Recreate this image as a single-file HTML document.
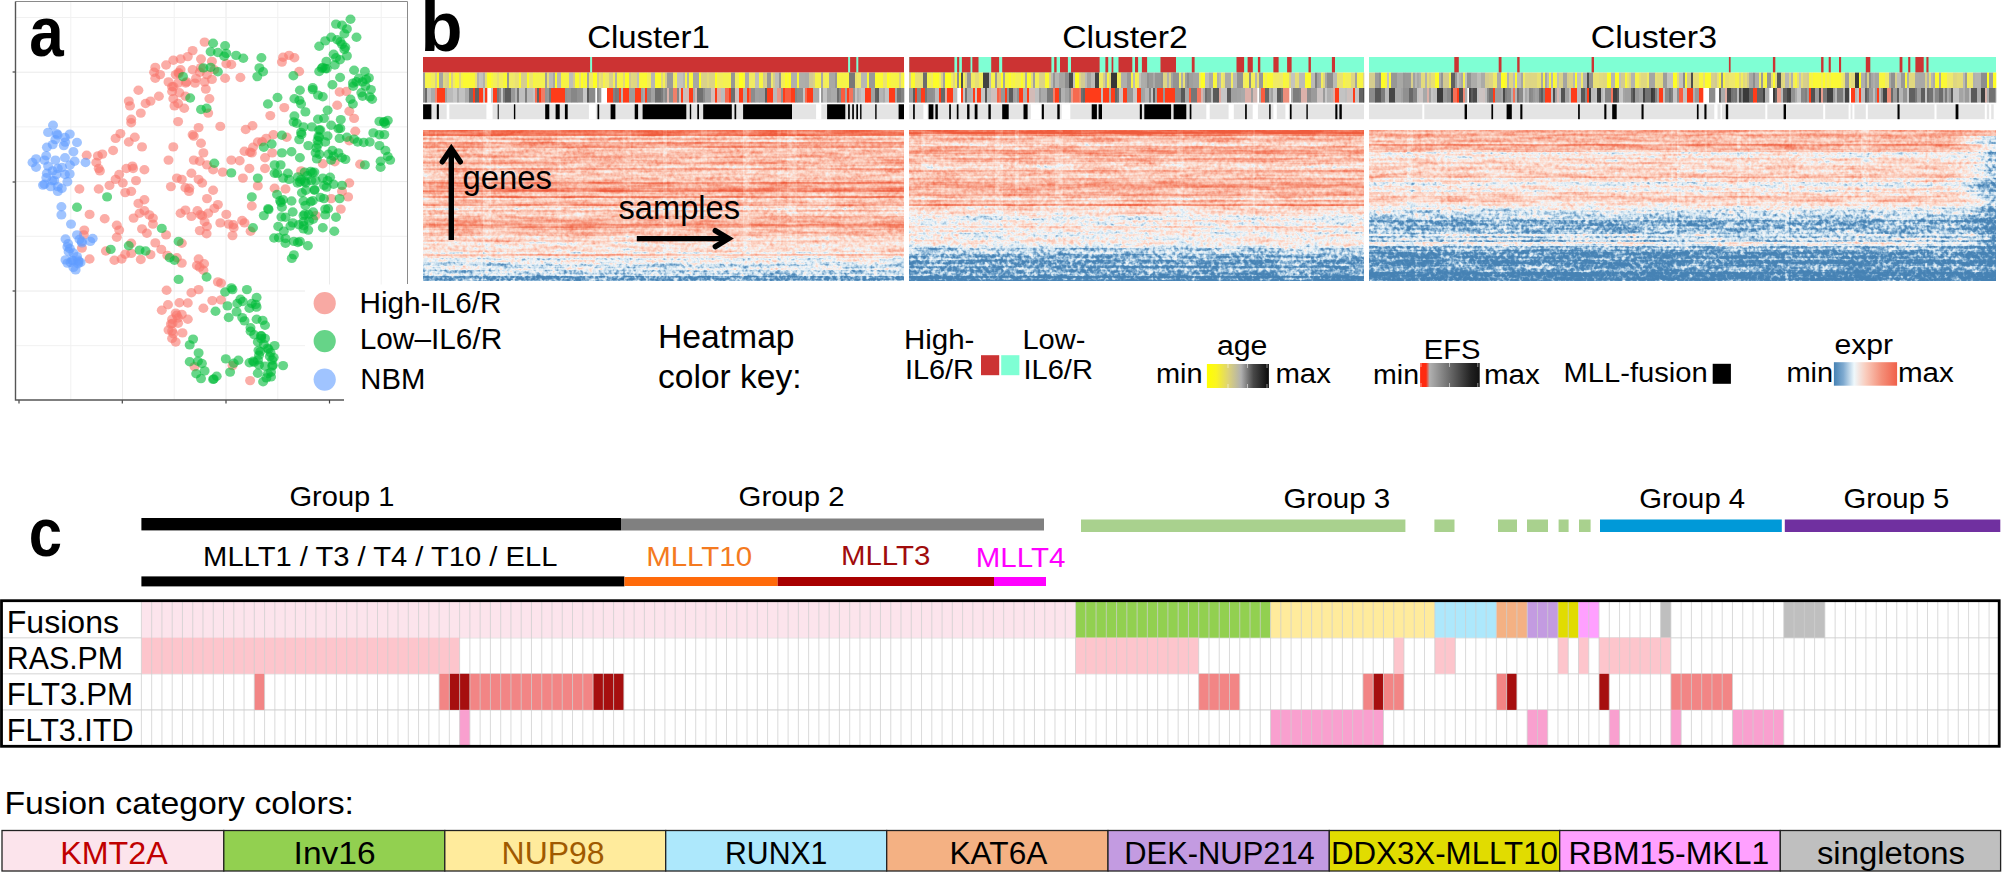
<!DOCTYPE html>
<html lang="en"><head><meta charset="utf-8"><title>Figure</title>
<style>html,body{margin:0;padding:0;background:#fff}svg{display:block}text{font-family:"Liberation Sans",Arial,sans-serif;fill:#000}</style></head><body>
<svg width="2002" height="872" viewBox="0 0 2002 872">
<rect width="2002" height="872" fill="#fff"/>
<defs>
<filter id="hm" x="0" y="0" width="1" height="1" color-interpolation-filters="sRGB">
<feTurbulence type="fractalNoise" baseFrequency="0.27 0.27" numOctaves="2" seed="7" result="n0"/>
<feColorMatrix in="n0" type="matrix" values="1 0 0 0 0 1 0 0 0 0 1 0 0 0 0 0 0 0 0 1" result="n"/>
<feTurbulence type="fractalNoise" baseFrequency="0.025 0.26" numOctaves="2" seed="23" result="s0"/>
<feColorMatrix in="s0" type="matrix" values="0 1 0 0 0 0 1 0 0 0 0 1 0 0 0 0 0 0 0 1" result="s"/>
<feComposite in="SourceGraphic" in2="n" operator="arithmetic" k1="-0.7" k2="1.35" k3="0.8" k4="-0.4" result="v1"/>
<feComposite in="v1" in2="s" operator="arithmetic" k1="0" k2="1" k3="0.36" k4="-0.18" result="v"/>
<feComponentTransfer in="v">
<feFuncR type="table" tableValues="0.275 0.275 0.314 0.529 0.804 0.949 0.992 0.984 0.973 0.957 0.941"/>
<feFuncG type="table" tableValues="0.510 0.510 0.541 0.698 0.886 0.965 0.878 0.769 0.627 0.486 0.361"/>
<feFuncB type="table" tableValues="0.706 0.706 0.729 0.831 0.941 0.976 0.831 0.698 0.533 0.376 0.243"/>
</feComponentTransfer>
</filter>
<linearGradient id="gAge" x1="0" x2="1" y1="0" y2="0"><stop offset="0" stop-color="#ffff00"/><stop offset="0.15" stop-color="#fbf520"/><stop offset="0.35" stop-color="#dcd278"/><stop offset="0.55" stop-color="#b0b0b0"/><stop offset="0.75" stop-color="#484848"/><stop offset="1" stop-color="#0a0a0a"/></linearGradient>
<linearGradient id="gEfs" x1="0" x2="1" y1="0" y2="0"><stop offset="0" stop-color="#ff2a10"/><stop offset="0.1" stop-color="#ff2a10"/><stop offset="0.16" stop-color="#b0b0b0"/><stop offset="0.5" stop-color="#6a6a6a"/><stop offset="0.85" stop-color="#222"/><stop offset="1" stop-color="#111"/></linearGradient>
<linearGradient id="gExpr" x1="0" x2="1" y1="0" y2="0"><stop offset="0" stop-color="#4682B4"/><stop offset="0.15" stop-color="#7faad0"/><stop offset="0.32" stop-color="#eef8fc"/><stop offset="0.5" stop-color="#f9cdbe"/><stop offset="0.75" stop-color="#f4907a"/><stop offset="1" stop-color="#f0604a"/></linearGradient>
<linearGradient id="gEdge" x1="0" x2="1" y1="0" y2="0"><stop offset="0" stop-color="#000" stop-opacity="0"/><stop offset="0.5" stop-color="#000" stop-opacity="0.12"/><stop offset="1" stop-color="#000" stop-opacity="0.42"/></linearGradient>
</defs>
<g id="panel-a">
<line x1="70.8" y1="1.5" x2="70.8" y2="400" stroke="#f1f1f1" stroke-width="1"/>
<line x1="122.5" y1="1.5" x2="122.5" y2="400" stroke="#eaeaea" stroke-width="1"/>
<line x1="174.2" y1="1.5" x2="174.2" y2="400" stroke="#f1f1f1" stroke-width="1"/>
<line x1="226.0" y1="1.5" x2="226.0" y2="400" stroke="#eaeaea" stroke-width="1"/>
<line x1="277.8" y1="1.5" x2="277.8" y2="400" stroke="#f1f1f1" stroke-width="1"/>
<line x1="329.5" y1="1.5" x2="329.5" y2="400" stroke="#eaeaea" stroke-width="1"/>
<line x1="381.2" y1="1.5" x2="381.2" y2="400" stroke="#f1f1f1" stroke-width="1"/>
<line x1="15.5" y1="17.5" x2="407.5" y2="17.5" stroke="#f1f1f1" stroke-width="1"/>
<line x1="15.5" y1="72.2" x2="407.5" y2="72.2" stroke="#eaeaea" stroke-width="1"/>
<line x1="15.5" y1="126.9" x2="407.5" y2="126.9" stroke="#f1f1f1" stroke-width="1"/>
<line x1="15.5" y1="181.6" x2="407.5" y2="181.6" stroke="#eaeaea" stroke-width="1"/>
<line x1="15.5" y1="236.3" x2="407.5" y2="236.3" stroke="#f1f1f1" stroke-width="1"/>
<line x1="15.5" y1="291.0" x2="407.5" y2="291.0" stroke="#eaeaea" stroke-width="1"/>
<line x1="15.5" y1="345.7" x2="407.5" y2="345.7" stroke="#f1f1f1" stroke-width="1"/>
<path d="M15.5 1.5H407.5V284" fill="none" stroke="#8a8a8a" stroke-width="1"/>
<line x1="12.6" y1="72" x2="15.5" y2="72" stroke="#444" stroke-width="1.2"/>
<line x1="12.6" y1="182" x2="15.5" y2="182" stroke="#444" stroke-width="1.2"/>
<line x1="12.6" y1="291" x2="15.5" y2="291" stroke="#444" stroke-width="1.2"/>
<line x1="19" y1="400" x2="19" y2="403.5" stroke="#444" stroke-width="1.2"/>
<line x1="122.3" y1="400" x2="122.3" y2="403.5" stroke="#444" stroke-width="1.2"/>
<line x1="226" y1="400" x2="226" y2="403.5" stroke="#444" stroke-width="1.2"/>
<line x1="329.5" y1="400" x2="329.5" y2="403.5" stroke="#444" stroke-width="1.2"/>
<g fill="#F8766D" fill-opacity="0.6"><ellipse cx="204.6" cy="42.1" rx="5" ry="4.7"/><ellipse cx="192.6" cy="50.6" rx="5" ry="4.7"/><ellipse cx="187.8" cy="56.6" rx="5" ry="4.7"/><ellipse cx="180.6" cy="59.0" rx="5" ry="4.7"/><ellipse cx="173.3" cy="60.2" rx="5" ry="4.7"/><ellipse cx="201.0" cy="59.0" rx="5" ry="4.7"/><ellipse cx="166.1" cy="65.0" rx="5" ry="4.7"/><ellipse cx="155.3" cy="67.4" rx="5" ry="4.7"/><ellipse cx="154.1" cy="72.2" rx="5" ry="4.7"/><ellipse cx="160.1" cy="74.6" rx="5" ry="4.7"/><ellipse cx="155.3" cy="78.2" rx="5" ry="4.7"/><ellipse cx="168.5" cy="81.9" rx="5" ry="4.7"/><ellipse cx="175.7" cy="74.6" rx="5" ry="4.7"/><ellipse cx="180.6" cy="69.8" rx="5" ry="4.7"/><ellipse cx="192.6" cy="69.8" rx="5" ry="4.7"/><ellipse cx="199.8" cy="72.2" rx="5" ry="4.7"/><ellipse cx="207.0" cy="74.6" rx="5" ry="4.7"/><ellipse cx="214.3" cy="69.8" rx="5" ry="4.7"/><ellipse cx="211.9" cy="61.4" rx="5" ry="4.7"/><ellipse cx="226.3" cy="63.8" rx="5" ry="4.7"/><ellipse cx="225.1" cy="78.2" rx="5" ry="4.7"/><ellipse cx="211.9" cy="79.4" rx="5" ry="4.7"/><ellipse cx="204.6" cy="81.9" rx="5" ry="4.7"/><ellipse cx="195.0" cy="83.1" rx="5" ry="4.7"/><ellipse cx="186.6" cy="81.9" rx="5" ry="4.7"/><ellipse cx="178.1" cy="83.1" rx="5" ry="4.7"/><ellipse cx="172.1" cy="91.5" rx="5" ry="4.7"/><ellipse cx="179.4" cy="92.7" rx="5" ry="4.7"/><ellipse cx="185.4" cy="96.3" rx="5" ry="4.7"/><ellipse cx="205.8" cy="89.1" rx="5" ry="4.7"/><ellipse cx="209.4" cy="98.7" rx="5" ry="4.7"/><ellipse cx="173.3" cy="98.7" rx="5" ry="4.7"/><ellipse cx="178.1" cy="103.5" rx="5" ry="4.7"/><ellipse cx="184.2" cy="108.3" rx="5" ry="4.7"/><ellipse cx="174.5" cy="105.9" rx="5" ry="4.7"/><ellipse cx="138.4" cy="90.3" rx="5" ry="4.7"/><ellipse cx="158.9" cy="96.3" rx="5" ry="4.7"/><ellipse cx="150.5" cy="101.1" rx="5" ry="4.7"/><ellipse cx="145.6" cy="103.5" rx="5" ry="4.7"/><ellipse cx="128.8" cy="101.1" rx="5" ry="4.7"/><ellipse cx="130.0" cy="105.9" rx="5" ry="4.7"/><ellipse cx="140.8" cy="113.1" rx="5" ry="4.7"/><ellipse cx="131.2" cy="119.2" rx="5" ry="4.7"/><ellipse cx="131.2" cy="122.8" rx="5" ry="4.7"/><ellipse cx="178.1" cy="121.6" rx="5" ry="4.7"/><ellipse cx="208.2" cy="113.1" rx="5" ry="4.7"/><ellipse cx="198.6" cy="127.6" rx="5" ry="4.7"/><ellipse cx="220.3" cy="126.4" rx="5" ry="4.7"/><ellipse cx="192.6" cy="134.8" rx="5" ry="4.7"/><ellipse cx="201.0" cy="143.2" rx="5" ry="4.7"/><ellipse cx="120.4" cy="133.6" rx="5" ry="4.7"/><ellipse cx="115.6" cy="138.4" rx="5" ry="4.7"/><ellipse cx="134.8" cy="137.2" rx="5" ry="4.7"/><ellipse cx="128.8" cy="142.0" rx="5" ry="4.7"/><ellipse cx="142.0" cy="146.9" rx="5" ry="4.7"/><ellipse cx="113.1" cy="150.5" rx="5" ry="4.7"/><ellipse cx="102.3" cy="154.1" rx="5" ry="4.7"/><ellipse cx="86.7" cy="155.3" rx="5" ry="4.7"/><ellipse cx="96.3" cy="162.5" rx="5" ry="4.7"/><ellipse cx="98.7" cy="168.5" rx="5" ry="4.7"/><ellipse cx="99.9" cy="170.9" rx="5" ry="4.7"/><ellipse cx="173.3" cy="146.9" rx="5" ry="4.7"/><ellipse cx="203.4" cy="152.9" rx="5" ry="4.7"/><ellipse cx="168.5" cy="160.1" rx="5" ry="4.7"/><ellipse cx="193.8" cy="160.1" rx="5" ry="4.7"/><ellipse cx="199.8" cy="161.3" rx="5" ry="4.7"/><ellipse cx="207.0" cy="164.9" rx="5" ry="4.7"/><ellipse cx="213.1" cy="169.7" rx="5" ry="4.7"/><ellipse cx="222.7" cy="172.1" rx="5" ry="4.7"/><ellipse cx="132.4" cy="166.1" rx="5" ry="4.7"/><ellipse cx="126.4" cy="168.5" rx="5" ry="4.7"/><ellipse cx="144.4" cy="169.7" rx="5" ry="4.7"/><ellipse cx="119.2" cy="174.5" rx="5" ry="4.7"/><ellipse cx="115.6" cy="179.4" rx="5" ry="4.7"/><ellipse cx="109.5" cy="185.4" rx="5" ry="4.7"/><ellipse cx="122.8" cy="183.0" rx="5" ry="4.7"/><ellipse cx="136.0" cy="180.6" rx="5" ry="4.7"/><ellipse cx="98.7" cy="189.0" rx="5" ry="4.7"/><ellipse cx="79.4" cy="189.0" rx="5" ry="4.7"/><ellipse cx="125.2" cy="192.6" rx="5" ry="4.7"/><ellipse cx="131.2" cy="191.4" rx="5" ry="4.7"/><ellipse cx="144.4" cy="199.8" rx="5" ry="4.7"/><ellipse cx="138.4" cy="203.4" rx="5" ry="4.7"/><ellipse cx="176.9" cy="178.1" rx="5" ry="4.7"/><ellipse cx="181.8" cy="179.4" rx="5" ry="4.7"/><ellipse cx="191.4" cy="173.3" rx="5" ry="4.7"/><ellipse cx="198.6" cy="179.4" rx="5" ry="4.7"/><ellipse cx="170.9" cy="186.6" rx="5" ry="4.7"/><ellipse cx="185.4" cy="187.8" rx="5" ry="4.7"/><ellipse cx="189.0" cy="191.4" rx="5" ry="4.7"/><ellipse cx="202.2" cy="183.0" rx="5" ry="4.7"/><ellipse cx="213.1" cy="190.2" rx="5" ry="4.7"/><ellipse cx="207.0" cy="198.6" rx="5" ry="4.7"/><ellipse cx="217.9" cy="204.6" rx="5" ry="4.7"/><ellipse cx="231.3" cy="64.5" rx="5" ry="4.7"/><ellipse cx="240.4" cy="77.5" rx="5" ry="4.7"/><ellipse cx="283.1" cy="57.3" rx="5" ry="4.7"/><ellipse cx="289.1" cy="55.4" rx="5" ry="4.7"/><ellipse cx="294.4" cy="57.8" rx="5" ry="4.7"/><ellipse cx="281.9" cy="62.1" rx="5" ry="4.7"/><ellipse cx="299.2" cy="71.5" rx="5" ry="4.7"/><ellipse cx="339.6" cy="92.0" rx="5" ry="4.7"/><ellipse cx="346.4" cy="91.5" rx="5" ry="4.7"/><ellipse cx="337.2" cy="105.2" rx="5" ry="4.7"/><ellipse cx="349.3" cy="111.2" rx="5" ry="4.7"/><ellipse cx="354.1" cy="118.4" rx="5" ry="4.7"/><ellipse cx="284.3" cy="107.6" rx="5" ry="4.7"/><ellipse cx="270.3" cy="115.6" rx="5" ry="4.7"/><ellipse cx="252.5" cy="125.7" rx="5" ry="4.7"/><ellipse cx="245.7" cy="129.5" rx="5" ry="4.7"/><ellipse cx="355.3" cy="131.2" rx="5" ry="4.7"/><ellipse cx="349.3" cy="140.8" rx="5" ry="4.7"/><ellipse cx="273.4" cy="134.8" rx="5" ry="4.7"/><ellipse cx="266.2" cy="138.4" rx="5" ry="4.7"/><ellipse cx="257.8" cy="142.0" rx="5" ry="4.7"/><ellipse cx="286.7" cy="137.2" rx="5" ry="4.7"/><ellipse cx="253.0" cy="147.3" rx="5" ry="4.7"/><ellipse cx="244.5" cy="151.2" rx="5" ry="4.7"/><ellipse cx="251.8" cy="152.9" rx="5" ry="4.7"/><ellipse cx="272.2" cy="152.9" rx="5" ry="4.7"/><ellipse cx="265.0" cy="157.7" rx="5" ry="4.7"/><ellipse cx="231.3" cy="160.1" rx="5" ry="4.7"/><ellipse cx="239.7" cy="160.8" rx="5" ry="4.7"/><ellipse cx="249.4" cy="168.5" rx="5" ry="4.7"/><ellipse cx="242.9" cy="178.1" rx="5" ry="4.7"/><ellipse cx="265.0" cy="168.5" rx="5" ry="4.7"/><ellipse cx="301.1" cy="170.9" rx="5" ry="4.7"/><ellipse cx="322.8" cy="163.7" rx="5" ry="4.7"/><ellipse cx="334.8" cy="161.8" rx="5" ry="4.7"/><ellipse cx="360.1" cy="164.2" rx="5" ry="4.7"/><ellipse cx="349.3" cy="183.0" rx="5" ry="4.7"/><ellipse cx="342.0" cy="191.4" rx="5" ry="4.7"/><ellipse cx="257.8" cy="185.9" rx="5" ry="4.7"/><ellipse cx="274.6" cy="188.3" rx="5" ry="4.7"/><ellipse cx="285.5" cy="189.0" rx="5" ry="4.7"/><ellipse cx="331.2" cy="198.6" rx="5" ry="4.7"/><ellipse cx="348.1" cy="196.9" rx="5" ry="4.7"/><ellipse cx="89.6" cy="214.4" rx="5" ry="4.7"/><ellipse cx="104.7" cy="218.8" rx="5" ry="4.7"/><ellipse cx="84.3" cy="230.1" rx="5" ry="4.7"/><ellipse cx="83.8" cy="234.9" rx="5" ry="4.7"/><ellipse cx="81.9" cy="248.1" rx="5" ry="4.7"/><ellipse cx="89.6" cy="259.0" rx="5" ry="4.7"/><ellipse cx="105.9" cy="251.0" rx="5" ry="4.7"/><ellipse cx="114.4" cy="260.2" rx="5" ry="4.7"/><ellipse cx="121.6" cy="259.0" rx="5" ry="4.7"/><ellipse cx="125.2" cy="254.2" rx="5" ry="4.7"/><ellipse cx="131.2" cy="253.4" rx="5" ry="4.7"/><ellipse cx="140.8" cy="259.5" rx="5" ry="4.7"/><ellipse cx="150.5" cy="254.6" rx="5" ry="4.7"/><ellipse cx="116.8" cy="225.3" rx="5" ry="4.7"/><ellipse cx="119.2" cy="230.1" rx="5" ry="4.7"/><ellipse cx="116.8" cy="237.3" rx="5" ry="4.7"/><ellipse cx="131.2" cy="243.3" rx="5" ry="4.7"/><ellipse cx="133.6" cy="218.1" rx="5" ry="4.7"/><ellipse cx="139.6" cy="213.2" rx="5" ry="4.7"/><ellipse cx="144.4" cy="210.8" rx="5" ry="4.7"/><ellipse cx="149.3" cy="214.9" rx="5" ry="4.7"/><ellipse cx="152.9" cy="218.1" rx="5" ry="4.7"/><ellipse cx="142.0" cy="228.9" rx="5" ry="4.7"/><ellipse cx="146.9" cy="233.2" rx="5" ry="4.7"/><ellipse cx="152.9" cy="224.1" rx="5" ry="4.7"/><ellipse cx="155.3" cy="242.9" rx="5" ry="4.7"/><ellipse cx="161.3" cy="249.4" rx="5" ry="4.7"/><ellipse cx="166.1" cy="234.9" rx="5" ry="4.7"/><ellipse cx="167.3" cy="255.4" rx="5" ry="4.7"/><ellipse cx="181.8" cy="243.3" rx="5" ry="4.7"/><ellipse cx="181.8" cy="263.1" rx="5" ry="4.7"/><ellipse cx="176.9" cy="257.8" rx="5" ry="4.7"/><ellipse cx="180.6" cy="213.2" rx="5" ry="4.7"/><ellipse cx="185.4" cy="210.1" rx="5" ry="4.7"/><ellipse cx="191.4" cy="216.4" rx="5" ry="4.7"/><ellipse cx="197.4" cy="210.8" rx="5" ry="4.7"/><ellipse cx="202.2" cy="215.6" rx="5" ry="4.7"/><ellipse cx="204.6" cy="221.7" rx="5" ry="4.7"/><ellipse cx="207.0" cy="226.5" rx="5" ry="4.7"/><ellipse cx="199.8" cy="230.6" rx="5" ry="4.7"/><ellipse cx="206.6" cy="233.7" rx="5" ry="4.7"/><ellipse cx="208.2" cy="213.2" rx="5" ry="4.7"/><ellipse cx="214.3" cy="208.4" rx="5" ry="4.7"/><ellipse cx="226.3" cy="214.4" rx="5" ry="4.7"/><ellipse cx="220.3" cy="222.9" rx="5" ry="4.7"/><ellipse cx="228.7" cy="224.1" rx="5" ry="4.7"/><ellipse cx="198.6" cy="259.0" rx="5" ry="4.7"/><ellipse cx="204.1" cy="263.8" rx="5" ry="4.7"/><ellipse cx="196.9" cy="265.5" rx="5" ry="4.7"/><ellipse cx="203.4" cy="270.3" rx="5" ry="4.7"/><ellipse cx="217.9" cy="281.9" rx="5" ry="4.7"/><ellipse cx="221.0" cy="283.1" rx="5" ry="4.7"/><ellipse cx="198.6" cy="289.6" rx="5" ry="4.7"/><ellipse cx="191.4" cy="292.7" rx="5" ry="4.7"/><ellipse cx="166.6" cy="290.3" rx="5" ry="4.7"/><ellipse cx="179.4" cy="302.8" rx="5" ry="4.7"/><ellipse cx="187.8" cy="303.0" rx="5" ry="4.7"/><ellipse cx="168.0" cy="304.7" rx="5" ry="4.7"/><ellipse cx="161.8" cy="310.3" rx="5" ry="4.7"/><ellipse cx="212.3" cy="300.6" rx="5" ry="4.7"/><ellipse cx="221.0" cy="299.9" rx="5" ry="4.7"/><ellipse cx="203.4" cy="308.3" rx="5" ry="4.7"/><ellipse cx="175.7" cy="313.1" rx="5" ry="4.7"/><ellipse cx="181.8" cy="314.4" rx="5" ry="4.7"/><ellipse cx="178.1" cy="318.0" rx="5" ry="4.7"/><ellipse cx="172.1" cy="319.2" rx="5" ry="4.7"/><ellipse cx="187.8" cy="319.2" rx="5" ry="4.7"/><ellipse cx="170.9" cy="324.0" rx="5" ry="4.7"/><ellipse cx="178.1" cy="323.3" rx="5" ry="4.7"/><ellipse cx="168.5" cy="330.0" rx="5" ry="4.7"/><ellipse cx="173.3" cy="333.6" rx="5" ry="4.7"/><ellipse cx="182.5" cy="332.9" rx="5" ry="4.7"/><ellipse cx="172.1" cy="338.4" rx="5" ry="4.7"/><ellipse cx="175.7" cy="342.0" rx="5" ry="4.7"/><ellipse cx="194.5" cy="366.6" rx="5" ry="4.7"/><ellipse cx="233.7" cy="227.7" rx="5" ry="4.7"/><ellipse cx="242.1" cy="220.5" rx="5" ry="4.7"/><ellipse cx="244.5" cy="222.9" rx="5" ry="4.7"/><ellipse cx="250.6" cy="231.3" rx="5" ry="4.7"/><ellipse cx="232.5" cy="235.6" rx="5" ry="4.7"/><ellipse cx="251.8" cy="206.0" rx="5" ry="4.7"/><ellipse cx="340.8" cy="209.1" rx="5" ry="4.7"/><ellipse cx="315.6" cy="215.6" rx="5" ry="4.7"/><ellipse cx="232.5" cy="365.6" rx="5" ry="4.7"/><ellipse cx="250.1" cy="380.6" rx="5" ry="4.7"/><ellipse cx="172.0" cy="86.8" rx="5" ry="4.7"/><ellipse cx="178.7" cy="73.7" rx="5" ry="4.7"/><ellipse cx="178.5" cy="72.5" rx="5" ry="4.7"/><ellipse cx="200.9" cy="67.6" rx="5" ry="4.7"/><ellipse cx="196.0" cy="78.4" rx="5" ry="4.7"/><ellipse cx="185.7" cy="83.0" rx="5" ry="4.7"/><ellipse cx="173.5" cy="86.8" rx="5" ry="4.7"/><ellipse cx="193.8" cy="136.1" rx="5" ry="4.7"/><ellipse cx="97.9" cy="155.9" rx="5" ry="4.7"/><ellipse cx="133.1" cy="168.5" rx="5" ry="4.7"/><ellipse cx="189.3" cy="188.3" rx="5" ry="4.7"/><ellipse cx="262.1" cy="141.7" rx="5" ry="4.7"/><ellipse cx="250.1" cy="152.3" rx="5" ry="4.7"/><ellipse cx="200.4" cy="214.7" rx="5" ry="4.7"/><ellipse cx="199.6" cy="267.1" rx="5" ry="4.7"/><ellipse cx="176.7" cy="315.3" rx="5" ry="4.7"/><ellipse cx="172.5" cy="323.5" rx="5" ry="4.7"/><ellipse cx="172.1" cy="331.0" rx="5" ry="4.7"/><ellipse cx="233.3" cy="224.7" rx="5" ry="4.7"/></g>
<g fill="#00BA38" fill-opacity="0.6"><ellipse cx="213.1" cy="43.3" rx="5" ry="4.7"/><ellipse cx="225.1" cy="45.7" rx="5" ry="4.7"/><ellipse cx="210.6" cy="51.8" rx="5" ry="4.7"/><ellipse cx="217.9" cy="52.5" rx="5" ry="4.7"/><ellipse cx="226.3" cy="53.4" rx="5" ry="4.7"/><ellipse cx="203.4" cy="67.9" rx="5" ry="4.7"/><ellipse cx="210.6" cy="67.4" rx="5" ry="4.7"/><ellipse cx="217.9" cy="71.7" rx="5" ry="4.7"/><ellipse cx="183.0" cy="76.6" rx="5" ry="4.7"/><ellipse cx="190.2" cy="98.0" rx="5" ry="4.7"/><ellipse cx="201.0" cy="109.5" rx="5" ry="4.7"/><ellipse cx="206.6" cy="108.3" rx="5" ry="4.7"/><ellipse cx="214.3" cy="163.2" rx="5" ry="4.7"/><ellipse cx="107.1" cy="196.9" rx="5" ry="4.7"/><ellipse cx="350.5" cy="19.3" rx="5" ry="4.7"/><ellipse cx="336.0" cy="24.1" rx="5" ry="4.7"/><ellipse cx="342.0" cy="25.3" rx="5" ry="4.7"/><ellipse cx="346.9" cy="28.9" rx="5" ry="4.7"/><ellipse cx="344.4" cy="33.7" rx="5" ry="4.7"/><ellipse cx="356.5" cy="37.3" rx="5" ry="4.7"/><ellipse cx="331.2" cy="37.3" rx="5" ry="4.7"/><ellipse cx="337.2" cy="39.7" rx="5" ry="4.7"/><ellipse cx="325.2" cy="40.9" rx="5" ry="4.7"/><ellipse cx="319.2" cy="46.2" rx="5" ry="4.7"/><ellipse cx="342.0" cy="44.5" rx="5" ry="4.7"/><ellipse cx="344.4" cy="49.4" rx="5" ry="4.7"/><ellipse cx="333.6" cy="54.2" rx="5" ry="4.7"/><ellipse cx="336.0" cy="57.8" rx="5" ry="4.7"/><ellipse cx="346.9" cy="55.9" rx="5" ry="4.7"/><ellipse cx="326.4" cy="61.4" rx="5" ry="4.7"/><ellipse cx="334.8" cy="65.0" rx="5" ry="4.7"/><ellipse cx="322.8" cy="67.4" rx="5" ry="4.7"/><ellipse cx="319.2" cy="71.5" rx="5" ry="4.7"/><ellipse cx="325.2" cy="68.6" rx="5" ry="4.7"/><ellipse cx="354.1" cy="70.3" rx="5" ry="4.7"/><ellipse cx="364.9" cy="71.5" rx="5" ry="4.7"/><ellipse cx="340.1" cy="77.5" rx="5" ry="4.7"/><ellipse cx="358.9" cy="78.2" rx="5" ry="4.7"/><ellipse cx="366.1" cy="79.4" rx="5" ry="4.7"/><ellipse cx="352.9" cy="83.1" rx="5" ry="4.7"/><ellipse cx="362.5" cy="81.9" rx="5" ry="4.7"/><ellipse cx="332.4" cy="84.7" rx="5" ry="4.7"/><ellipse cx="370.9" cy="89.6" rx="5" ry="4.7"/><ellipse cx="361.3" cy="92.7" rx="5" ry="4.7"/><ellipse cx="372.1" cy="99.2" rx="5" ry="4.7"/><ellipse cx="350.5" cy="99.2" rx="5" ry="4.7"/><ellipse cx="352.9" cy="104.0" rx="5" ry="4.7"/><ellipse cx="236.1" cy="55.4" rx="5" ry="4.7"/><ellipse cx="243.3" cy="58.3" rx="5" ry="4.7"/><ellipse cx="261.4" cy="57.8" rx="5" ry="4.7"/><ellipse cx="263.1" cy="71.7" rx="5" ry="4.7"/><ellipse cx="257.3" cy="76.6" rx="5" ry="4.7"/><ellipse cx="293.4" cy="75.8" rx="5" ry="4.7"/><ellipse cx="299.9" cy="90.3" rx="5" ry="4.7"/><ellipse cx="312.7" cy="89.6" rx="5" ry="4.7"/><ellipse cx="318.0" cy="95.1" rx="5" ry="4.7"/><ellipse cx="322.8" cy="96.8" rx="5" ry="4.7"/><ellipse cx="277.5" cy="97.5" rx="5" ry="4.7"/><ellipse cx="294.4" cy="98.7" rx="5" ry="4.7"/><ellipse cx="267.9" cy="104.0" rx="5" ry="4.7"/><ellipse cx="301.1" cy="104.0" rx="5" ry="4.7"/><ellipse cx="305.4" cy="111.9" rx="5" ry="4.7"/><ellipse cx="327.6" cy="110.3" rx="5" ry="4.7"/><ellipse cx="294.4" cy="116.0" rx="5" ry="4.7"/><ellipse cx="296.8" cy="123.3" rx="5" ry="4.7"/><ellipse cx="318.0" cy="119.2" rx="5" ry="4.7"/><ellipse cx="324.0" cy="118.4" rx="5" ry="4.7"/><ellipse cx="340.8" cy="119.6" rx="5" ry="4.7"/><ellipse cx="303.5" cy="126.9" rx="5" ry="4.7"/><ellipse cx="311.9" cy="126.9" rx="5" ry="4.7"/><ellipse cx="320.4" cy="130.0" rx="5" ry="4.7"/><ellipse cx="331.2" cy="125.2" rx="5" ry="4.7"/><ellipse cx="338.4" cy="128.8" rx="5" ry="4.7"/><ellipse cx="301.1" cy="132.4" rx="5" ry="4.7"/><ellipse cx="319.2" cy="137.2" rx="5" ry="4.7"/><ellipse cx="327.6" cy="136.0" rx="5" ry="4.7"/><ellipse cx="339.6" cy="138.4" rx="5" ry="4.7"/><ellipse cx="346.9" cy="137.2" rx="5" ry="4.7"/><ellipse cx="299.2" cy="139.6" rx="5" ry="4.7"/><ellipse cx="308.3" cy="145.6" rx="5" ry="4.7"/><ellipse cx="318.0" cy="144.4" rx="5" ry="4.7"/><ellipse cx="325.2" cy="142.0" rx="5" ry="4.7"/><ellipse cx="281.9" cy="135.3" rx="5" ry="4.7"/><ellipse cx="263.8" cy="147.3" rx="5" ry="4.7"/><ellipse cx="271.7" cy="144.0" rx="5" ry="4.7"/><ellipse cx="281.9" cy="152.9" rx="5" ry="4.7"/><ellipse cx="291.5" cy="151.7" rx="5" ry="4.7"/><ellipse cx="299.9" cy="157.7" rx="5" ry="4.7"/><ellipse cx="315.6" cy="152.9" rx="5" ry="4.7"/><ellipse cx="316.8" cy="158.9" rx="5" ry="4.7"/><ellipse cx="332.4" cy="150.5" rx="5" ry="4.7"/><ellipse cx="338.4" cy="152.9" rx="5" ry="4.7"/><ellipse cx="342.0" cy="157.7" rx="5" ry="4.7"/><ellipse cx="331.2" cy="160.1" rx="5" ry="4.7"/><ellipse cx="274.6" cy="164.9" rx="5" ry="4.7"/><ellipse cx="280.6" cy="164.9" rx="5" ry="4.7"/><ellipse cx="287.9" cy="173.3" rx="5" ry="4.7"/><ellipse cx="274.6" cy="173.3" rx="5" ry="4.7"/><ellipse cx="257.8" cy="178.1" rx="5" ry="4.7"/><ellipse cx="231.3" cy="172.9" rx="5" ry="4.7"/><ellipse cx="304.7" cy="172.1" rx="5" ry="4.7"/><ellipse cx="310.7" cy="171.4" rx="5" ry="4.7"/><ellipse cx="314.4" cy="172.1" rx="5" ry="4.7"/><ellipse cx="307.1" cy="175.7" rx="5" ry="4.7"/><ellipse cx="301.1" cy="179.4" rx="5" ry="4.7"/><ellipse cx="297.5" cy="183.0" rx="5" ry="4.7"/><ellipse cx="305.9" cy="183.0" rx="5" ry="4.7"/><ellipse cx="315.6" cy="180.6" rx="5" ry="4.7"/><ellipse cx="322.8" cy="178.1" rx="5" ry="4.7"/><ellipse cx="327.6" cy="180.6" rx="5" ry="4.7"/><ellipse cx="324.0" cy="185.4" rx="5" ry="4.7"/><ellipse cx="333.6" cy="184.2" rx="5" ry="4.7"/><ellipse cx="342.0" cy="185.4" rx="5" ry="4.7"/><ellipse cx="289.1" cy="179.4" rx="5" ry="4.7"/><ellipse cx="283.1" cy="178.1" rx="5" ry="4.7"/><ellipse cx="305.9" cy="190.2" rx="5" ry="4.7"/><ellipse cx="314.4" cy="190.2" rx="5" ry="4.7"/><ellipse cx="251.8" cy="196.9" rx="5" ry="4.7"/><ellipse cx="277.0" cy="194.5" rx="5" ry="4.7"/><ellipse cx="283.1" cy="199.8" rx="5" ry="4.7"/><ellipse cx="291.5" cy="201.0" rx="5" ry="4.7"/><ellipse cx="303.5" cy="201.0" rx="5" ry="4.7"/><ellipse cx="310.7" cy="201.7" rx="5" ry="4.7"/><ellipse cx="320.4" cy="197.4" rx="5" ry="4.7"/><ellipse cx="324.0" cy="198.6" rx="5" ry="4.7"/><ellipse cx="339.6" cy="198.6" rx="5" ry="4.7"/><ellipse cx="384.2" cy="121.6" rx="5" ry="4.7"/><ellipse cx="387.8" cy="120.4" rx="5" ry="4.7"/><ellipse cx="385.4" cy="124.0" rx="5" ry="4.7"/><ellipse cx="373.3" cy="132.9" rx="5" ry="4.7"/><ellipse cx="379.4" cy="134.8" rx="5" ry="4.7"/><ellipse cx="354.1" cy="139.1" rx="5" ry="4.7"/><ellipse cx="357.7" cy="142.0" rx="5" ry="4.7"/><ellipse cx="363.7" cy="142.5" rx="5" ry="4.7"/><ellipse cx="369.7" cy="142.0" rx="5" ry="4.7"/><ellipse cx="379.4" cy="145.6" rx="5" ry="4.7"/><ellipse cx="385.4" cy="150.5" rx="5" ry="4.7"/><ellipse cx="387.8" cy="156.5" rx="5" ry="4.7"/><ellipse cx="390.2" cy="160.1" rx="5" ry="4.7"/><ellipse cx="380.6" cy="161.3" rx="5" ry="4.7"/><ellipse cx="380.6" cy="167.3" rx="5" ry="4.7"/><ellipse cx="364.9" cy="164.9" rx="5" ry="4.7"/><ellipse cx="77.0" cy="207.2" rx="5" ry="4.7"/><ellipse cx="161.8" cy="228.4" rx="5" ry="4.7"/><ellipse cx="178.6" cy="241.4" rx="5" ry="4.7"/><ellipse cx="110.7" cy="249.4" rx="5" ry="4.7"/><ellipse cx="128.8" cy="245.7" rx="5" ry="4.7"/><ellipse cx="139.6" cy="250.1" rx="5" ry="4.7"/><ellipse cx="145.6" cy="251.0" rx="5" ry="4.7"/><ellipse cx="169.7" cy="257.8" rx="5" ry="4.7"/><ellipse cx="174.5" cy="260.2" rx="5" ry="4.7"/><ellipse cx="178.6" cy="279.4" rx="5" ry="4.7"/><ellipse cx="206.6" cy="277.0" rx="5" ry="4.7"/><ellipse cx="225.1" cy="292.0" rx="5" ry="4.7"/><ellipse cx="227.5" cy="305.9" rx="5" ry="4.7"/><ellipse cx="215.5" cy="311.2" rx="5" ry="4.7"/><ellipse cx="228.7" cy="317.5" rx="5" ry="4.7"/><ellipse cx="193.1" cy="339.1" rx="5" ry="4.7"/><ellipse cx="189.7" cy="344.9" rx="5" ry="4.7"/><ellipse cx="198.6" cy="352.9" rx="5" ry="4.7"/><ellipse cx="189.7" cy="361.8" rx="5" ry="4.7"/><ellipse cx="197.9" cy="361.3" rx="5" ry="4.7"/><ellipse cx="225.8" cy="358.9" rx="5" ry="4.7"/><ellipse cx="196.2" cy="373.8" rx="5" ry="4.7"/><ellipse cx="204.6" cy="370.9" rx="5" ry="4.7"/><ellipse cx="201.0" cy="378.6" rx="5" ry="4.7"/><ellipse cx="213.1" cy="379.4" rx="5" ry="4.7"/><ellipse cx="216.7" cy="376.2" rx="5" ry="4.7"/><ellipse cx="268.6" cy="209.6" rx="5" ry="4.7"/><ellipse cx="263.8" cy="215.6" rx="5" ry="4.7"/><ellipse cx="253.0" cy="227.7" rx="5" ry="4.7"/><ellipse cx="281.9" cy="207.2" rx="5" ry="4.7"/><ellipse cx="292.7" cy="212.0" rx="5" ry="4.7"/><ellipse cx="285.5" cy="217.3" rx="5" ry="4.7"/><ellipse cx="303.5" cy="215.6" rx="5" ry="4.7"/><ellipse cx="313.1" cy="212.0" rx="5" ry="4.7"/><ellipse cx="325.2" cy="209.1" rx="5" ry="4.7"/><ellipse cx="325.2" cy="214.9" rx="5" ry="4.7"/><ellipse cx="336.0" cy="217.3" rx="5" ry="4.7"/><ellipse cx="292.7" cy="222.9" rx="5" ry="4.7"/><ellipse cx="303.5" cy="221.7" rx="5" ry="4.7"/><ellipse cx="313.1" cy="219.3" rx="5" ry="4.7"/><ellipse cx="278.2" cy="226.5" rx="5" ry="4.7"/><ellipse cx="283.8" cy="231.3" rx="5" ry="4.7"/><ellipse cx="303.5" cy="228.9" rx="5" ry="4.7"/><ellipse cx="308.3" cy="230.1" rx="5" ry="4.7"/><ellipse cx="322.8" cy="227.7" rx="5" ry="4.7"/><ellipse cx="334.3" cy="231.3" rx="5" ry="4.7"/><ellipse cx="274.1" cy="238.0" rx="5" ry="4.7"/><ellipse cx="285.5" cy="238.5" rx="5" ry="4.7"/><ellipse cx="285.5" cy="243.3" rx="5" ry="4.7"/><ellipse cx="293.9" cy="241.4" rx="5" ry="4.7"/><ellipse cx="299.9" cy="241.4" rx="5" ry="4.7"/><ellipse cx="307.9" cy="245.7" rx="5" ry="4.7"/><ellipse cx="293.9" cy="254.9" rx="5" ry="4.7"/><ellipse cx="232.5" cy="289.6" rx="5" ry="4.7"/><ellipse cx="246.9" cy="289.6" rx="5" ry="4.7"/><ellipse cx="256.6" cy="297.5" rx="5" ry="4.7"/><ellipse cx="240.4" cy="299.2" rx="5" ry="4.7"/><ellipse cx="237.3" cy="303.5" rx="5" ry="4.7"/><ellipse cx="251.8" cy="303.5" rx="5" ry="4.7"/><ellipse cx="249.4" cy="308.3" rx="5" ry="4.7"/><ellipse cx="256.6" cy="307.1" rx="5" ry="4.7"/><ellipse cx="236.6" cy="311.9" rx="5" ry="4.7"/><ellipse cx="244.5" cy="320.9" rx="5" ry="4.7"/><ellipse cx="256.6" cy="319.2" rx="5" ry="4.7"/><ellipse cx="262.6" cy="320.4" rx="5" ry="4.7"/><ellipse cx="265.0" cy="325.2" rx="5" ry="4.7"/><ellipse cx="250.6" cy="331.2" rx="5" ry="4.7"/><ellipse cx="254.2" cy="334.8" rx="5" ry="4.7"/><ellipse cx="261.4" cy="336.0" rx="5" ry="4.7"/><ellipse cx="265.0" cy="338.4" rx="5" ry="4.7"/><ellipse cx="257.8" cy="342.0" rx="5" ry="4.7"/><ellipse cx="263.8" cy="344.4" rx="5" ry="4.7"/><ellipse cx="274.6" cy="345.6" rx="5" ry="4.7"/><ellipse cx="268.6" cy="349.3" rx="5" ry="4.7"/><ellipse cx="260.2" cy="351.7" rx="5" ry="4.7"/><ellipse cx="259.0" cy="355.3" rx="5" ry="4.7"/><ellipse cx="269.8" cy="356.5" rx="5" ry="4.7"/><ellipse cx="272.2" cy="360.1" rx="5" ry="4.7"/><ellipse cx="253.0" cy="361.3" rx="5" ry="4.7"/><ellipse cx="259.0" cy="364.9" rx="5" ry="4.7"/><ellipse cx="265.0" cy="366.1" rx="5" ry="4.7"/><ellipse cx="272.2" cy="366.1" rx="5" ry="4.7"/><ellipse cx="283.1" cy="365.6" rx="5" ry="4.7"/><ellipse cx="257.8" cy="373.3" rx="5" ry="4.7"/><ellipse cx="271.0" cy="372.1" rx="5" ry="4.7"/><ellipse cx="271.0" cy="376.9" rx="5" ry="4.7"/><ellipse cx="263.1" cy="381.8" rx="5" ry="4.7"/><ellipse cx="233.7" cy="363.2" rx="5" ry="4.7"/><ellipse cx="230.1" cy="372.1" rx="5" ry="4.7"/><ellipse cx="224.2" cy="56.3" rx="5" ry="4.7"/><ellipse cx="340.4" cy="41.8" rx="5" ry="4.7"/><ellipse cx="345.3" cy="47.3" rx="5" ry="4.7"/><ellipse cx="340.0" cy="59.7" rx="5" ry="4.7"/><ellipse cx="321.7" cy="68.2" rx="5" ry="4.7"/><ellipse cx="326.8" cy="68.8" rx="5" ry="4.7"/><ellipse cx="356.4" cy="81.8" rx="5" ry="4.7"/><ellipse cx="368.9" cy="77.9" rx="5" ry="4.7"/><ellipse cx="353.2" cy="86.3" rx="5" ry="4.7"/><ellipse cx="365.4" cy="86.1" rx="5" ry="4.7"/><ellipse cx="362.6" cy="96.3" rx="5" ry="4.7"/><ellipse cx="369.8" cy="96.9" rx="5" ry="4.7"/><ellipse cx="259.4" cy="67.9" rx="5" ry="4.7"/><ellipse cx="312.7" cy="87.8" rx="5" ry="4.7"/><ellipse cx="299.4" cy="100.2" rx="5" ry="4.7"/><ellipse cx="293.6" cy="122.0" rx="5" ry="4.7"/><ellipse cx="319.1" cy="130.0" rx="5" ry="4.7"/><ellipse cx="340.3" cy="128.4" rx="5" ry="4.7"/><ellipse cx="301.5" cy="134.4" rx="5" ry="4.7"/><ellipse cx="318.4" cy="136.5" rx="5" ry="4.7"/><ellipse cx="317.6" cy="140.6" rx="5" ry="4.7"/><ellipse cx="316.5" cy="147.9" rx="5" ry="4.7"/><ellipse cx="319.5" cy="154.3" rx="5" ry="4.7"/><ellipse cx="328.4" cy="154.3" rx="5" ry="4.7"/><ellipse cx="333.6" cy="156.3" rx="5" ry="4.7"/><ellipse cx="345.4" cy="159.4" rx="5" ry="4.7"/><ellipse cx="277.3" cy="173.4" rx="5" ry="4.7"/><ellipse cx="312.6" cy="172.7" rx="5" ry="4.7"/><ellipse cx="297.9" cy="176.9" rx="5" ry="4.7"/><ellipse cx="300.0" cy="181.9" rx="5" ry="4.7"/><ellipse cx="304.9" cy="181.5" rx="5" ry="4.7"/><ellipse cx="311.4" cy="180.6" rx="5" ry="4.7"/><ellipse cx="330.1" cy="177.2" rx="5" ry="4.7"/><ellipse cx="326.6" cy="187.1" rx="5" ry="4.7"/><ellipse cx="301.9" cy="192.7" rx="5" ry="4.7"/><ellipse cx="314.6" cy="189.6" rx="5" ry="4.7"/><ellipse cx="280.1" cy="200.7" rx="5" ry="4.7"/><ellipse cx="305.4" cy="205.5" rx="5" ry="4.7"/><ellipse cx="312.8" cy="200.8" rx="5" ry="4.7"/><ellipse cx="379.4" cy="121.4" rx="5" ry="4.7"/><ellipse cx="384.0" cy="122.2" rx="5" ry="4.7"/><ellipse cx="384.3" cy="134.6" rx="5" ry="4.7"/><ellipse cx="201.9" cy="363.5" rx="5" ry="4.7"/><ellipse cx="213.8" cy="379.0" rx="5" ry="4.7"/><ellipse cx="268.1" cy="208.7" rx="5" ry="4.7"/><ellipse cx="280.9" cy="202.5" rx="5" ry="4.7"/><ellipse cx="281.4" cy="217.0" rx="5" ry="4.7"/><ellipse cx="304.7" cy="214.1" rx="5" ry="4.7"/><ellipse cx="308.6" cy="214.3" rx="5" ry="4.7"/><ellipse cx="328.1" cy="208.8" rx="5" ry="4.7"/><ellipse cx="290.4" cy="226.0" rx="5" ry="4.7"/><ellipse cx="309.0" cy="221.1" rx="5" ry="4.7"/><ellipse cx="298.8" cy="224.8" rx="5" ry="4.7"/><ellipse cx="303.7" cy="225.6" rx="5" ry="4.7"/><ellipse cx="278.8" cy="237.8" rx="5" ry="4.7"/><ellipse cx="297.9" cy="242.5" rx="5" ry="4.7"/><ellipse cx="291.8" cy="258.4" rx="5" ry="4.7"/><ellipse cx="231.4" cy="287.9" rx="5" ry="4.7"/><ellipse cx="242.8" cy="301.5" rx="5" ry="4.7"/><ellipse cx="255.7" cy="304.4" rx="5" ry="4.7"/><ellipse cx="242.2" cy="317.6" rx="5" ry="4.7"/><ellipse cx="250.5" cy="327.7" rx="5" ry="4.7"/><ellipse cx="261.1" cy="338.6" rx="5" ry="4.7"/><ellipse cx="261.0" cy="335.8" rx="5" ry="4.7"/><ellipse cx="267.6" cy="348.1" rx="5" ry="4.7"/><ellipse cx="258.5" cy="350.4" rx="5" ry="4.7"/><ellipse cx="258.0" cy="359.9" rx="5" ry="4.7"/><ellipse cx="270.5" cy="352.6" rx="5" ry="4.7"/><ellipse cx="273.7" cy="357.5" rx="5" ry="4.7"/><ellipse cx="249.5" cy="362.7" rx="5" ry="4.7"/><ellipse cx="254.1" cy="362.2" rx="5" ry="4.7"/><ellipse cx="272.8" cy="365.3" rx="5" ry="4.7"/><ellipse cx="267.9" cy="373.7" rx="5" ry="4.7"/><ellipse cx="266.4" cy="377.9" rx="5" ry="4.7"/><ellipse cx="238.4" cy="360.2" rx="5" ry="4.7"/></g>
<g fill="#619CFF" fill-opacity="0.6"><ellipse cx="53.0" cy="125.2" rx="5" ry="4.7"/><ellipse cx="48.1" cy="132.4" rx="5" ry="4.7"/><ellipse cx="56.6" cy="133.6" rx="5" ry="4.7"/><ellipse cx="69.8" cy="134.1" rx="5" ry="4.7"/><ellipse cx="55.4" cy="139.6" rx="5" ry="4.7"/><ellipse cx="77.0" cy="142.5" rx="5" ry="4.7"/><ellipse cx="46.9" cy="147.3" rx="5" ry="4.7"/><ellipse cx="63.8" cy="145.6" rx="5" ry="4.7"/><ellipse cx="73.4" cy="151.7" rx="5" ry="4.7"/><ellipse cx="36.1" cy="158.9" rx="5" ry="4.7"/><ellipse cx="32.5" cy="162.5" rx="5" ry="4.7"/><ellipse cx="44.5" cy="160.1" rx="5" ry="4.7"/><ellipse cx="55.4" cy="160.1" rx="5" ry="4.7"/><ellipse cx="65.0" cy="157.7" rx="5" ry="4.7"/><ellipse cx="74.6" cy="161.3" rx="5" ry="4.7"/><ellipse cx="85.5" cy="162.5" rx="5" ry="4.7"/><ellipse cx="36.1" cy="167.3" rx="5" ry="4.7"/><ellipse cx="48.1" cy="166.1" rx="5" ry="4.7"/><ellipse cx="57.8" cy="168.5" rx="5" ry="4.7"/><ellipse cx="46.9" cy="173.3" rx="5" ry="4.7"/><ellipse cx="56.6" cy="174.5" rx="5" ry="4.7"/><ellipse cx="65.0" cy="174.5" rx="5" ry="4.7"/><ellipse cx="54.2" cy="180.6" rx="5" ry="4.7"/><ellipse cx="44.5" cy="184.2" rx="5" ry="4.7"/><ellipse cx="57.8" cy="186.6" rx="5" ry="4.7"/><ellipse cx="67.4" cy="181.8" rx="5" ry="4.7"/><ellipse cx="50.6" cy="186.6" rx="5" ry="4.7"/><ellipse cx="57.8" cy="191.4" rx="5" ry="4.7"/><ellipse cx="61.4" cy="206.7" rx="5" ry="4.7"/><ellipse cx="61.4" cy="214.9" rx="5" ry="4.7"/><ellipse cx="71.0" cy="224.1" rx="5" ry="4.7"/><ellipse cx="77.0" cy="234.9" rx="5" ry="4.7"/><ellipse cx="65.5" cy="239.0" rx="5" ry="4.7"/><ellipse cx="92.7" cy="238.5" rx="5" ry="4.7"/><ellipse cx="81.9" cy="242.9" rx="5" ry="4.7"/><ellipse cx="90.3" cy="241.4" rx="5" ry="4.7"/><ellipse cx="67.4" cy="246.9" rx="5" ry="4.7"/><ellipse cx="68.6" cy="251.8" rx="5" ry="4.7"/><ellipse cx="73.4" cy="253.0" rx="5" ry="4.7"/><ellipse cx="77.0" cy="256.6" rx="5" ry="4.7"/><ellipse cx="72.2" cy="260.2" rx="5" ry="4.7"/><ellipse cx="78.2" cy="260.2" rx="5" ry="4.7"/><ellipse cx="67.4" cy="263.1" rx="5" ry="4.7"/><ellipse cx="73.4" cy="267.4" rx="5" ry="4.7"/><ellipse cx="78.2" cy="263.8" rx="5" ry="4.7"/><ellipse cx="57.6" cy="134.9" rx="5" ry="4.7"/><ellipse cx="64.9" cy="137.5" rx="5" ry="4.7"/><ellipse cx="52.7" cy="144.6" rx="5" ry="4.7"/><ellipse cx="65.2" cy="142.1" rx="5" ry="4.7"/><ellipse cx="46.2" cy="155.7" rx="5" ry="4.7"/><ellipse cx="69.9" cy="165.0" rx="5" ry="4.7"/><ellipse cx="62.0" cy="167.4" rx="5" ry="4.7"/><ellipse cx="46.3" cy="177.7" rx="5" ry="4.7"/><ellipse cx="52.6" cy="170.9" rx="5" ry="4.7"/><ellipse cx="69.7" cy="173.9" rx="5" ry="4.7"/><ellipse cx="52.2" cy="180.7" rx="5" ry="4.7"/><ellipse cx="43.0" cy="185.1" rx="5" ry="4.7"/><ellipse cx="61.8" cy="188.4" rx="5" ry="4.7"/><ellipse cx="79.5" cy="239.5" rx="5" ry="4.7"/><ellipse cx="81.8" cy="241.4" rx="5" ry="4.7"/><ellipse cx="68.1" cy="243.7" rx="5" ry="4.7"/><ellipse cx="69.9" cy="248.6" rx="5" ry="4.7"/><ellipse cx="73.2" cy="260.9" rx="5" ry="4.7"/><ellipse cx="70.5" cy="262.4" rx="5" ry="4.7"/><ellipse cx="78.7" cy="261.7" rx="5" ry="4.7"/><ellipse cx="65.5" cy="259.9" rx="5" ry="4.7"/><ellipse cx="75.6" cy="269.9" rx="5" ry="4.7"/><ellipse cx="80.6" cy="262.4" rx="5" ry="4.7"/></g>
<rect x="305" y="284.5" width="240" height="125" fill="#fff"/>
<path d="M15.5 1.5V400H344" fill="none" stroke="#555" stroke-width="1.4"/>
<line x1="329.5" y1="400" x2="329.5" y2="403.5" stroke="#444" stroke-width="1.2"/>
<circle cx="324.7" cy="303.2" r="11.1" fill="#F8A9A3"/>
<circle cx="324.7" cy="341.1" r="11.1" fill="#66D488"/>
<circle cx="324.7" cy="379.6" r="11.1" fill="#A0C4FF"/>
<text x="359.5" y="313.2" font-size="28.6" textLength="142" lengthAdjust="spacingAndGlyphs">High-IL6/R</text>
<text x="359.7" y="348.6" font-size="28.6" textLength="142.6" lengthAdjust="spacingAndGlyphs">Low–IL6/R</text>
<text x="360.3" y="389.2" font-size="28.6" textLength="65" lengthAdjust="spacingAndGlyphs">NBM</text>
<text x="29.3" y="56" font-size="71" font-weight="bold" textLength="34.5" lengthAdjust="spacingAndGlyphs">a</text>
</g>
<g id="panel-b">
<text x="420.6" y="51" font-size="70" font-weight="bold" textLength="42" lengthAdjust="spacingAndGlyphs">b</text>
<text x="587.2" y="48.2" font-size="31.5" textLength="122.59999999999991" lengthAdjust="spacingAndGlyphs">Cluster1</text>
<text x="1062.2" y="48.2" font-size="31.5" textLength="125.59999999999991" lengthAdjust="spacingAndGlyphs">Cluster2</text>
<text x="1590.8" y="48.2" font-size="31.5" textLength="126.20000000000005" lengthAdjust="spacingAndGlyphs">Cluster3</text>
<rect x="423.0" y="57" width="481.0" height="15.6" fill="#CC3333"/><rect x="590.1" y="57" width="2.0" height="15.6" fill="#7FFFD4"/><rect x="848.1" y="57" width="2.0" height="15.6" fill="#7FFFD4"/><rect x="856.3" y="57" width="2.0" height="15.6" fill="#7FFFD4"/><rect x="909.0" y="57" width="455.0" height="15.6" fill="#7FFFD4"/><rect x="909.3" y="57" width="45.1" height="15.6" fill="#CC3333"/><rect x="957.1" y="57" width="2.1" height="15.6" fill="#CC3333"/><rect x="961.9" y="57" width="8.6" height="15.6" fill="#CC3333"/><rect x="972.3" y="57" width="6.2" height="15.6" fill="#CC3333"/><rect x="991.2" y="57" width="7.9" height="15.6" fill="#CC3333"/><rect x="1002.2" y="57" width="49.2" height="15.6" fill="#CC3333"/><rect x="1054.2" y="57" width="2.4" height="15.6" fill="#CC3333"/><rect x="1060.0" y="57" width="7.9" height="15.6" fill="#CC3333"/><rect x="1071.0" y="57" width="28.6" height="15.6" fill="#CC3333"/><rect x="1105.4" y="57" width="2.8" height="15.6" fill="#CC3333"/><rect x="1111.6" y="57" width="1.7" height="15.6" fill="#CC3333"/><rect x="1118.5" y="57" width="13.8" height="15.6" fill="#CC3333"/><rect x="1135.0" y="57" width="3.1" height="15.6" fill="#CC3333"/><rect x="1141.9" y="57" width="5.2" height="15.6" fill="#CC3333"/><rect x="1160.5" y="57" width="15.5" height="15.6" fill="#CC3333"/><rect x="1191.8" y="57" width="2.8" height="15.6" fill="#CC3333"/><rect x="1236.5" y="57" width="7.6" height="15.6" fill="#CC3333"/><rect x="1247.6" y="57" width="5.2" height="15.6" fill="#CC3333"/><rect x="1257.9" y="57" width="2.4" height="15.6" fill="#CC3333"/><rect x="1273.4" y="57" width="5.2" height="15.6" fill="#CC3333"/><rect x="1287.1" y="57" width="4.5" height="15.6" fill="#CC3333"/><rect x="1308.5" y="57" width="2.4" height="15.6" fill="#CC3333"/><rect x="1331.9" y="57" width="3.1" height="15.6" fill="#CC3333"/><rect x="1369.0" y="57" width="627.0" height="15.6" fill="#7FFFD4"/><rect x="1454.3" y="57" width="4.5" height="15.6" fill="#CC3333"/><rect x="1498.7" y="57" width="2.8" height="15.6" fill="#CC3333"/><rect x="1517.2" y="57" width="2.4" height="15.6" fill="#CC3333"/><rect x="1591.6" y="57" width="2.4" height="15.6" fill="#CC3333"/><rect x="1728.9" y="57" width="1.7" height="15.6" fill="#CC3333"/><rect x="1772.9" y="57" width="2.4" height="15.6" fill="#CC3333"/><rect x="1821.1" y="57" width="2.4" height="15.6" fill="#CC3333"/><rect x="1828.7" y="57" width="2.1" height="15.6" fill="#CC3333"/><rect x="1839.0" y="57" width="2.1" height="15.6" fill="#CC3333"/><rect x="1865.8" y="57" width="4.5" height="15.6" fill="#CC3333"/><rect x="1899.6" y="57" width="2.8" height="15.6" fill="#CC3333"/><rect x="1908.2" y="57" width="2.1" height="15.6" fill="#CC3333"/><rect x="1915.4" y="57" width="8.3" height="15.6" fill="#CC3333"/><rect x="1926.4" y="57" width="2.1" height="15.6" fill="#CC3333"/>
<rect x="423.0" y="72.6" width="2.3" height="15.4" fill="#9c9c9a"/><rect x="425.0" y="72.6" width="6.3" height="15.4" fill="#f6f347"/><rect x="431.0" y="72.6" width="4.3" height="15.4" fill="#f1ed5e"/><rect x="435.0" y="72.6" width="2.3" height="15.4" fill="#d6ce8e"/><rect x="437.0" y="72.6" width="2.3" height="15.4" fill="#fdfc29"/><rect x="439.0" y="72.6" width="4.3" height="15.4" fill="#a4a4a1"/><rect x="443.0" y="72.6" width="2.3" height="15.4" fill="#e1d97f"/><rect x="445.0" y="72.6" width="2.3" height="15.4" fill="#dbd387"/><rect x="447.0" y="72.6" width="2.3" height="15.4" fill="#d5cd90"/><rect x="449.0" y="72.6" width="2.3" height="15.4" fill="#fcfb2d"/><rect x="451.0" y="72.6" width="2.3" height="15.4" fill="#d6ce8e"/><rect x="453.0" y="72.6" width="2.3" height="15.4" fill="#f1ec61"/><rect x="455.0" y="72.6" width="4.3" height="15.4" fill="#faf836"/><rect x="459.0" y="72.6" width="2.3" height="15.4" fill="#dfd781"/><rect x="461.0" y="72.6" width="2.3" height="15.4" fill="#f6f24a"/><rect x="463.0" y="72.6" width="6.3" height="15.4" fill="#fbf932"/><rect x="469.0" y="72.6" width="6.3" height="15.4" fill="#faf835"/><rect x="475.0" y="72.6" width="2.3" height="15.4" fill="#e9e174"/><rect x="477.0" y="72.6" width="2.3" height="15.4" fill="#b2b2ae"/><rect x="479.0" y="72.6" width="2.3" height="15.4" fill="#c4c4be"/><rect x="481.0" y="72.6" width="2.3" height="15.4" fill="#c2c2bc"/><rect x="483.0" y="72.6" width="2.3" height="15.4" fill="#b1b1ad"/><rect x="485.0" y="72.6" width="2.3" height="15.4" fill="#e6de78"/><rect x="487.0" y="72.6" width="4.3" height="15.4" fill="#fefd25"/><rect x="491.0" y="72.6" width="2.3" height="15.4" fill="#f8f63f"/><rect x="493.0" y="72.6" width="2.3" height="15.4" fill="#f3ef57"/><rect x="495.0" y="72.6" width="2.3" height="15.4" fill="#f1ed5e"/><rect x="497.0" y="72.6" width="2.3" height="15.4" fill="#e7df77"/><rect x="499.0" y="72.6" width="4.3" height="15.4" fill="#f3ee59"/><rect x="503.0" y="72.6" width="2.3" height="15.4" fill="#f8f63d"/><rect x="505.0" y="72.6" width="2.3" height="15.4" fill="#fbfa2f"/><rect x="507.0" y="72.6" width="2.3" height="15.4" fill="#979795"/><rect x="509.0" y="72.6" width="4.3" height="15.4" fill="#f0eb65"/><rect x="513.0" y="72.6" width="2.3" height="15.4" fill="#eee86e"/><rect x="515.0" y="72.6" width="4.3" height="15.4" fill="#e9e174"/><rect x="519.0" y="72.6" width="2.3" height="15.4" fill="#fbf933"/><rect x="521.0" y="72.6" width="6.3" height="15.4" fill="#d5cd90"/><rect x="527.0" y="72.6" width="2.3" height="15.4" fill="#fdfd25"/><rect x="529.0" y="72.6" width="4.3" height="15.4" fill="#ece471"/><rect x="533.0" y="72.6" width="2.3" height="15.4" fill="#f7f542"/><rect x="535.0" y="72.6" width="4.3" height="15.4" fill="#f5f24c"/><rect x="539.0" y="72.6" width="6.3" height="15.4" fill="#f4f150"/><rect x="545.0" y="72.6" width="2.3" height="15.4" fill="#9e9e9c"/><rect x="547.0" y="72.6" width="2.3" height="15.4" fill="#e8e076"/><rect x="549.0" y="72.6" width="4.3" height="15.4" fill="#bbbbb6"/><rect x="553.0" y="72.6" width="2.3" height="15.4" fill="#a8a8a5"/><rect x="555.0" y="72.6" width="2.3" height="15.4" fill="#fdfc27"/><rect x="557.0" y="72.6" width="4.3" height="15.4" fill="#b9b9b4"/><rect x="561.0" y="72.6" width="4.3" height="15.4" fill="#f8f540"/><rect x="565.0" y="72.6" width="4.3" height="15.4" fill="#f6f348"/><rect x="569.0" y="72.6" width="4.3" height="15.4" fill="#bebeb9"/><rect x="573.0" y="72.6" width="2.3" height="15.4" fill="#d4cc90"/><rect x="575.0" y="72.6" width="4.3" height="15.4" fill="#fbfa2f"/><rect x="579.0" y="72.6" width="2.3" height="15.4" fill="#eae273"/><rect x="581.0" y="72.6" width="2.3" height="15.4" fill="#fefe23"/><rect x="583.0" y="72.6" width="2.3" height="15.4" fill="#f6f348"/><rect x="585.0" y="72.6" width="2.3" height="15.4" fill="#fdfc29"/><rect x="587.0" y="72.6" width="2.3" height="15.4" fill="#a5a5a3"/><rect x="589.0" y="72.6" width="4.3" height="15.4" fill="#efe96a"/><rect x="593.0" y="72.6" width="4.3" height="15.4" fill="#ffff1f"/><rect x="597.0" y="72.6" width="2.3" height="15.4" fill="#d1c995"/><rect x="599.0" y="72.6" width="2.3" height="15.4" fill="#eae273"/><rect x="601.0" y="72.6" width="2.3" height="15.4" fill="#e3db7c"/><rect x="603.0" y="72.6" width="2.3" height="15.4" fill="#f6f24a"/><rect x="605.0" y="72.6" width="4.3" height="15.4" fill="#efe969"/><rect x="609.0" y="72.6" width="4.3" height="15.4" fill="#d6ce8e"/><rect x="613.0" y="72.6" width="2.3" height="15.4" fill="#f3ef55"/><rect x="615.0" y="72.6" width="2.3" height="15.4" fill="#b1b1ad"/><rect x="617.0" y="72.6" width="6.3" height="15.4" fill="#f7f446"/><rect x="623.0" y="72.6" width="2.3" height="15.4" fill="#e1d97f"/><rect x="625.0" y="72.6" width="4.3" height="15.4" fill="#fefd24"/><rect x="629.0" y="72.6" width="2.3" height="15.4" fill="#d0c896"/><rect x="631.0" y="72.6" width="2.3" height="15.4" fill="#e1d97f"/><rect x="633.0" y="72.6" width="4.3" height="15.4" fill="#dfd781"/><rect x="637.0" y="72.6" width="2.3" height="15.4" fill="#c0c0bb"/><rect x="639.0" y="72.6" width="6.3" height="15.4" fill="#faf837"/><rect x="645.0" y="72.6" width="2.3" height="15.4" fill="#fbfa30"/><rect x="647.0" y="72.6" width="4.3" height="15.4" fill="#f2ed5c"/><rect x="651.0" y="72.6" width="4.3" height="15.4" fill="#b8b8b3"/><rect x="655.0" y="72.6" width="2.3" height="15.4" fill="#fdfc29"/><rect x="657.0" y="72.6" width="4.3" height="15.4" fill="#fcfb2c"/><rect x="661.0" y="72.6" width="2.3" height="15.4" fill="#e0d881"/><rect x="663.0" y="72.6" width="2.3" height="15.4" fill="#f4f053"/><rect x="665.0" y="72.6" width="2.3" height="15.4" fill="#d5cd8f"/><rect x="667.0" y="72.6" width="6.3" height="15.4" fill="#9b9b99"/><rect x="673.0" y="72.6" width="2.3" height="15.4" fill="#efea68"/><rect x="675.0" y="72.6" width="2.3" height="15.4" fill="#f7f446"/><rect x="677.0" y="72.6" width="6.3" height="15.4" fill="#c2c2bc"/><rect x="683.0" y="72.6" width="2.3" height="15.4" fill="#b7b7b2"/><rect x="685.0" y="72.6" width="2.3" height="15.4" fill="#f7f444"/><rect x="687.0" y="72.6" width="2.3" height="15.4" fill="#b2b2ae"/><rect x="689.0" y="72.6" width="4.3" height="15.4" fill="#faf837"/><rect x="693.0" y="72.6" width="6.3" height="15.4" fill="#a7a7a4"/><rect x="699.0" y="72.6" width="2.3" height="15.4" fill="#fefe21"/><rect x="701.0" y="72.6" width="6.3" height="15.4" fill="#d9d18a"/><rect x="707.0" y="72.6" width="2.3" height="15.4" fill="#e3db7c"/><rect x="709.0" y="72.6" width="6.3" height="15.4" fill="#dad288"/><rect x="715.0" y="72.6" width="2.3" height="15.4" fill="#fffe20"/><rect x="717.0" y="72.6" width="6.3" height="15.4" fill="#f2ed5c"/><rect x="723.0" y="72.6" width="6.3" height="15.4" fill="#f4f150"/><rect x="729.0" y="72.6" width="2.3" height="15.4" fill="#f6f349"/><rect x="731.0" y="72.6" width="4.3" height="15.4" fill="#979796"/><rect x="735.0" y="72.6" width="4.3" height="15.4" fill="#f1ec60"/><rect x="739.0" y="72.6" width="2.3" height="15.4" fill="#ffff1f"/><rect x="741.0" y="72.6" width="2.3" height="15.4" fill="#fefe21"/><rect x="743.0" y="72.6" width="2.3" height="15.4" fill="#f9f73a"/><rect x="745.0" y="72.6" width="4.3" height="15.4" fill="#adada9"/><rect x="749.0" y="72.6" width="6.3" height="15.4" fill="#f1eb62"/><rect x="755.0" y="72.6" width="4.3" height="15.4" fill="#c0c0ba"/><rect x="759.0" y="72.6" width="4.3" height="15.4" fill="#f7f542"/><rect x="763.0" y="72.6" width="2.3" height="15.4" fill="#d3cb93"/><rect x="765.0" y="72.6" width="2.3" height="15.4" fill="#dad289"/><rect x="767.0" y="72.6" width="4.3" height="15.4" fill="#989897"/><rect x="771.0" y="72.6" width="2.3" height="15.4" fill="#eee86d"/><rect x="773.0" y="72.6" width="2.3" height="15.4" fill="#d5cd8f"/><rect x="775.0" y="72.6" width="4.3" height="15.4" fill="#bebeb9"/><rect x="779.0" y="72.6" width="2.3" height="15.4" fill="#969695"/><rect x="781.0" y="72.6" width="2.3" height="15.4" fill="#f2ed5d"/><rect x="783.0" y="72.6" width="2.3" height="15.4" fill="#f3ee57"/><rect x="785.0" y="72.6" width="2.3" height="15.4" fill="#fefd25"/><rect x="787.0" y="72.6" width="2.3" height="15.4" fill="#f8f540"/><rect x="789.0" y="72.6" width="2.3" height="15.4" fill="#fffe20"/><rect x="791.0" y="72.6" width="6.3" height="15.4" fill="#b0b0ac"/><rect x="797.0" y="72.6" width="2.3" height="15.4" fill="#f9f739"/><rect x="799.0" y="72.6" width="6.3" height="15.4" fill="#aeaeaa"/><rect x="805.0" y="72.6" width="4.3" height="15.4" fill="#acaca8"/><rect x="809.0" y="72.6" width="4.3" height="15.4" fill="#d2ca94"/><rect x="813.0" y="72.6" width="2.3" height="15.4" fill="#d9d18a"/><rect x="815.0" y="72.6" width="6.3" height="15.4" fill="#f6f348"/><rect x="821.0" y="72.6" width="2.3" height="15.4" fill="#aaaaa7"/><rect x="823.0" y="72.6" width="2.3" height="15.4" fill="#f1ec61"/><rect x="825.0" y="72.6" width="4.3" height="15.4" fill="#f4f054"/><rect x="829.0" y="72.6" width="6.3" height="15.4" fill="#a8a8a5"/><rect x="835.0" y="72.6" width="2.3" height="15.4" fill="#979796"/><rect x="837.0" y="72.6" width="4.3" height="15.4" fill="#f7f446"/><rect x="841.0" y="72.6" width="2.3" height="15.4" fill="#f6f346"/><rect x="843.0" y="72.6" width="4.3" height="15.4" fill="#f6f349"/><rect x="847.0" y="72.6" width="2.3" height="15.4" fill="#f8f63e"/><rect x="849.0" y="72.6" width="6.3" height="15.4" fill="#787878"/><rect x="855.0" y="72.6" width="2.3" height="15.4" fill="#eae273"/><rect x="857.0" y="72.6" width="4.3" height="15.4" fill="#efea68"/><rect x="861.0" y="72.6" width="6.3" height="15.4" fill="#b7b7b3"/><rect x="867.0" y="72.6" width="2.3" height="15.4" fill="#f9f739"/><rect x="869.0" y="72.6" width="6.3" height="15.4" fill="#999998"/><rect x="875.0" y="72.6" width="4.3" height="15.4" fill="#fcfb2d"/><rect x="879.0" y="72.6" width="4.3" height="15.4" fill="#fbf933"/><rect x="883.0" y="72.6" width="4.3" height="15.4" fill="#ebe371"/><rect x="887.0" y="72.6" width="2.3" height="15.4" fill="#ffff1f"/><rect x="889.0" y="72.6" width="2.3" height="15.4" fill="#f9f73a"/><rect x="891.0" y="72.6" width="4.3" height="15.4" fill="#f7f446"/><rect x="895.0" y="72.6" width="4.3" height="15.4" fill="#f6f347"/><rect x="899.0" y="72.6" width="2.3" height="15.4" fill="#d8d08b"/><rect x="901.0" y="72.6" width="2.3" height="15.4" fill="#f4f051"/><rect x="903.0" y="72.6" width="1.3" height="15.4" fill="#fcfb2b"/>
<rect x="423.0" y="88.0" width="2.3" height="14.6" fill="#949494"/><rect x="425.0" y="88.0" width="2.3" height="14.6" fill="#696969"/><rect x="427.0" y="88.0" width="4.3" height="14.6" fill="#bfbfbf"/><rect x="431.0" y="88.0" width="4.3" height="14.6" fill="#aaaaaa"/><rect x="435.0" y="88.0" width="2.3" height="14.6" fill="#ed8c78"/><rect x="437.0" y="88.0" width="2.3" height="14.6" fill="#ff3c19"/><rect x="439.0" y="88.0" width="2.3" height="14.6" fill="#ff3c19"/><rect x="441.0" y="88.0" width="4.3" height="14.6" fill="#ff3c19"/><rect x="445.0" y="88.0" width="2.3" height="14.6" fill="#a2a2a2"/><rect x="447.0" y="88.0" width="6.3" height="14.6" fill="#bababa"/><rect x="453.0" y="88.0" width="4.3" height="14.6" fill="#c7c7c7"/><rect x="457.0" y="88.0" width="2.3" height="14.6" fill="#a9a9a9"/><rect x="459.0" y="88.0" width="6.3" height="14.6" fill="#c1c1c1"/><rect x="465.0" y="88.0" width="4.3" height="14.6" fill="#ababab"/><rect x="469.0" y="88.0" width="4.3" height="14.6" fill="#707070"/><rect x="473.0" y="88.0" width="2.3" height="14.6" fill="#ff3c19"/><rect x="475.0" y="88.0" width="4.3" height="14.6" fill="#616161"/><rect x="479.0" y="88.0" width="2.3" height="14.6" fill="#ff3c19"/><rect x="481.0" y="88.0" width="2.3" height="14.6" fill="#ff3c19"/><rect x="483.0" y="88.0" width="2.3" height="14.6" fill="#c2c2c2"/><rect x="485.0" y="88.0" width="2.3" height="14.6" fill="#ff3c19"/><rect x="491.0" y="88.0" width="2.3" height="14.6" fill="#c8c8c8"/><rect x="493.0" y="88.0" width="4.3" height="14.6" fill="#ff3c19"/><rect x="497.0" y="88.0" width="2.3" height="14.6" fill="#797979"/><rect x="499.0" y="88.0" width="2.3" height="14.6" fill="#8b8b8b"/><rect x="501.0" y="88.0" width="2.3" height="14.6" fill="#c7c7c7"/><rect x="503.0" y="88.0" width="2.3" height="14.6" fill="#7e7e7e"/><rect x="505.0" y="88.0" width="6.3" height="14.6" fill="#5c5c5c"/><rect x="511.0" y="88.0" width="4.3" height="14.6" fill="#989898"/><rect x="515.0" y="88.0" width="2.3" height="14.6" fill="#b4b4b4"/><rect x="517.0" y="88.0" width="2.3" height="14.6" fill="#747474"/><rect x="519.0" y="88.0" width="6.3" height="14.6" fill="#bfbfbf"/><rect x="525.0" y="88.0" width="2.3" height="14.6" fill="#7f7f7f"/><rect x="527.0" y="88.0" width="6.3" height="14.6" fill="#bbbbbb"/><rect x="533.0" y="88.0" width="2.3" height="14.6" fill="#c4c4c4"/><rect x="535.0" y="88.0" width="2.3" height="14.6" fill="#f66a4f"/><rect x="537.0" y="88.0" width="2.3" height="14.6" fill="#626262"/><rect x="539.0" y="88.0" width="2.3" height="14.6" fill="#ff3c19"/><rect x="541.0" y="88.0" width="4.3" height="14.6" fill="#f17c65"/><rect x="545.0" y="88.0" width="2.3" height="14.6" fill="#949494"/><rect x="547.0" y="88.0" width="2.3" height="14.6" fill="#999999"/><rect x="549.0" y="88.0" width="2.3" height="14.6" fill="#767676"/><rect x="551.0" y="88.0" width="4.3" height="14.6" fill="#ff3c19"/><rect x="555.0" y="88.0" width="4.3" height="14.6" fill="#ff3c19"/><rect x="559.0" y="88.0" width="4.3" height="14.6" fill="#ff3c19"/><rect x="563.0" y="88.0" width="2.3" height="14.6" fill="#ff3c19"/><rect x="565.0" y="88.0" width="2.3" height="14.6" fill="#929292"/><rect x="567.0" y="88.0" width="4.3" height="14.6" fill="#969696"/><rect x="571.0" y="88.0" width="6.3" height="14.6" fill="#878787"/><rect x="577.0" y="88.0" width="6.3" height="14.6" fill="#929292"/><rect x="583.0" y="88.0" width="4.3" height="14.6" fill="#c6c6c6"/><rect x="587.0" y="88.0" width="2.3" height="14.6" fill="#585858"/><rect x="589.0" y="88.0" width="6.3" height="14.6" fill="#8a8a8a"/><rect x="597.0" y="88.0" width="2.3" height="14.6" fill="#8c8c8c"/><rect x="599.0" y="88.0" width="2.3" height="14.6" fill="#9b9b9b"/><rect x="607.0" y="88.0" width="6.3" height="14.6" fill="#ff3c19"/><rect x="613.0" y="88.0" width="2.3" height="14.6" fill="#818181"/><rect x="615.0" y="88.0" width="2.3" height="14.6" fill="#787878"/><rect x="617.0" y="88.0" width="2.3" height="14.6" fill="#7b7b7b"/><rect x="619.0" y="88.0" width="2.3" height="14.6" fill="#ff3c19"/><rect x="621.0" y="88.0" width="2.3" height="14.6" fill="#b5b5b5"/><rect x="623.0" y="88.0" width="6.3" height="14.6" fill="#ff3c19"/><rect x="629.0" y="88.0" width="6.3" height="14.6" fill="#9c9c9c"/><rect x="635.0" y="88.0" width="6.3" height="14.6" fill="#ff3c19"/><rect x="641.0" y="88.0" width="2.3" height="14.6" fill="#9e9e9e"/><rect x="643.0" y="88.0" width="2.3" height="14.6" fill="#a9a9a9"/><rect x="645.0" y="88.0" width="2.3" height="14.6" fill="#ff3c19"/><rect x="647.0" y="88.0" width="4.3" height="14.6" fill="#8c8c8c"/><rect x="651.0" y="88.0" width="4.3" height="14.6" fill="#a2a2a2"/><rect x="655.0" y="88.0" width="6.3" height="14.6" fill="#6e6e6e"/><rect x="661.0" y="88.0" width="2.3" height="14.6" fill="#7a7a7a"/><rect x="663.0" y="88.0" width="2.3" height="14.6" fill="#989898"/><rect x="665.0" y="88.0" width="2.3" height="14.6" fill="#898989"/><rect x="667.0" y="88.0" width="2.3" height="14.6" fill="#dab3ac"/><rect x="669.0" y="88.0" width="4.3" height="14.6" fill="#8d8d8d"/><rect x="673.0" y="88.0" width="4.3" height="14.6" fill="#f0806a"/><rect x="677.0" y="88.0" width="2.3" height="14.6" fill="#858585"/><rect x="679.0" y="88.0" width="2.3" height="14.6" fill="#c6c6c6"/><rect x="681.0" y="88.0" width="2.3" height="14.6" fill="#ff3c19"/><rect x="683.0" y="88.0" width="2.3" height="14.6" fill="#c2c2c2"/><rect x="685.0" y="88.0" width="4.3" height="14.6" fill="#d3bbb6"/><rect x="689.0" y="88.0" width="4.3" height="14.6" fill="#ff3c19"/><rect x="693.0" y="88.0" width="2.3" height="14.6" fill="#aaaaaa"/><rect x="695.0" y="88.0" width="2.3" height="14.6" fill="#d3bab6"/><rect x="697.0" y="88.0" width="6.3" height="14.6" fill="#707070"/><rect x="703.0" y="88.0" width="2.3" height="14.6" fill="#898989"/><rect x="705.0" y="88.0" width="6.3" height="14.6" fill="#9f9f9f"/><rect x="711.0" y="88.0" width="4.3" height="14.6" fill="#d1beba"/><rect x="715.0" y="88.0" width="2.3" height="14.6" fill="#ff3c19"/><rect x="717.0" y="88.0" width="4.3" height="14.6" fill="#dcb0a8"/><rect x="721.0" y="88.0" width="4.3" height="14.6" fill="#bbbbbb"/><rect x="725.0" y="88.0" width="4.3" height="14.6" fill="#f6694f"/><rect x="729.0" y="88.0" width="2.3" height="14.6" fill="#ff3c19"/><rect x="731.0" y="88.0" width="4.3" height="14.6" fill="#6e6e6e"/><rect x="735.0" y="88.0" width="2.3" height="14.6" fill="#d2bcb8"/><rect x="737.0" y="88.0" width="2.3" height="14.6" fill="#ccc3c2"/><rect x="739.0" y="88.0" width="4.3" height="14.6" fill="#ff3c19"/><rect x="743.0" y="88.0" width="4.3" height="14.6" fill="#adadad"/><rect x="747.0" y="88.0" width="2.3" height="14.6" fill="#ff3c19"/><rect x="749.0" y="88.0" width="2.3" height="14.6" fill="#f56c52"/><rect x="751.0" y="88.0" width="4.3" height="14.6" fill="#8c8c8c"/><rect x="755.0" y="88.0" width="4.3" height="14.6" fill="#a0a0a0"/><rect x="759.0" y="88.0" width="6.3" height="14.6" fill="#9e9e9e"/><rect x="765.0" y="88.0" width="2.3" height="14.6" fill="#5d5d5d"/><rect x="767.0" y="88.0" width="4.3" height="14.6" fill="#ff3c19"/><rect x="771.0" y="88.0" width="2.3" height="14.6" fill="#ff3c19"/><rect x="773.0" y="88.0" width="4.3" height="14.6" fill="#bababa"/><rect x="777.0" y="88.0" width="4.3" height="14.6" fill="#ea9787"/><rect x="781.0" y="88.0" width="2.3" height="14.6" fill="#919191"/><rect x="783.0" y="88.0" width="2.3" height="14.6" fill="#ff3c19"/><rect x="785.0" y="88.0" width="6.3" height="14.6" fill="#f95e40"/><rect x="791.0" y="88.0" width="4.3" height="14.6" fill="#ff3c19"/><rect x="795.0" y="88.0" width="2.3" height="14.6" fill="#858585"/><rect x="797.0" y="88.0" width="6.3" height="14.6" fill="#8e8e8e"/><rect x="803.0" y="88.0" width="2.3" height="14.6" fill="#c3c3c3"/><rect x="805.0" y="88.0" width="2.3" height="14.6" fill="#f66b50"/><rect x="807.0" y="88.0" width="2.3" height="14.6" fill="#ff3c19"/><rect x="809.0" y="88.0" width="2.3" height="14.6" fill="#ff3c19"/><rect x="811.0" y="88.0" width="2.3" height="14.6" fill="#ff3c19"/><rect x="813.0" y="88.0" width="6.3" height="14.6" fill="#ababab"/><rect x="821.0" y="88.0" width="2.3" height="14.6" fill="#999999"/><rect x="823.0" y="88.0" width="4.3" height="14.6" fill="#c4c4c4"/><rect x="827.0" y="88.0" width="4.3" height="14.6" fill="#a3a3a3"/><rect x="831.0" y="88.0" width="6.3" height="14.6" fill="#aaaaaa"/><rect x="837.0" y="88.0" width="2.3" height="14.6" fill="#6c6c6c"/><rect x="839.0" y="88.0" width="2.3" height="14.6" fill="#878787"/><rect x="841.0" y="88.0" width="4.3" height="14.6" fill="#fa5c3e"/><rect x="845.0" y="88.0" width="2.3" height="14.6" fill="#a2a2a2"/><rect x="847.0" y="88.0" width="2.3" height="14.6" fill="#ff3c19"/><rect x="849.0" y="88.0" width="4.3" height="14.6" fill="#f3745c"/><rect x="853.0" y="88.0" width="2.3" height="14.6" fill="#959595"/><rect x="855.0" y="88.0" width="2.3" height="14.6" fill="#c5c5c5"/><rect x="857.0" y="88.0" width="2.3" height="14.6" fill="#afafaf"/><rect x="859.0" y="88.0" width="2.3" height="14.6" fill="#bbbbbb"/><rect x="861.0" y="88.0" width="2.3" height="14.6" fill="#c7c7c7"/><rect x="863.0" y="88.0" width="2.3" height="14.6" fill="#c6c6c6"/><rect x="865.0" y="88.0" width="2.3" height="14.6" fill="#ff3c19"/><rect x="867.0" y="88.0" width="4.3" height="14.6" fill="#ff3c19"/><rect x="871.0" y="88.0" width="4.3" height="14.6" fill="#a0a0a0"/><rect x="875.0" y="88.0" width="2.3" height="14.6" fill="#606060"/><rect x="877.0" y="88.0" width="2.3" height="14.6" fill="#5c5c5c"/><rect x="879.0" y="88.0" width="4.3" height="14.6" fill="#b4b4b4"/><rect x="883.0" y="88.0" width="2.3" height="14.6" fill="#ababab"/><rect x="885.0" y="88.0" width="4.3" height="14.6" fill="#c3c3c3"/><rect x="889.0" y="88.0" width="6.3" height="14.6" fill="#ff3c19"/><rect x="895.0" y="88.0" width="2.3" height="14.6" fill="#a6a6a6"/><rect x="897.0" y="88.0" width="4.3" height="14.6" fill="#747474"/><rect x="901.0" y="88.0" width="3.3" height="14.6" fill="#848484"/>
<rect x="909.0" y="72.6" width="2.3" height="15.4" fill="#d4cc91"/><rect x="911.0" y="72.6" width="2.3" height="15.4" fill="#fbf932"/><rect x="913.0" y="72.6" width="2.3" height="15.4" fill="#fcfb2b"/><rect x="915.0" y="72.6" width="2.3" height="15.4" fill="#e8e076"/><rect x="917.0" y="72.6" width="6.3" height="15.4" fill="#e8e075"/><rect x="923.0" y="72.6" width="4.3" height="15.4" fill="#6d6d6d"/><rect x="927.0" y="72.6" width="4.3" height="15.4" fill="#f5f24c"/><rect x="931.0" y="72.6" width="2.3" height="15.4" fill="#f1ec60"/><rect x="933.0" y="72.6" width="6.3" height="15.4" fill="#fdfc28"/><rect x="939.0" y="72.6" width="2.3" height="15.4" fill="#f3ef57"/><rect x="941.0" y="72.6" width="2.3" height="15.4" fill="#d9d18a"/><rect x="943.0" y="72.6" width="2.3" height="15.4" fill="#a3a3a1"/><rect x="945.0" y="72.6" width="6.3" height="15.4" fill="#ffff20"/><rect x="951.0" y="72.6" width="2.3" height="15.4" fill="#efea67"/><rect x="953.0" y="72.6" width="2.3" height="15.4" fill="#e0d881"/><rect x="955.0" y="72.6" width="2.3" height="15.4" fill="#f6f348"/><rect x="957.0" y="72.6" width="2.3" height="15.4" fill="#8e8e8e"/><rect x="959.0" y="72.6" width="2.3" height="15.4" fill="#fefd24"/><rect x="961.0" y="72.6" width="2.3" height="15.4" fill="#4d4d4d"/><rect x="963.0" y="72.6" width="2.3" height="15.4" fill="#f3ef55"/><rect x="965.0" y="72.6" width="2.3" height="15.4" fill="#d9d18a"/><rect x="967.0" y="72.6" width="4.3" height="15.4" fill="#969695"/><rect x="971.0" y="72.6" width="4.3" height="15.4" fill="#f0eb63"/><rect x="975.0" y="72.6" width="4.3" height="15.4" fill="#e5dd79"/><rect x="979.0" y="72.6" width="4.3" height="15.4" fill="#f2ed5c"/><rect x="983.0" y="72.6" width="6.3" height="15.4" fill="#424242"/><rect x="989.0" y="72.6" width="2.3" height="15.4" fill="#bbbbb6"/><rect x="991.0" y="72.6" width="4.3" height="15.4" fill="#f6f349"/><rect x="995.0" y="72.6" width="2.3" height="15.4" fill="#9a9a98"/><rect x="997.0" y="72.6" width="4.3" height="15.4" fill="#e5dd7a"/><rect x="1001.0" y="72.6" width="2.3" height="15.4" fill="#fdfc27"/><rect x="1003.0" y="72.6" width="2.3" height="15.4" fill="#a4a4a2"/><rect x="1005.0" y="72.6" width="4.3" height="15.4" fill="#f7f542"/><rect x="1009.0" y="72.6" width="2.3" height="15.4" fill="#fdfc29"/><rect x="1011.0" y="72.6" width="2.3" height="15.4" fill="#f4f150"/><rect x="1013.0" y="72.6" width="2.3" height="15.4" fill="#f8f63e"/><rect x="1015.0" y="72.6" width="6.3" height="15.4" fill="#f3ef56"/><rect x="1021.0" y="72.6" width="2.3" height="15.4" fill="#fcfb2b"/><rect x="1023.0" y="72.6" width="2.3" height="15.4" fill="#f2ed5c"/><rect x="1025.0" y="72.6" width="2.3" height="15.4" fill="#acaca9"/><rect x="1027.0" y="72.6" width="4.3" height="15.4" fill="#fcfa2e"/><rect x="1031.0" y="72.6" width="2.3" height="15.4" fill="#e1d97f"/><rect x="1033.0" y="72.6" width="2.3" height="15.4" fill="#a1a19f"/><rect x="1035.0" y="72.6" width="4.3" height="15.4" fill="#f3ef56"/><rect x="1039.0" y="72.6" width="6.3" height="15.4" fill="#dad289"/><rect x="1045.0" y="72.6" width="4.3" height="15.4" fill="#fbf933"/><rect x="1049.0" y="72.6" width="2.3" height="15.4" fill="#dad289"/><rect x="1051.0" y="72.6" width="2.3" height="15.4" fill="#b9b9b4"/><rect x="1053.0" y="72.6" width="2.3" height="15.4" fill="#969695"/><rect x="1055.0" y="72.6" width="4.3" height="15.4" fill="#b6b6b1"/><rect x="1059.0" y="72.6" width="4.3" height="15.4" fill="#a5a5a3"/><rect x="1063.0" y="72.6" width="2.3" height="15.4" fill="#a7a7a4"/><rect x="1065.0" y="72.6" width="4.3" height="15.4" fill="#8d8d8d"/><rect x="1069.0" y="72.6" width="4.3" height="15.4" fill="#494949"/><rect x="1073.0" y="72.6" width="2.3" height="15.4" fill="#c3c3bd"/><rect x="1075.0" y="72.6" width="4.3" height="15.4" fill="#fefd25"/><rect x="1079.0" y="72.6" width="2.3" height="15.4" fill="#e0d880"/><rect x="1081.0" y="72.6" width="2.3" height="15.4" fill="#d2ca93"/><rect x="1083.0" y="72.6" width="2.3" height="15.4" fill="#d3cb92"/><rect x="1085.0" y="72.6" width="2.3" height="15.4" fill="#bcbcb7"/><rect x="1087.0" y="72.6" width="4.3" height="15.4" fill="#a5a5a2"/><rect x="1091.0" y="72.6" width="4.3" height="15.4" fill="#bbbbb6"/><rect x="1095.0" y="72.6" width="4.3" height="15.4" fill="#414141"/><rect x="1099.0" y="72.6" width="4.3" height="15.4" fill="#efea69"/><rect x="1103.0" y="72.6" width="2.3" height="15.4" fill="#d3cb92"/><rect x="1105.0" y="72.6" width="2.3" height="15.4" fill="#b0b0ac"/><rect x="1107.0" y="72.6" width="2.3" height="15.4" fill="#f6f24a"/><rect x="1109.0" y="72.6" width="2.3" height="15.4" fill="#e1d97f"/><rect x="1111.0" y="72.6" width="6.3" height="15.4" fill="#373737"/><rect x="1117.0" y="72.6" width="4.3" height="15.4" fill="#f2ee5a"/><rect x="1121.0" y="72.6" width="6.3" height="15.4" fill="#afafab"/><rect x="1127.0" y="72.6" width="4.3" height="15.4" fill="#999998"/><rect x="1131.0" y="72.6" width="2.3" height="15.4" fill="#f7f443"/><rect x="1133.0" y="72.6" width="2.3" height="15.4" fill="#bdbdb8"/><rect x="1135.0" y="72.6" width="2.3" height="15.4" fill="#f6f348"/><rect x="1137.0" y="72.6" width="2.3" height="15.4" fill="#efea69"/><rect x="1139.0" y="72.6" width="2.3" height="15.4" fill="#c2c2bc"/><rect x="1141.0" y="72.6" width="4.3" height="15.4" fill="#adadaa"/><rect x="1145.0" y="72.6" width="2.3" height="15.4" fill="#aaaaa7"/><rect x="1147.0" y="72.6" width="2.3" height="15.4" fill="#919190"/><rect x="1149.0" y="72.6" width="4.3" height="15.4" fill="#9a9a98"/><rect x="1153.0" y="72.6" width="2.3" height="15.4" fill="#aaaaa7"/><rect x="1155.0" y="72.6" width="6.3" height="15.4" fill="#969695"/><rect x="1161.0" y="72.6" width="2.3" height="15.4" fill="#919191"/><rect x="1163.0" y="72.6" width="4.3" height="15.4" fill="#ddd584"/><rect x="1167.0" y="72.6" width="2.3" height="15.4" fill="#b2b2ae"/><rect x="1169.0" y="72.6" width="2.3" height="15.4" fill="#dbd387"/><rect x="1171.0" y="72.6" width="2.3" height="15.4" fill="#a3a3a0"/><rect x="1173.0" y="72.6" width="6.3" height="15.4" fill="#939392"/><rect x="1179.0" y="72.6" width="2.3" height="15.4" fill="#f1ec62"/><rect x="1181.0" y="72.6" width="2.3" height="15.4" fill="#aeaeaa"/><rect x="1183.0" y="72.6" width="2.3" height="15.4" fill="#e9e174"/><rect x="1185.0" y="72.6" width="2.3" height="15.4" fill="#9f9f9d"/><rect x="1187.0" y="72.6" width="2.3" height="15.4" fill="#8c8c8c"/><rect x="1189.0" y="72.6" width="4.3" height="15.4" fill="#9f9f9d"/><rect x="1193.0" y="72.6" width="6.3" height="15.4" fill="#a4a4a2"/><rect x="1199.0" y="72.6" width="2.3" height="15.4" fill="#f2ee5a"/><rect x="1201.0" y="72.6" width="4.3" height="15.4" fill="#fefd24"/><rect x="1205.0" y="72.6" width="4.3" height="15.4" fill="#bdbdb8"/><rect x="1209.0" y="72.6" width="4.3" height="15.4" fill="#ababa7"/><rect x="1213.0" y="72.6" width="2.3" height="15.4" fill="#faf836"/><rect x="1215.0" y="72.6" width="2.3" height="15.4" fill="#f8f541"/><rect x="1217.0" y="72.6" width="2.3" height="15.4" fill="#aeaeaa"/><rect x="1219.0" y="72.6" width="2.3" height="15.4" fill="#b7b7b2"/><rect x="1221.0" y="72.6" width="2.3" height="15.4" fill="#f0ea66"/><rect x="1223.0" y="72.6" width="2.3" height="15.4" fill="#e8e075"/><rect x="1225.0" y="72.6" width="6.3" height="15.4" fill="#aaaaa6"/><rect x="1231.0" y="72.6" width="2.3" height="15.4" fill="#f0eb63"/><rect x="1233.0" y="72.6" width="4.3" height="15.4" fill="#b9b9b4"/><rect x="1237.0" y="72.6" width="6.3" height="15.4" fill="#929291"/><rect x="1243.0" y="72.6" width="2.3" height="15.4" fill="#f0eb64"/><rect x="1245.0" y="72.6" width="4.3" height="15.4" fill="#f4f051"/><rect x="1249.0" y="72.6" width="2.3" height="15.4" fill="#8d8d8d"/><rect x="1251.0" y="72.6" width="4.3" height="15.4" fill="#f3ee58"/><rect x="1255.0" y="72.6" width="2.3" height="15.4" fill="#b5b5b0"/><rect x="1257.0" y="72.6" width="2.3" height="15.4" fill="#e8e075"/><rect x="1259.0" y="72.6" width="4.3" height="15.4" fill="#989897"/><rect x="1263.0" y="72.6" width="2.3" height="15.4" fill="#fbfa30"/><rect x="1265.0" y="72.6" width="2.3" height="15.4" fill="#f3ef55"/><rect x="1267.0" y="72.6" width="2.3" height="15.4" fill="#fbfa31"/><rect x="1269.0" y="72.6" width="4.3" height="15.4" fill="#faf934"/><rect x="1273.0" y="72.6" width="6.3" height="15.4" fill="#f0eb65"/><rect x="1279.0" y="72.6" width="4.3" height="15.4" fill="#eee96c"/><rect x="1283.0" y="72.6" width="2.3" height="15.4" fill="#faf934"/><rect x="1285.0" y="72.6" width="4.3" height="15.4" fill="#f7f443"/><rect x="1289.0" y="72.6" width="2.3" height="15.4" fill="#ddd584"/><rect x="1291.0" y="72.6" width="4.3" height="15.4" fill="#c4c4be"/><rect x="1295.0" y="72.6" width="4.3" height="15.4" fill="#e5dd7a"/><rect x="1299.0" y="72.6" width="6.3" height="15.4" fill="#bbbbb6"/><rect x="1305.0" y="72.6" width="6.3" height="15.4" fill="#fcfb2c"/><rect x="1311.0" y="72.6" width="4.3" height="15.4" fill="#babab5"/><rect x="1315.0" y="72.6" width="2.3" height="15.4" fill="#7f7f7f"/><rect x="1317.0" y="72.6" width="2.3" height="15.4" fill="#a3a3a1"/><rect x="1319.0" y="72.6" width="2.3" height="15.4" fill="#a8a8a5"/><rect x="1321.0" y="72.6" width="2.3" height="15.4" fill="#f2ed5c"/><rect x="1323.0" y="72.6" width="2.3" height="15.4" fill="#ded682"/><rect x="1325.0" y="72.6" width="2.3" height="15.4" fill="#a8a8a5"/><rect x="1327.0" y="72.6" width="6.3" height="15.4" fill="#8d8d8d"/><rect x="1333.0" y="72.6" width="4.3" height="15.4" fill="#babab5"/><rect x="1337.0" y="72.6" width="6.3" height="15.4" fill="#e9e174"/><rect x="1343.0" y="72.6" width="2.3" height="15.4" fill="#f8f541"/><rect x="1345.0" y="72.6" width="6.3" height="15.4" fill="#f3ef57"/><rect x="1351.0" y="72.6" width="4.3" height="15.4" fill="#ded683"/><rect x="1355.0" y="72.6" width="2.3" height="15.4" fill="#a2a2a0"/><rect x="1357.0" y="72.6" width="2.3" height="15.4" fill="#f5f14e"/><rect x="1359.0" y="72.6" width="4.3" height="15.4" fill="#f7f542"/><rect x="1363.0" y="72.6" width="1.3" height="15.4" fill="#dbd387"/>
<rect x="909.0" y="88.0" width="4.3" height="14.6" fill="#9c9c9c"/><rect x="913.0" y="88.0" width="2.3" height="14.6" fill="#5d5d5d"/><rect x="915.0" y="88.0" width="2.3" height="14.6" fill="#ff3c19"/><rect x="917.0" y="88.0" width="4.3" height="14.6" fill="#888888"/><rect x="921.0" y="88.0" width="4.3" height="14.6" fill="#ff3c19"/><rect x="925.0" y="88.0" width="2.3" height="14.6" fill="#767676"/><rect x="927.0" y="88.0" width="6.3" height="14.6" fill="#8f8f8f"/><rect x="933.0" y="88.0" width="2.3" height="14.6" fill="#939393"/><rect x="935.0" y="88.0" width="4.3" height="14.6" fill="#bbbbbb"/><rect x="939.0" y="88.0" width="2.3" height="14.6" fill="#ff3c19"/><rect x="941.0" y="88.0" width="4.3" height="14.6" fill="#686868"/><rect x="945.0" y="88.0" width="2.3" height="14.6" fill="#e0aba2"/><rect x="947.0" y="88.0" width="4.3" height="14.6" fill="#ff3c19"/><rect x="951.0" y="88.0" width="2.3" height="14.6" fill="#ff3c19"/><rect x="953.0" y="88.0" width="4.3" height="14.6" fill="#bdbdbd"/><rect x="961.0" y="88.0" width="2.3" height="14.6" fill="#ff3c19"/><rect x="963.0" y="88.0" width="2.3" height="14.6" fill="#c3c3c3"/><rect x="965.0" y="88.0" width="2.3" height="14.6" fill="#737373"/><rect x="967.0" y="88.0" width="4.3" height="14.6" fill="#adadad"/><rect x="971.0" y="88.0" width="2.3" height="14.6" fill="#b3b3b3"/><rect x="973.0" y="88.0" width="2.3" height="14.6" fill="#ff3c19"/><rect x="975.0" y="88.0" width="2.3" height="14.6" fill="#c9c7c7"/><rect x="977.0" y="88.0" width="4.3" height="14.6" fill="#ff3c19"/><rect x="981.0" y="88.0" width="4.3" height="14.6" fill="#c5c5c5"/><rect x="985.0" y="88.0" width="2.3" height="14.6" fill="#545454"/><rect x="987.0" y="88.0" width="4.3" height="14.6" fill="#bababa"/><rect x="991.0" y="88.0" width="6.3" height="14.6" fill="#cfc0bd"/><rect x="997.0" y="88.0" width="2.3" height="14.6" fill="#f86245"/><rect x="999.0" y="88.0" width="2.3" height="14.6" fill="#f3775f"/><rect x="1001.0" y="88.0" width="4.3" height="14.6" fill="#969696"/><rect x="1005.0" y="88.0" width="2.3" height="14.6" fill="#ff3c19"/><rect x="1007.0" y="88.0" width="2.3" height="14.6" fill="#949494"/><rect x="1009.0" y="88.0" width="4.3" height="14.6" fill="#5c5c5c"/><rect x="1013.0" y="88.0" width="2.3" height="14.6" fill="#9e9e9e"/><rect x="1015.0" y="88.0" width="2.3" height="14.6" fill="#a5a5a5"/><rect x="1017.0" y="88.0" width="2.3" height="14.6" fill="#909090"/><rect x="1019.0" y="88.0" width="4.3" height="14.6" fill="#ff3c19"/><rect x="1023.0" y="88.0" width="4.3" height="14.6" fill="#b0b0b0"/><rect x="1027.0" y="88.0" width="2.3" height="14.6" fill="#ff3c19"/><rect x="1029.0" y="88.0" width="6.3" height="14.6" fill="#d3bbb7"/><rect x="1035.0" y="88.0" width="4.3" height="14.6" fill="#c0c0c0"/><rect x="1039.0" y="88.0" width="2.3" height="14.6" fill="#9a9a9a"/><rect x="1041.0" y="88.0" width="6.3" height="14.6" fill="#aaaaaa"/><rect x="1047.0" y="88.0" width="6.3" height="14.6" fill="#7a7a7a"/><rect x="1053.0" y="88.0" width="2.3" height="14.6" fill="#f0806a"/><rect x="1055.0" y="88.0" width="2.3" height="14.6" fill="#ff3c19"/><rect x="1057.0" y="88.0" width="2.3" height="14.6" fill="#ff3c19"/><rect x="1059.0" y="88.0" width="2.3" height="14.6" fill="#777777"/><rect x="1061.0" y="88.0" width="4.3" height="14.6" fill="#b1b1b1"/><rect x="1065.0" y="88.0" width="4.3" height="14.6" fill="#a3a3a3"/><rect x="1069.0" y="88.0" width="2.3" height="14.6" fill="#8e8e8e"/><rect x="1071.0" y="88.0" width="2.3" height="14.6" fill="#ea9786"/><rect x="1073.0" y="88.0" width="6.3" height="14.6" fill="#f66a50"/><rect x="1079.0" y="88.0" width="2.3" height="14.6" fill="#f17c65"/><rect x="1081.0" y="88.0" width="2.3" height="14.6" fill="#6e6e6e"/><rect x="1083.0" y="88.0" width="2.3" height="14.6" fill="#656565"/><rect x="1085.0" y="88.0" width="4.3" height="14.6" fill="#ff3c19"/><rect x="1089.0" y="88.0" width="6.3" height="14.6" fill="#ff3c19"/><rect x="1095.0" y="88.0" width="4.3" height="14.6" fill="#ff3c19"/><rect x="1099.0" y="88.0" width="2.3" height="14.6" fill="#ff3c19"/><rect x="1101.0" y="88.0" width="2.3" height="14.6" fill="#c0c0c0"/><rect x="1103.0" y="88.0" width="2.3" height="14.6" fill="#ff3c19"/><rect x="1105.0" y="88.0" width="2.3" height="14.6" fill="#ff3c19"/><rect x="1107.0" y="88.0" width="2.3" height="14.6" fill="#ff3c19"/><rect x="1109.0" y="88.0" width="2.3" height="14.6" fill="#a6a6a6"/><rect x="1111.0" y="88.0" width="4.3" height="14.6" fill="#ff3c19"/><rect x="1115.0" y="88.0" width="2.3" height="14.6" fill="#656565"/><rect x="1117.0" y="88.0" width="2.3" height="14.6" fill="#757575"/><rect x="1119.0" y="88.0" width="4.3" height="14.6" fill="#ccc3c2"/><rect x="1123.0" y="88.0" width="2.3" height="14.6" fill="#ff3c19"/><rect x="1125.0" y="88.0" width="2.3" height="14.6" fill="#ff3c19"/><rect x="1127.0" y="88.0" width="6.3" height="14.6" fill="#979797"/><rect x="1133.0" y="88.0" width="2.3" height="14.6" fill="#c4c4c4"/><rect x="1135.0" y="88.0" width="2.3" height="14.6" fill="#cdc2c0"/><rect x="1137.0" y="88.0" width="4.3" height="14.6" fill="#ff3c19"/><rect x="1141.0" y="88.0" width="2.3" height="14.6" fill="#a2a2a2"/><rect x="1143.0" y="88.0" width="2.3" height="14.6" fill="#a5a5a5"/><rect x="1145.0" y="88.0" width="4.3" height="14.6" fill="#b6b6b6"/><rect x="1149.0" y="88.0" width="2.3" height="14.6" fill="#828282"/><rect x="1151.0" y="88.0" width="2.3" height="14.6" fill="#c4c4c4"/><rect x="1153.0" y="88.0" width="2.3" height="14.6" fill="#595959"/><rect x="1155.0" y="88.0" width="2.3" height="14.6" fill="#a2a2a2"/><rect x="1157.0" y="88.0" width="6.3" height="14.6" fill="#ff3c19"/><rect x="1163.0" y="88.0" width="2.3" height="14.6" fill="#979797"/><rect x="1165.0" y="88.0" width="2.3" height="14.6" fill="#ff3c19"/><rect x="1167.0" y="88.0" width="2.3" height="14.6" fill="#ff3c19"/><rect x="1169.0" y="88.0" width="4.3" height="14.6" fill="#ff3c19"/><rect x="1173.0" y="88.0" width="2.3" height="14.6" fill="#ff3c19"/><rect x="1175.0" y="88.0" width="6.3" height="14.6" fill="#8c8c8c"/><rect x="1181.0" y="88.0" width="4.3" height="14.6" fill="#585858"/><rect x="1185.0" y="88.0" width="4.3" height="14.6" fill="#a9a9a9"/><rect x="1189.0" y="88.0" width="2.3" height="14.6" fill="#f95d40"/><rect x="1191.0" y="88.0" width="6.3" height="14.6" fill="#767676"/><rect x="1197.0" y="88.0" width="4.3" height="14.6" fill="#f27861"/><rect x="1201.0" y="88.0" width="2.3" height="14.6" fill="#d9b4ad"/><rect x="1203.0" y="88.0" width="2.3" height="14.6" fill="#adadad"/><rect x="1205.0" y="88.0" width="2.3" height="14.6" fill="#6e6e6e"/><rect x="1207.0" y="88.0" width="4.3" height="14.6" fill="#7e7e7e"/><rect x="1211.0" y="88.0" width="2.3" height="14.6" fill="#bababa"/><rect x="1213.0" y="88.0" width="4.3" height="14.6" fill="#5a5a5a"/><rect x="1217.0" y="88.0" width="2.3" height="14.6" fill="#585858"/><rect x="1219.0" y="88.0" width="2.3" height="14.6" fill="#e1aaa1"/><rect x="1221.0" y="88.0" width="6.3" height="14.6" fill="#c6c6c6"/><rect x="1227.0" y="88.0" width="4.3" height="14.6" fill="#5b5b5b"/><rect x="1231.0" y="88.0" width="2.3" height="14.6" fill="#a1a1a1"/><rect x="1233.0" y="88.0" width="4.3" height="14.6" fill="#a1a1a1"/><rect x="1237.0" y="88.0" width="4.3" height="14.6" fill="#a4a4a4"/><rect x="1241.0" y="88.0" width="4.3" height="14.6" fill="#a9a9a9"/><rect x="1245.0" y="88.0" width="6.3" height="14.6" fill="#dcb0a9"/><rect x="1251.0" y="88.0" width="2.3" height="14.6" fill="#9e9e9e"/><rect x="1253.0" y="88.0" width="4.3" height="14.6" fill="#d4bab5"/><rect x="1259.0" y="88.0" width="2.3" height="14.6" fill="#aeaeae"/><rect x="1261.0" y="88.0" width="4.3" height="14.6" fill="#f95c3f"/><rect x="1265.0" y="88.0" width="4.3" height="14.6" fill="#676767"/><rect x="1269.0" y="88.0" width="2.3" height="14.6" fill="#b0b0b0"/><rect x="1271.0" y="88.0" width="2.3" height="14.6" fill="#a1a1a1"/><rect x="1273.0" y="88.0" width="4.3" height="14.6" fill="#c5c5c5"/><rect x="1277.0" y="88.0" width="4.3" height="14.6" fill="#5b5b5b"/><rect x="1281.0" y="88.0" width="2.3" height="14.6" fill="#717171"/><rect x="1283.0" y="88.0" width="6.3" height="14.6" fill="#ed8e7b"/><rect x="1291.0" y="88.0" width="2.3" height="14.6" fill="#acacac"/><rect x="1293.0" y="88.0" width="6.3" height="14.6" fill="#7d7d7d"/><rect x="1299.0" y="88.0" width="2.3" height="14.6" fill="#828282"/><rect x="1301.0" y="88.0" width="6.3" height="14.6" fill="#dbb1aa"/><rect x="1307.0" y="88.0" width="4.3" height="14.6" fill="#8c8c8c"/><rect x="1311.0" y="88.0" width="6.3" height="14.6" fill="#9b9b9b"/><rect x="1317.0" y="88.0" width="6.3" height="14.6" fill="#cbc4c3"/><rect x="1323.0" y="88.0" width="2.3" height="14.6" fill="#9c9c9c"/><rect x="1325.0" y="88.0" width="2.3" height="14.6" fill="#c7c7c7"/><rect x="1327.0" y="88.0" width="4.3" height="14.6" fill="#b0b0b0"/><rect x="1331.0" y="88.0" width="2.3" height="14.6" fill="#b5b5b5"/><rect x="1333.0" y="88.0" width="2.3" height="14.6" fill="#dcb0a8"/><rect x="1335.0" y="88.0" width="4.3" height="14.6" fill="#ff3c19"/><rect x="1339.0" y="88.0" width="6.3" height="14.6" fill="#c3c3c3"/><rect x="1345.0" y="88.0" width="2.3" height="14.6" fill="#bebebe"/><rect x="1347.0" y="88.0" width="6.3" height="14.6" fill="#cec1be"/><rect x="1353.0" y="88.0" width="2.3" height="14.6" fill="#ff3c19"/><rect x="1355.0" y="88.0" width="4.3" height="14.6" fill="#c5c5c5"/><rect x="1359.0" y="88.0" width="4.3" height="14.6" fill="#626262"/><rect x="1363.0" y="88.0" width="1.3" height="14.6" fill="#4f4f4f"/>
<rect x="1369.0" y="72.6" width="6.3" height="15.4" fill="#d5cd8f"/><rect x="1375.0" y="72.6" width="4.3" height="15.4" fill="#9b9b9a"/><rect x="1379.0" y="72.6" width="2.3" height="15.4" fill="#8f8f8f"/><rect x="1381.0" y="72.6" width="4.3" height="15.4" fill="#fefd24"/><rect x="1385.0" y="72.6" width="2.3" height="15.4" fill="#f6f24a"/><rect x="1387.0" y="72.6" width="2.3" height="15.4" fill="#c3c3bd"/><rect x="1389.0" y="72.6" width="2.3" height="15.4" fill="#f9f73b"/><rect x="1391.0" y="72.6" width="6.3" height="15.4" fill="#979795"/><rect x="1397.0" y="72.6" width="6.3" height="15.4" fill="#a8a8a5"/><rect x="1403.0" y="72.6" width="2.3" height="15.4" fill="#969695"/><rect x="1405.0" y="72.6" width="6.3" height="15.4" fill="#999998"/><rect x="1411.0" y="72.6" width="2.3" height="15.4" fill="#d8d08b"/><rect x="1413.0" y="72.6" width="2.3" height="15.4" fill="#a1a19f"/><rect x="1415.0" y="72.6" width="2.3" height="15.4" fill="#b7b7b3"/><rect x="1417.0" y="72.6" width="2.3" height="15.4" fill="#a8a8a5"/><rect x="1419.0" y="72.6" width="2.3" height="15.4" fill="#b0b0ac"/><rect x="1421.0" y="72.6" width="4.3" height="15.4" fill="#e3db7c"/><rect x="1425.0" y="72.6" width="2.3" height="15.4" fill="#b2b2ae"/><rect x="1427.0" y="72.6" width="2.3" height="15.4" fill="#e6de78"/><rect x="1429.0" y="72.6" width="2.3" height="15.4" fill="#d7cf8c"/><rect x="1431.0" y="72.6" width="4.3" height="15.4" fill="#e6de78"/><rect x="1435.0" y="72.6" width="2.3" height="15.4" fill="#fdfc29"/><rect x="1437.0" y="72.6" width="2.3" height="15.4" fill="#fffe20"/><rect x="1439.0" y="72.6" width="2.3" height="15.4" fill="#adadaa"/><rect x="1441.0" y="72.6" width="2.3" height="15.4" fill="#959594"/><rect x="1443.0" y="72.6" width="6.3" height="15.4" fill="#d3cb91"/><rect x="1449.0" y="72.6" width="2.3" height="15.4" fill="#f5f14d"/><rect x="1451.0" y="72.6" width="4.3" height="15.4" fill="#606060"/><rect x="1455.0" y="72.6" width="2.3" height="15.4" fill="#989897"/><rect x="1457.0" y="72.6" width="2.3" height="15.4" fill="#c0c0bb"/><rect x="1459.0" y="72.6" width="2.3" height="15.4" fill="#b2b2ae"/><rect x="1461.0" y="72.6" width="2.3" height="15.4" fill="#a7a7a4"/><rect x="1463.0" y="72.6" width="2.3" height="15.4" fill="#f4f051"/><rect x="1465.0" y="72.6" width="2.3" height="15.4" fill="#c1c1bb"/><rect x="1467.0" y="72.6" width="4.3" height="15.4" fill="#929292"/><rect x="1471.0" y="72.6" width="6.3" height="15.4" fill="#acaca9"/><rect x="1477.0" y="72.6" width="4.3" height="15.4" fill="#bdbdb8"/><rect x="1481.0" y="72.6" width="4.3" height="15.4" fill="#ababa7"/><rect x="1485.0" y="72.6" width="4.3" height="15.4" fill="#d5cd90"/><rect x="1489.0" y="72.6" width="4.3" height="15.4" fill="#dbd387"/><rect x="1493.0" y="72.6" width="4.3" height="15.4" fill="#efea68"/><rect x="1497.0" y="72.6" width="4.3" height="15.4" fill="#ababa8"/><rect x="1501.0" y="72.6" width="4.3" height="15.4" fill="#fefe22"/><rect x="1505.0" y="72.6" width="2.3" height="15.4" fill="#f7f443"/><rect x="1507.0" y="72.6" width="2.3" height="15.4" fill="#b2b2ae"/><rect x="1509.0" y="72.6" width="4.3" height="15.4" fill="#ddd585"/><rect x="1513.0" y="72.6" width="2.3" height="15.4" fill="#bdbdb8"/><rect x="1515.0" y="72.6" width="2.3" height="15.4" fill="#fcfb2d"/><rect x="1517.0" y="72.6" width="4.3" height="15.4" fill="#bcbcb7"/><rect x="1521.0" y="72.6" width="2.3" height="15.4" fill="#a7a7a4"/><rect x="1523.0" y="72.6" width="2.3" height="15.4" fill="#f0eb64"/><rect x="1525.0" y="72.6" width="4.3" height="15.4" fill="#ded684"/><rect x="1529.0" y="72.6" width="2.3" height="15.4" fill="#ddd584"/><rect x="1531.0" y="72.6" width="6.3" height="15.4" fill="#ded683"/><rect x="1537.0" y="72.6" width="4.3" height="15.4" fill="#e9e174"/><rect x="1541.0" y="72.6" width="2.3" height="15.4" fill="#a9a9a5"/><rect x="1543.0" y="72.6" width="2.3" height="15.4" fill="#f7f446"/><rect x="1545.0" y="72.6" width="2.3" height="15.4" fill="#a5a5a3"/><rect x="1547.0" y="72.6" width="2.3" height="15.4" fill="#bcbcb6"/><rect x="1549.0" y="72.6" width="2.3" height="15.4" fill="#f9f739"/><rect x="1551.0" y="72.6" width="2.3" height="15.4" fill="#b8b8b3"/><rect x="1553.0" y="72.6" width="2.3" height="15.4" fill="#fcfb2d"/><rect x="1555.0" y="72.6" width="2.3" height="15.4" fill="#f3ef55"/><rect x="1557.0" y="72.6" width="2.3" height="15.4" fill="#c0c0ba"/><rect x="1559.0" y="72.6" width="4.3" height="15.4" fill="#dad288"/><rect x="1563.0" y="72.6" width="4.3" height="15.4" fill="#a5a5a2"/><rect x="1567.0" y="72.6" width="2.3" height="15.4" fill="#d5cd8f"/><rect x="1569.0" y="72.6" width="4.3" height="15.4" fill="#dad288"/><rect x="1573.0" y="72.6" width="2.3" height="15.4" fill="#b8b8b4"/><rect x="1575.0" y="72.6" width="2.3" height="15.4" fill="#fdfc28"/><rect x="1577.0" y="72.6" width="4.3" height="15.4" fill="#c2c2bc"/><rect x="1581.0" y="72.6" width="2.3" height="15.4" fill="#efe969"/><rect x="1583.0" y="72.6" width="4.3" height="15.4" fill="#b3b3af"/><rect x="1587.0" y="72.6" width="2.3" height="15.4" fill="#4b4b4b"/><rect x="1589.0" y="72.6" width="4.3" height="15.4" fill="#939392"/><rect x="1593.0" y="72.6" width="6.3" height="15.4" fill="#e8e076"/><rect x="1599.0" y="72.6" width="4.3" height="15.4" fill="#e2da7e"/><rect x="1603.0" y="72.6" width="4.3" height="15.4" fill="#dfd781"/><rect x="1607.0" y="72.6" width="4.3" height="15.4" fill="#fdfd26"/><rect x="1611.0" y="72.6" width="4.3" height="15.4" fill="#b7b7b2"/><rect x="1615.0" y="72.6" width="4.3" height="15.4" fill="#fdfc28"/><rect x="1619.0" y="72.6" width="2.3" height="15.4" fill="#c0c0ba"/><rect x="1621.0" y="72.6" width="4.3" height="15.4" fill="#d2ca93"/><rect x="1625.0" y="72.6" width="2.3" height="15.4" fill="#f8f53f"/><rect x="1627.0" y="72.6" width="2.3" height="15.4" fill="#eae272"/><rect x="1629.0" y="72.6" width="2.3" height="15.4" fill="#dcd486"/><rect x="1631.0" y="72.6" width="4.3" height="15.4" fill="#b4b4af"/><rect x="1635.0" y="72.6" width="4.3" height="15.4" fill="#f5f14f"/><rect x="1639.0" y="72.6" width="2.3" height="15.4" fill="#e8e075"/><rect x="1641.0" y="72.6" width="6.3" height="15.4" fill="#e0d880"/><rect x="1647.0" y="72.6" width="2.3" height="15.4" fill="#f0eb64"/><rect x="1649.0" y="72.6" width="6.3" height="15.4" fill="#a5a5a3"/><rect x="1655.0" y="72.6" width="2.3" height="15.4" fill="#e6de78"/><rect x="1657.0" y="72.6" width="6.3" height="15.4" fill="#e2da7e"/><rect x="1663.0" y="72.6" width="4.3" height="15.4" fill="#9d9d9b"/><rect x="1667.0" y="72.6" width="6.3" height="15.4" fill="#c3c3bd"/><rect x="1673.0" y="72.6" width="4.3" height="15.4" fill="#fefd24"/><rect x="1677.0" y="72.6" width="2.3" height="15.4" fill="#e3db7c"/><rect x="1679.0" y="72.6" width="4.3" height="15.4" fill="#c1c1bb"/><rect x="1683.0" y="72.6" width="2.3" height="15.4" fill="#8c8c8c"/><rect x="1685.0" y="72.6" width="2.3" height="15.4" fill="#fbfa30"/><rect x="1687.0" y="72.6" width="4.3" height="15.4" fill="#d0c896"/><rect x="1691.0" y="72.6" width="2.3" height="15.4" fill="#4e4e4e"/><rect x="1693.0" y="72.6" width="6.3" height="15.4" fill="#e6de78"/><rect x="1699.0" y="72.6" width="4.3" height="15.4" fill="#f9f63c"/><rect x="1703.0" y="72.6" width="2.3" height="15.4" fill="#e9e174"/><rect x="1705.0" y="72.6" width="6.3" height="15.4" fill="#fcfb2b"/><rect x="1711.0" y="72.6" width="4.3" height="15.4" fill="#d6ce8e"/><rect x="1715.0" y="72.6" width="2.3" height="15.4" fill="#d1c995"/><rect x="1717.0" y="72.6" width="2.3" height="15.4" fill="#e9e175"/><rect x="1719.0" y="72.6" width="2.3" height="15.4" fill="#f9f63c"/><rect x="1721.0" y="72.6" width="2.3" height="15.4" fill="#929291"/><rect x="1723.0" y="72.6" width="2.3" height="15.4" fill="#f8f63f"/><rect x="1725.0" y="72.6" width="4.3" height="15.4" fill="#e9e174"/><rect x="1729.0" y="72.6" width="6.3" height="15.4" fill="#eee86e"/><rect x="1735.0" y="72.6" width="4.3" height="15.4" fill="#f5f24b"/><rect x="1739.0" y="72.6" width="2.3" height="15.4" fill="#ded683"/><rect x="1741.0" y="72.6" width="2.3" height="15.4" fill="#f2ed5c"/><rect x="1743.0" y="72.6" width="2.3" height="15.4" fill="#dfd782"/><rect x="1745.0" y="72.6" width="2.3" height="15.4" fill="#e7df76"/><rect x="1747.0" y="72.6" width="2.3" height="15.4" fill="#d4cc90"/><rect x="1749.0" y="72.6" width="2.3" height="15.4" fill="#a8a8a5"/><rect x="1751.0" y="72.6" width="2.3" height="15.4" fill="#a7a7a4"/><rect x="1753.0" y="72.6" width="2.3" height="15.4" fill="#8e8e8e"/><rect x="1755.0" y="72.6" width="4.3" height="15.4" fill="#adada9"/><rect x="1759.0" y="72.6" width="2.3" height="15.4" fill="#f1ed5e"/><rect x="1761.0" y="72.6" width="2.3" height="15.4" fill="#9c9c9a"/><rect x="1763.0" y="72.6" width="2.3" height="15.4" fill="#f4f14f"/><rect x="1765.0" y="72.6" width="2.3" height="15.4" fill="#faf836"/><rect x="1767.0" y="72.6" width="4.3" height="15.4" fill="#959594"/><rect x="1771.0" y="72.6" width="2.3" height="15.4" fill="#e4dc7b"/><rect x="1773.0" y="72.6" width="2.3" height="15.4" fill="#fdfc27"/><rect x="1775.0" y="72.6" width="2.3" height="15.4" fill="#ded683"/><rect x="1777.0" y="72.6" width="4.3" height="15.4" fill="#555555"/><rect x="1781.0" y="72.6" width="2.3" height="15.4" fill="#ded683"/><rect x="1783.0" y="72.6" width="2.3" height="15.4" fill="#e4dc7b"/><rect x="1785.0" y="72.6" width="4.3" height="15.4" fill="#b8b8b3"/><rect x="1789.0" y="72.6" width="2.3" height="15.4" fill="#dfd782"/><rect x="1791.0" y="72.6" width="2.3" height="15.4" fill="#b1b1ad"/><rect x="1793.0" y="72.6" width="2.3" height="15.4" fill="#f1ec61"/><rect x="1795.0" y="72.6" width="2.3" height="15.4" fill="#f9f63d"/><rect x="1797.0" y="72.6" width="2.3" height="15.4" fill="#e6de78"/><rect x="1799.0" y="72.6" width="2.3" height="15.4" fill="#c2c2bc"/><rect x="1801.0" y="72.6" width="2.3" height="15.4" fill="#e6de79"/><rect x="1803.0" y="72.6" width="4.3" height="15.4" fill="#d7cf8c"/><rect x="1807.0" y="72.6" width="2.3" height="15.4" fill="#d1c995"/><rect x="1809.0" y="72.6" width="2.3" height="15.4" fill="#f9f73b"/><rect x="1811.0" y="72.6" width="2.3" height="15.4" fill="#f5f14e"/><rect x="1813.0" y="72.6" width="2.3" height="15.4" fill="#fbfa2f"/><rect x="1815.0" y="72.6" width="6.3" height="15.4" fill="#faf837"/><rect x="1821.0" y="72.6" width="2.3" height="15.4" fill="#f2ee5b"/><rect x="1823.0" y="72.6" width="2.3" height="15.4" fill="#fdfd25"/><rect x="1825.0" y="72.6" width="2.3" height="15.4" fill="#f1ec5f"/><rect x="1827.0" y="72.6" width="2.3" height="15.4" fill="#f9f63c"/><rect x="1829.0" y="72.6" width="2.3" height="15.4" fill="#f3ef54"/><rect x="1831.0" y="72.6" width="2.3" height="15.4" fill="#fbfa30"/><rect x="1833.0" y="72.6" width="2.3" height="15.4" fill="#faf837"/><rect x="1835.0" y="72.6" width="6.3" height="15.4" fill="#faf835"/><rect x="1841.0" y="72.6" width="2.3" height="15.4" fill="#f2ed5b"/><rect x="1843.0" y="72.6" width="2.3" height="15.4" fill="#eae273"/><rect x="1845.0" y="72.6" width="2.3" height="15.4" fill="#a0a09e"/><rect x="1847.0" y="72.6" width="2.3" height="15.4" fill="#9e9e9c"/><rect x="1849.0" y="72.6" width="2.3" height="15.4" fill="#ece470"/><rect x="1851.0" y="72.6" width="4.3" height="15.4" fill="#e3db7d"/><rect x="1855.0" y="72.6" width="4.3" height="15.4" fill="#393939"/><rect x="1859.0" y="72.6" width="2.3" height="15.4" fill="#fefd25"/><rect x="1861.0" y="72.6" width="4.3" height="15.4" fill="#afafab"/><rect x="1865.0" y="72.6" width="2.3" height="15.4" fill="#979796"/><rect x="1867.0" y="72.6" width="2.3" height="15.4" fill="#d7cf8c"/><rect x="1869.0" y="72.6" width="2.3" height="15.4" fill="#8e8e8e"/><rect x="1871.0" y="72.6" width="2.3" height="15.4" fill="#a5a5a3"/><rect x="1873.0" y="72.6" width="2.3" height="15.4" fill="#aeaeaa"/><rect x="1875.0" y="72.6" width="4.3" height="15.4" fill="#a5a5a2"/><rect x="1879.0" y="72.6" width="6.3" height="15.4" fill="#f8f53f"/><rect x="1885.0" y="72.6" width="4.3" height="15.4" fill="#efe96a"/><rect x="1889.0" y="72.6" width="2.3" height="15.4" fill="#aaaaa6"/><rect x="1891.0" y="72.6" width="2.3" height="15.4" fill="#90908f"/><rect x="1893.0" y="72.6" width="2.3" height="15.4" fill="#909090"/><rect x="1895.0" y="72.6" width="2.3" height="15.4" fill="#d6ce8e"/><rect x="1897.0" y="72.6" width="4.3" height="15.4" fill="#bebeb9"/><rect x="1901.0" y="72.6" width="4.3" height="15.4" fill="#999997"/><rect x="1905.0" y="72.6" width="2.3" height="15.4" fill="#f9f73a"/><rect x="1907.0" y="72.6" width="2.3" height="15.4" fill="#afafab"/><rect x="1909.0" y="72.6" width="6.3" height="15.4" fill="#e1d97f"/><rect x="1915.0" y="72.6" width="4.3" height="15.4" fill="#aaaaa7"/><rect x="1919.0" y="72.6" width="6.3" height="15.4" fill="#a9a9a6"/><rect x="1925.0" y="72.6" width="2.3" height="15.4" fill="#d8d08b"/><rect x="1927.0" y="72.6" width="2.3" height="15.4" fill="#b0b0ac"/><rect x="1929.0" y="72.6" width="2.3" height="15.4" fill="#e5dd7a"/><rect x="1931.0" y="72.6" width="2.3" height="15.4" fill="#b6b6b1"/><rect x="1933.0" y="72.6" width="2.3" height="15.4" fill="#acaca8"/><rect x="1935.0" y="72.6" width="4.3" height="15.4" fill="#fcfb2c"/><rect x="1939.0" y="72.6" width="2.3" height="15.4" fill="#aaaaa7"/><rect x="1941.0" y="72.6" width="2.3" height="15.4" fill="#fcfb2d"/><rect x="1943.0" y="72.6" width="4.3" height="15.4" fill="#faf837"/><rect x="1947.0" y="72.6" width="6.3" height="15.4" fill="#eee86d"/><rect x="1953.0" y="72.6" width="2.3" height="15.4" fill="#ddd585"/><rect x="1955.0" y="72.6" width="2.3" height="15.4" fill="#dfd781"/><rect x="1957.0" y="72.6" width="6.3" height="15.4" fill="#e4dc7b"/><rect x="1963.0" y="72.6" width="2.3" height="15.4" fill="#b8b8b3"/><rect x="1965.0" y="72.6" width="2.3" height="15.4" fill="#9b9b99"/><rect x="1967.0" y="72.6" width="2.3" height="15.4" fill="#f2ed5b"/><rect x="1969.0" y="72.6" width="4.3" height="15.4" fill="#eee86e"/><rect x="1973.0" y="72.6" width="2.3" height="15.4" fill="#b0b0ac"/><rect x="1975.0" y="72.6" width="6.3" height="15.4" fill="#b4b4af"/><rect x="1981.0" y="72.6" width="6.3" height="15.4" fill="#8d8d8d"/><rect x="1987.0" y="72.6" width="2.3" height="15.4" fill="#ffff20"/><rect x="1989.0" y="72.6" width="4.3" height="15.4" fill="#9f9f9d"/><rect x="1993.0" y="72.6" width="2.3" height="15.4" fill="#fdfc29"/><rect x="1995.0" y="72.6" width="1.3" height="15.4" fill="#fffe20"/>
<rect x="1369.0" y="88.0" width="6.3" height="14.6" fill="#8c8c8c"/><rect x="1375.0" y="88.0" width="6.3" height="14.6" fill="#575757"/><rect x="1381.0" y="88.0" width="4.3" height="14.6" fill="#7c7c7c"/><rect x="1385.0" y="88.0" width="4.3" height="14.6" fill="#bababa"/><rect x="1389.0" y="88.0" width="6.3" height="14.6" fill="#464646"/><rect x="1395.0" y="88.0" width="6.3" height="14.6" fill="#a9a9a9"/><rect x="1401.0" y="88.0" width="2.3" height="14.6" fill="#a1a1a1"/><rect x="1403.0" y="88.0" width="6.3" height="14.6" fill="#909090"/><rect x="1409.0" y="88.0" width="4.3" height="14.6" fill="#686868"/><rect x="1413.0" y="88.0" width="4.3" height="14.6" fill="#838383"/><rect x="1417.0" y="88.0" width="2.3" height="14.6" fill="#c3c3c3"/><rect x="1419.0" y="88.0" width="4.3" height="14.6" fill="#cbc5c4"/><rect x="1423.0" y="88.0" width="4.3" height="14.6" fill="#a9a9a9"/><rect x="1427.0" y="88.0" width="2.3" height="14.6" fill="#dcb1a9"/><rect x="1429.0" y="88.0" width="2.3" height="14.6" fill="#a0a0a0"/><rect x="1431.0" y="88.0" width="2.3" height="14.6" fill="#c4c4c4"/><rect x="1433.0" y="88.0" width="4.3" height="14.6" fill="#bdbdbd"/><rect x="1437.0" y="88.0" width="2.3" height="14.6" fill="#3a3a3a"/><rect x="1439.0" y="88.0" width="4.3" height="14.6" fill="#3b3b3b"/><rect x="1443.0" y="88.0" width="4.3" height="14.6" fill="#969696"/><rect x="1447.0" y="88.0" width="4.3" height="14.6" fill="#898989"/><rect x="1451.0" y="88.0" width="2.3" height="14.6" fill="#454545"/><rect x="1453.0" y="88.0" width="4.3" height="14.6" fill="#f47057"/><rect x="1457.0" y="88.0" width="2.3" height="14.6" fill="#ff3c19"/><rect x="1459.0" y="88.0" width="4.3" height="14.6" fill="#4a4a4a"/><rect x="1463.0" y="88.0" width="2.3" height="14.6" fill="#ee8975"/><rect x="1465.0" y="88.0" width="2.3" height="14.6" fill="#adadad"/><rect x="1469.0" y="88.0" width="2.3" height="14.6" fill="#434343"/><rect x="1471.0" y="88.0" width="2.3" height="14.6" fill="#5c5c5c"/><rect x="1473.0" y="88.0" width="4.3" height="14.6" fill="#4a4a4a"/><rect x="1477.0" y="88.0" width="2.3" height="14.6" fill="#c2c2c2"/><rect x="1479.0" y="88.0" width="4.3" height="14.6" fill="#ccc3c2"/><rect x="1483.0" y="88.0" width="2.3" height="14.6" fill="#cec1bf"/><rect x="1485.0" y="88.0" width="2.3" height="14.6" fill="#bcbcbc"/><rect x="1487.0" y="88.0" width="2.3" height="14.6" fill="#8a8a8a"/><rect x="1489.0" y="88.0" width="4.3" height="14.6" fill="#727272"/><rect x="1493.0" y="88.0" width="2.3" height="14.6" fill="#ff3c19"/><rect x="1495.0" y="88.0" width="6.3" height="14.6" fill="#9d9d9d"/><rect x="1501.0" y="88.0" width="2.3" height="14.6" fill="#a5a5a5"/><rect x="1503.0" y="88.0" width="2.3" height="14.6" fill="#4a4a4a"/><rect x="1505.0" y="88.0" width="2.3" height="14.6" fill="#808080"/><rect x="1507.0" y="88.0" width="4.3" height="14.6" fill="#8a8a8a"/><rect x="1511.0" y="88.0" width="2.3" height="14.6" fill="#b2b2b2"/><rect x="1513.0" y="88.0" width="2.3" height="14.6" fill="#f47259"/><rect x="1515.0" y="88.0" width="2.3" height="14.6" fill="#b4b4b4"/><rect x="1517.0" y="88.0" width="2.3" height="14.6" fill="#707070"/><rect x="1519.0" y="88.0" width="4.3" height="14.6" fill="#898989"/><rect x="1523.0" y="88.0" width="2.3" height="14.6" fill="#c7c7c7"/><rect x="1525.0" y="88.0" width="2.3" height="14.6" fill="#a9a9a9"/><rect x="1527.0" y="88.0" width="2.3" height="14.6" fill="#b6b6b6"/><rect x="1529.0" y="88.0" width="2.3" height="14.6" fill="#878787"/><rect x="1531.0" y="88.0" width="2.3" height="14.6" fill="#8c8c8c"/><rect x="1533.0" y="88.0" width="2.3" height="14.6" fill="#9a9a9a"/><rect x="1535.0" y="88.0" width="2.3" height="14.6" fill="#a2a2a2"/><rect x="1537.0" y="88.0" width="2.3" height="14.6" fill="#9e9e9e"/><rect x="1539.0" y="88.0" width="2.3" height="14.6" fill="#727272"/><rect x="1541.0" y="88.0" width="2.3" height="14.6" fill="#5d5d5d"/><rect x="1543.0" y="88.0" width="2.3" height="14.6" fill="#838383"/><rect x="1545.0" y="88.0" width="4.3" height="14.6" fill="#ff3c19"/><rect x="1549.0" y="88.0" width="2.3" height="14.6" fill="#ff3c19"/><rect x="1551.0" y="88.0" width="2.3" height="14.6" fill="#bbbbbb"/><rect x="1553.0" y="88.0" width="2.3" height="14.6" fill="#4d4d4d"/><rect x="1555.0" y="88.0" width="2.3" height="14.6" fill="#a4a4a4"/><rect x="1557.0" y="88.0" width="2.3" height="14.6" fill="#d5b9b3"/><rect x="1559.0" y="88.0" width="2.3" height="14.6" fill="#bdbdbd"/><rect x="1561.0" y="88.0" width="4.3" height="14.6" fill="#535353"/><rect x="1565.0" y="88.0" width="4.3" height="14.6" fill="#a0a0a0"/><rect x="1569.0" y="88.0" width="2.3" height="14.6" fill="#bcbcbc"/><rect x="1571.0" y="88.0" width="6.3" height="14.6" fill="#ff3c19"/><rect x="1577.0" y="88.0" width="2.3" height="14.6" fill="#bebebe"/><rect x="1579.0" y="88.0" width="2.3" height="14.6" fill="#bebebe"/><rect x="1581.0" y="88.0" width="4.3" height="14.6" fill="#585858"/><rect x="1585.0" y="88.0" width="2.3" height="14.6" fill="#898989"/><rect x="1587.0" y="88.0" width="2.3" height="14.6" fill="#ff3c19"/><rect x="1589.0" y="88.0" width="2.3" height="14.6" fill="#3b3b3b"/><rect x="1591.0" y="88.0" width="4.3" height="14.6" fill="#bbbbbb"/><rect x="1595.0" y="88.0" width="2.3" height="14.6" fill="#c0c0c0"/><rect x="1597.0" y="88.0" width="2.3" height="14.6" fill="#3c3c3c"/><rect x="1599.0" y="88.0" width="2.3" height="14.6" fill="#373737"/><rect x="1601.0" y="88.0" width="2.3" height="14.6" fill="#b7b7b7"/><rect x="1603.0" y="88.0" width="2.3" height="14.6" fill="#c7c7c7"/><rect x="1605.0" y="88.0" width="6.3" height="14.6" fill="#868686"/><rect x="1611.0" y="88.0" width="2.3" height="14.6" fill="#f3755d"/><rect x="1613.0" y="88.0" width="4.3" height="14.6" fill="#3e3e3e"/><rect x="1617.0" y="88.0" width="2.3" height="14.6" fill="#5b5b5b"/><rect x="1619.0" y="88.0" width="2.3" height="14.6" fill="#c4c4c4"/><rect x="1621.0" y="88.0" width="2.3" height="14.6" fill="#c7c7c7"/><rect x="1623.0" y="88.0" width="2.3" height="14.6" fill="#a5a5a5"/><rect x="1625.0" y="88.0" width="6.3" height="14.6" fill="#a0a0a0"/><rect x="1631.0" y="88.0" width="2.3" height="14.6" fill="#656565"/><rect x="1633.0" y="88.0" width="2.3" height="14.6" fill="#4c4c4c"/><rect x="1635.0" y="88.0" width="4.3" height="14.6" fill="#989898"/><rect x="1639.0" y="88.0" width="4.3" height="14.6" fill="#a5a5a5"/><rect x="1643.0" y="88.0" width="2.3" height="14.6" fill="#434343"/><rect x="1645.0" y="88.0" width="6.3" height="14.6" fill="#747474"/><rect x="1651.0" y="88.0" width="2.3" height="14.6" fill="#3a3a3a"/><rect x="1653.0" y="88.0" width="2.3" height="14.6" fill="#434343"/><rect x="1655.0" y="88.0" width="2.3" height="14.6" fill="#808080"/><rect x="1657.0" y="88.0" width="2.3" height="14.6" fill="#a4a4a4"/><rect x="1659.0" y="88.0" width="4.3" height="14.6" fill="#ff3c19"/><rect x="1663.0" y="88.0" width="2.3" height="14.6" fill="#c0c0c0"/><rect x="1665.0" y="88.0" width="4.3" height="14.6" fill="#8b8b8b"/><rect x="1669.0" y="88.0" width="2.3" height="14.6" fill="#737373"/><rect x="1671.0" y="88.0" width="2.3" height="14.6" fill="#818181"/><rect x="1673.0" y="88.0" width="4.3" height="14.6" fill="#c5c5c5"/><rect x="1677.0" y="88.0" width="2.3" height="14.6" fill="#909090"/><rect x="1679.0" y="88.0" width="4.3" height="14.6" fill="#f95e41"/><rect x="1683.0" y="88.0" width="4.3" height="14.6" fill="#c2c2c2"/><rect x="1687.0" y="88.0" width="6.3" height="14.6" fill="#ff3c19"/><rect x="1693.0" y="88.0" width="2.3" height="14.6" fill="#afafaf"/><rect x="1695.0" y="88.0" width="4.3" height="14.6" fill="#989898"/><rect x="1699.0" y="88.0" width="4.3" height="14.6" fill="#ff3c19"/><rect x="1709.0" y="88.0" width="6.3" height="14.6" fill="#8d8d8d"/><rect x="1719.0" y="88.0" width="2.3" height="14.6" fill="#5c5c5c"/><rect x="1721.0" y="88.0" width="4.3" height="14.6" fill="#aaaaaa"/><rect x="1725.0" y="88.0" width="2.3" height="14.6" fill="#e0aca2"/><rect x="1727.0" y="88.0" width="4.3" height="14.6" fill="#464646"/><rect x="1731.0" y="88.0" width="2.3" height="14.6" fill="#747474"/><rect x="1733.0" y="88.0" width="2.3" height="14.6" fill="#7b7b7b"/><rect x="1735.0" y="88.0" width="2.3" height="14.6" fill="#767676"/><rect x="1737.0" y="88.0" width="2.3" height="14.6" fill="#bbbbbb"/><rect x="1739.0" y="88.0" width="2.3" height="14.6" fill="#4f4f4f"/><rect x="1741.0" y="88.0" width="2.3" height="14.6" fill="#7c7c7c"/><rect x="1743.0" y="88.0" width="6.3" height="14.6" fill="#3a3a3a"/><rect x="1749.0" y="88.0" width="4.3" height="14.6" fill="#646464"/><rect x="1753.0" y="88.0" width="4.3" height="14.6" fill="#ff3c19"/><rect x="1757.0" y="88.0" width="6.3" height="14.6" fill="#646464"/><rect x="1763.0" y="88.0" width="2.3" height="14.6" fill="#414141"/><rect x="1765.0" y="88.0" width="4.3" height="14.6" fill="#b3b3b3"/><rect x="1773.0" y="88.0" width="2.3" height="14.6" fill="#3b3b3b"/><rect x="1775.0" y="88.0" width="2.3" height="14.6" fill="#606060"/><rect x="1777.0" y="88.0" width="4.3" height="14.6" fill="#e99e8e"/><rect x="1781.0" y="88.0" width="2.3" height="14.6" fill="#b8b8b8"/><rect x="1783.0" y="88.0" width="4.3" height="14.6" fill="#606060"/><rect x="1787.0" y="88.0" width="2.3" height="14.6" fill="#444444"/><rect x="1789.0" y="88.0" width="2.3" height="14.6" fill="#404040"/><rect x="1791.0" y="88.0" width="4.3" height="14.6" fill="#929292"/><rect x="1795.0" y="88.0" width="2.3" height="14.6" fill="#acacac"/><rect x="1797.0" y="88.0" width="4.3" height="14.6" fill="#c4c4c4"/><rect x="1801.0" y="88.0" width="2.3" height="14.6" fill="#878787"/><rect x="1803.0" y="88.0" width="2.3" height="14.6" fill="#898989"/><rect x="1805.0" y="88.0" width="2.3" height="14.6" fill="#808080"/><rect x="1807.0" y="88.0" width="2.3" height="14.6" fill="#9c9c9c"/><rect x="1809.0" y="88.0" width="2.3" height="14.6" fill="#ff3c19"/><rect x="1811.0" y="88.0" width="4.3" height="14.6" fill="#515151"/><rect x="1815.0" y="88.0" width="4.3" height="14.6" fill="#9b9b9b"/><rect x="1819.0" y="88.0" width="2.3" height="14.6" fill="#464646"/><rect x="1821.0" y="88.0" width="2.3" height="14.6" fill="#e89e8f"/><rect x="1823.0" y="88.0" width="4.3" height="14.6" fill="#787878"/><rect x="1827.0" y="88.0" width="6.3" height="14.6" fill="#424242"/><rect x="1833.0" y="88.0" width="2.3" height="14.6" fill="#999999"/><rect x="1835.0" y="88.0" width="2.3" height="14.6" fill="#b7b7b7"/><rect x="1837.0" y="88.0" width="6.3" height="14.6" fill="#7b7b7b"/><rect x="1843.0" y="88.0" width="2.3" height="14.6" fill="#adadad"/><rect x="1845.0" y="88.0" width="4.3" height="14.6" fill="#434343"/><rect x="1851.0" y="88.0" width="4.3" height="14.6" fill="#ff3c19"/><rect x="1855.0" y="88.0" width="2.3" height="14.6" fill="#b7b7b7"/><rect x="1857.0" y="88.0" width="2.3" height="14.6" fill="#c5c5c5"/><rect x="1859.0" y="88.0" width="2.3" height="14.6" fill="#ff3c19"/><rect x="1861.0" y="88.0" width="4.3" height="14.6" fill="#bebebe"/><rect x="1865.0" y="88.0" width="2.3" height="14.6" fill="#5e5e5e"/><rect x="1867.0" y="88.0" width="2.3" height="14.6" fill="#757575"/><rect x="1869.0" y="88.0" width="4.3" height="14.6" fill="#9b9b9b"/><rect x="1873.0" y="88.0" width="2.3" height="14.6" fill="#bebebe"/><rect x="1875.0" y="88.0" width="2.3" height="14.6" fill="#9b9b9b"/><rect x="1877.0" y="88.0" width="2.3" height="14.6" fill="#ff3c19"/><rect x="1879.0" y="88.0" width="2.3" height="14.6" fill="#b5b5b5"/><rect x="1881.0" y="88.0" width="2.3" height="14.6" fill="#8f8f8f"/><rect x="1883.0" y="88.0" width="4.3" height="14.6" fill="#444444"/><rect x="1887.0" y="88.0" width="4.3" height="14.6" fill="#ee8a76"/><rect x="1891.0" y="88.0" width="2.3" height="14.6" fill="#696969"/><rect x="1893.0" y="88.0" width="4.3" height="14.6" fill="#9c9c9c"/><rect x="1897.0" y="88.0" width="2.3" height="14.6" fill="#5d5d5d"/><rect x="1899.0" y="88.0" width="4.3" height="14.6" fill="#b5b5b5"/><rect x="1903.0" y="88.0" width="4.3" height="14.6" fill="#949494"/><rect x="1907.0" y="88.0" width="2.3" height="14.6" fill="#c7c7c7"/><rect x="1909.0" y="88.0" width="6.3" height="14.6" fill="#606060"/><rect x="1915.0" y="88.0" width="2.3" height="14.6" fill="#797979"/><rect x="1917.0" y="88.0" width="4.3" height="14.6" fill="#9f9f9f"/><rect x="1921.0" y="88.0" width="4.3" height="14.6" fill="#5e5e5e"/><rect x="1925.0" y="88.0" width="2.3" height="14.6" fill="#c3c3c3"/><rect x="1927.0" y="88.0" width="2.3" height="14.6" fill="#696969"/><rect x="1929.0" y="88.0" width="4.3" height="14.6" fill="#727272"/><rect x="1933.0" y="88.0" width="2.3" height="14.6" fill="#aaaaaa"/><rect x="1935.0" y="88.0" width="4.3" height="14.6" fill="#878787"/><rect x="1939.0" y="88.0" width="4.3" height="14.6" fill="#6b6b6b"/><rect x="1943.0" y="88.0" width="2.3" height="14.6" fill="#a4a4a4"/><rect x="1945.0" y="88.0" width="2.3" height="14.6" fill="#7b7b7b"/><rect x="1947.0" y="88.0" width="2.3" height="14.6" fill="#aaaaaa"/><rect x="1949.0" y="88.0" width="2.3" height="14.6" fill="#979797"/><rect x="1951.0" y="88.0" width="2.3" height="14.6" fill="#585858"/><rect x="1953.0" y="88.0" width="6.3" height="14.6" fill="#c4c4c4"/><rect x="1959.0" y="88.0" width="4.3" height="14.6" fill="#a4a4a4"/><rect x="1963.0" y="88.0" width="2.3" height="14.6" fill="#b0b0b0"/><rect x="1965.0" y="88.0" width="4.3" height="14.6" fill="#9b9b9b"/><rect x="1969.0" y="88.0" width="2.3" height="14.6" fill="#bdbdbd"/><rect x="1971.0" y="88.0" width="6.3" height="14.6" fill="#5a5a5a"/><rect x="1977.0" y="88.0" width="4.3" height="14.6" fill="#adadad"/><rect x="1981.0" y="88.0" width="4.3" height="14.6" fill="#3f3f3f"/><rect x="1985.0" y="88.0" width="2.3" height="14.6" fill="#d9b4ad"/><rect x="1987.0" y="88.0" width="2.3" height="14.6" fill="#ababab"/><rect x="1989.0" y="88.0" width="6.3" height="14.6" fill="#717171"/><rect x="1995.0" y="88.0" width="1.3" height="14.6" fill="#939393"/>
<rect x="423.0" y="104.3" width="481.0" height="14.9" fill="#E4E4E4"/><rect x="446.7" y="104.1" width="2.6" height="15.3" fill="#fff"/><rect x="486.4" y="104.1" width="6.2" height="15.3" fill="#fff"/><rect x="588.9" y="104.1" width="6.9" height="15.3" fill="#fff"/><rect x="816.1" y="104.1" width="5.2" height="15.3" fill="#fff"/><rect x="423.1" y="104.3" width="8.3" height="14.9" fill="#000"/><rect x="436.8" y="104.3" width="2.1" height="14.9" fill="#000"/><rect x="497.7" y="104.3" width="1.0" height="14.9" fill="#000"/><rect x="513.9" y="104.3" width="1.4" height="14.9" fill="#000"/><rect x="545.2" y="104.3" width="4.1" height="14.9" fill="#000"/><rect x="555.6" y="104.3" width="4.1" height="14.9" fill="#000"/><rect x="564.9" y="104.3" width="2.8" height="14.9" fill="#000"/><rect x="597.5" y="104.3" width="1.7" height="14.9" fill="#000"/><rect x="610.6" y="104.3" width="4.8" height="14.9" fill="#000"/><rect x="634.7" y="104.3" width="3.4" height="14.9" fill="#000"/><rect x="642.6" y="104.3" width="43.7" height="14.9" fill="#000"/><rect x="689.8" y="104.3" width="1.4" height="14.9" fill="#000"/><rect x="697.3" y="104.3" width="1.7" height="14.9" fill="#000"/><rect x="703.2" y="104.3" width="28.6" height="14.9" fill="#000"/><rect x="734.5" y="104.3" width="1.7" height="14.9" fill="#000"/><rect x="743.1" y="104.3" width="48.9" height="14.9" fill="#000"/><rect x="827.1" y="104.3" width="18.2" height="14.9" fill="#000"/><rect x="848.1" y="104.3" width="1.7" height="14.9" fill="#000"/><rect x="852.2" y="104.3" width="1.7" height="14.9" fill="#000"/><rect x="856.3" y="104.3" width="1.7" height="14.9" fill="#000"/><rect x="860.1" y="104.3" width="1.4" height="14.9" fill="#000"/><rect x="875.2" y="104.3" width="1.4" height="14.9" fill="#000"/><rect x="898.6" y="104.3" width="5.4" height="14.9" fill="#000"/>
<rect x="909.0" y="104.3" width="455.0" height="14.9" fill="#E4E4E4"/><rect x="923.4" y="104.1" width="4.1" height="15.3" fill="#fff"/><rect x="1030.8" y="104.1" width="10.3" height="15.3" fill="#fff"/><rect x="1061.7" y="104.1" width="8.6" height="15.3" fill="#fff"/><rect x="1206.3" y="104.1" width="3.4" height="15.3" fill="#fff"/><rect x="1228.6" y="104.1" width="5.2" height="15.3" fill="#fff"/><rect x="1252.7" y="104.1" width="5.2" height="15.3" fill="#fff"/><rect x="1273.4" y="104.1" width="3.4" height="15.3" fill="#fff"/><rect x="1285.4" y="104.1" width="3.4" height="15.3" fill="#fff"/><rect x="913.1" y="104.3" width="1.7" height="14.9" fill="#000"/><rect x="928.6" y="104.3" width="4.8" height="14.9" fill="#000"/><rect x="935.4" y="104.3" width="2.4" height="14.9" fill="#000"/><rect x="949.2" y="104.3" width="1.7" height="14.9" fill="#000"/><rect x="956.8" y="104.3" width="1.7" height="14.9" fill="#000"/><rect x="967.1" y="104.3" width="2.4" height="14.9" fill="#000"/><rect x="974.7" y="104.3" width="2.8" height="14.9" fill="#000"/><rect x="988.4" y="104.3" width="2.4" height="14.9" fill="#000"/><rect x="1002.2" y="104.3" width="6.5" height="14.9" fill="#000"/><rect x="1023.5" y="104.3" width="4.1" height="14.9" fill="#000"/><rect x="1041.8" y="104.3" width="2.1" height="14.9" fill="#000"/><rect x="1057.3" y="104.3" width="2.4" height="14.9" fill="#000"/><rect x="1091.7" y="104.3" width="5.2" height="14.9" fill="#000"/><rect x="1098.6" y="104.3" width="3.4" height="14.9" fill="#000"/><rect x="1139.8" y="104.3" width="2.1" height="14.9" fill="#000"/><rect x="1144.3" y="104.3" width="26.8" height="14.9" fill="#000"/><rect x="1173.6" y="104.3" width="12.7" height="14.9" fill="#000"/><rect x="1189.7" y="104.3" width="1.7" height="14.9" fill="#000"/><rect x="1245.1" y="104.3" width="1.7" height="14.9" fill="#000"/><rect x="1269.2" y="104.3" width="1.4" height="14.9" fill="#000"/><rect x="1289.9" y="104.3" width="1.7" height="14.9" fill="#000"/><rect x="1306.4" y="104.3" width="1.4" height="14.9" fill="#000"/><rect x="1335.3" y="104.3" width="2.1" height="14.9" fill="#000"/><rect x="1339.4" y="104.3" width="2.4" height="14.9" fill="#000"/>
<rect x="1369.0" y="104.3" width="627.0" height="14.9" fill="#E4E4E4"/><rect x="1422.3" y="104.1" width="2.0" height="15.3" fill="#fff"/><rect x="1714.3" y="104.1" width="3.2" height="15.3" fill="#fff"/><rect x="1720.5" y="104.1" width="1.5" height="15.3" fill="#fff"/><rect x="1765.3" y="104.1" width="2.0" height="15.3" fill="#fff"/><rect x="1823.2" y="104.1" width="2.0" height="15.3" fill="#fff"/><rect x="1848.6" y="104.1" width="2.0" height="15.3" fill="#fff"/><rect x="1852.4" y="104.1" width="2.0" height="15.3" fill="#fff"/><rect x="1865.8" y="104.1" width="2.0" height="15.3" fill="#fff"/><rect x="1934.5" y="104.1" width="2.0" height="15.3" fill="#fff"/><rect x="1984.8" y="104.1" width="2.0" height="15.3" fill="#fff"/><rect x="1989.2" y="104.1" width="2.0" height="15.3" fill="#fff"/><rect x="1993.7" y="104.1" width="2.3" height="15.3" fill="#fff"/><rect x="1464.6" y="104.3" width="2.4" height="14.9" fill="#000"/><rect x="1491.4" y="104.3" width="1.7" height="14.9" fill="#000"/><rect x="1506.6" y="104.3" width="5.2" height="14.9" fill="#000"/><rect x="1520.3" y="104.3" width="2.1" height="14.9" fill="#000"/><rect x="1578.1" y="104.3" width="1.7" height="14.9" fill="#000"/><rect x="1604.3" y="104.3" width="2.1" height="14.9" fill="#000"/><rect x="1612.2" y="104.3" width="4.5" height="14.9" fill="#000"/><rect x="1641.5" y="104.3" width="2.1" height="14.9" fill="#000"/><rect x="1696.9" y="104.3" width="1.7" height="14.9" fill="#000"/><rect x="1704.4" y="104.3" width="2.1" height="14.9" fill="#000"/><rect x="1725.8" y="104.3" width="2.4" height="14.9" fill="#000"/><rect x="1783.6" y="104.3" width="2.4" height="14.9" fill="#000"/><rect x="1897.5" y="104.3" width="2.1" height="14.9" fill="#000"/><rect x="1955.6" y="104.3" width="2.8" height="14.9" fill="#000"/>
<g filter="url(#hm)"><rect x="423" y="130" width="481" height="2" fill="rgb(236,236,236)"/><rect x="423" y="132" width="481" height="2" fill="rgb(231,231,231)"/><rect x="423" y="134" width="481" height="2" fill="rgb(238,238,238)"/><rect x="423" y="136" width="481" height="2" fill="rgb(171,171,171)"/><rect x="423" y="138" width="481" height="2" fill="rgb(195,195,195)"/><rect x="423" y="140" width="481" height="2" fill="rgb(164,164,164)"/><rect x="423" y="142" width="481" height="2" fill="rgb(210,210,210)"/><rect x="423" y="144" width="481" height="2" fill="rgb(197,197,197)"/><rect x="423" y="146" width="481" height="2" fill="rgb(211,211,211)"/><rect x="423" y="148" width="481" height="2" fill="rgb(171,171,171)"/><rect x="423" y="150" width="481" height="2" fill="rgb(177,177,177)"/><rect x="423" y="152" width="481" height="2" fill="rgb(181,181,181)"/><rect x="423" y="154" width="481" height="2" fill="rgb(183,183,183)"/><rect x="423" y="156" width="481" height="2" fill="rgb(194,194,194)"/><rect x="423" y="158" width="481" height="2" fill="rgb(173,173,173)"/><rect x="423" y="160" width="481" height="2" fill="rgb(184,184,184)"/><rect x="423" y="162" width="481" height="2" fill="rgb(195,195,195)"/><rect x="423" y="164" width="481" height="2" fill="rgb(180,180,180)"/><rect x="423" y="166" width="481" height="2" fill="rgb(168,168,168)"/><rect x="423" y="168" width="481" height="2" fill="rgb(202,202,202)"/><rect x="423" y="170" width="481" height="2" fill="rgb(174,174,174)"/><rect x="423" y="172" width="481" height="2" fill="rgb(166,166,166)"/><rect x="423" y="174" width="481" height="2" fill="rgb(178,178,178)"/><rect x="423" y="176" width="481" height="2" fill="rgb(172,172,172)"/><rect x="423" y="178" width="481" height="2" fill="rgb(178,178,178)"/><rect x="423" y="180" width="481" height="2" fill="rgb(182,182,182)"/><rect x="423" y="182" width="481" height="2" fill="rgb(220,220,220)"/><rect x="423" y="184" width="481" height="2" fill="rgb(196,196,196)"/><rect x="423" y="186" width="481" height="2" fill="rgb(202,202,202)"/><rect x="423" y="188" width="481" height="2" fill="rgb(213,213,213)"/><rect x="423" y="190" width="481" height="2" fill="rgb(227,227,227)"/><rect x="423" y="192" width="481" height="2" fill="rgb(190,190,190)"/><rect x="423" y="194" width="481" height="2" fill="rgb(178,178,178)"/><rect x="423" y="196" width="481" height="2" fill="rgb(219,219,219)"/><rect x="423" y="198" width="481" height="2" fill="rgb(162,162,162)"/><rect x="423" y="200" width="481" height="2" fill="rgb(176,176,176)"/><rect x="423" y="202" width="481" height="2" fill="rgb(188,188,188)"/><rect x="423" y="204" width="481" height="2" fill="rgb(209,209,209)"/><rect x="423" y="206" width="481" height="2" fill="rgb(162,162,162)"/><rect x="423" y="208" width="481" height="2" fill="rgb(140,140,140)"/><rect x="423" y="210" width="481" height="2" fill="rgb(182,182,182)"/><rect x="423" y="212" width="481" height="2" fill="rgb(165,165,165)"/><rect x="423" y="214" width="481" height="2" fill="rgb(165,165,165)"/><rect x="423" y="216" width="481" height="2" fill="rgb(184,184,184)"/><rect x="423" y="218" width="481" height="2" fill="rgb(188,188,188)"/><rect x="423" y="220" width="481" height="2" fill="rgb(197,197,197)"/><rect x="423" y="222" width="481" height="2" fill="rgb(192,192,192)"/><rect x="423" y="224" width="481" height="2" fill="rgb(211,211,211)"/><rect x="423" y="226" width="481" height="2" fill="rgb(209,209,209)"/><rect x="423" y="228" width="481" height="2" fill="rgb(184,184,184)"/><rect x="423" y="230" width="481" height="2" fill="rgb(174,174,174)"/><rect x="423" y="232" width="481" height="2" fill="rgb(187,187,187)"/><rect x="423" y="234" width="481" height="2" fill="rgb(180,180,180)"/><rect x="423" y="236" width="481" height="2" fill="rgb(155,155,155)"/><rect x="423" y="238" width="481" height="2" fill="rgb(158,158,158)"/><rect x="423" y="240" width="481" height="2" fill="rgb(171,171,171)"/><rect x="423" y="242" width="481" height="2" fill="rgb(147,147,147)"/><rect x="423" y="244" width="481" height="2" fill="rgb(145,145,145)"/><rect x="423" y="246" width="481" height="2" fill="rgb(154,154,154)"/><rect x="423" y="248" width="481" height="2" fill="rgb(153,153,153)"/><rect x="423" y="250" width="481" height="2" fill="rgb(158,158,158)"/><rect x="423" y="252" width="481" height="2" fill="rgb(134,134,134)"/><rect x="423" y="254" width="481" height="2" fill="rgb(180,180,180)"/><rect x="423" y="256" width="481" height="2" fill="rgb(145,145,145)"/><rect x="423" y="258" width="481" height="2" fill="rgb(117,117,117)"/><rect x="423" y="260" width="481" height="2" fill="rgb(134,134,134)"/><rect x="423" y="262" width="481" height="2" fill="rgb(116,116,116)"/><rect x="423" y="264" width="481" height="2" fill="rgb(103,103,103)"/><rect x="423" y="266" width="481" height="2" fill="rgb(112,112,112)"/><rect x="423" y="268" width="481" height="2" fill="rgb(124,124,124)"/><rect x="423" y="270" width="481" height="2" fill="rgb(94,94,94)"/><rect x="423" y="272" width="481" height="2" fill="rgb(104,104,104)"/><rect x="423" y="274" width="481" height="2" fill="rgb(108,108,108)"/><rect x="423" y="276" width="481" height="2" fill="rgb(59,59,59)"/><rect x="423" y="278" width="481" height="2" fill="rgb(62,62,62)"/><rect x="423" y="280" width="481" height="1" fill="rgb(77,77,77)"/><rect x="423.0" y="130" width="6.0" height="151" fill="#000" fill-opacity="0.052"/><rect x="433.0" y="130" width="2.0" height="151" fill="#fff" fill-opacity="0.012"/><rect x="435.0" y="130" width="2.0" height="151" fill="#000" fill-opacity="0.038"/><rect x="437.0" y="130" width="2.0" height="151" fill="#000" fill-opacity="0.003"/><rect x="451.0" y="130" width="4.0" height="151" fill="#fff" fill-opacity="0.020"/><rect x="455.0" y="130" width="8.0" height="151" fill="#fff" fill-opacity="0.011"/><rect x="463.0" y="130" width="4.0" height="151" fill="#fff" fill-opacity="0.090"/><rect x="473.0" y="130" width="2.0" height="151" fill="#fff" fill-opacity="0.035"/><rect x="475.0" y="130" width="6.0" height="151" fill="#000" fill-opacity="0.000"/><rect x="481.0" y="130" width="2.0" height="151" fill="#fff" fill-opacity="0.058"/><rect x="483.0" y="130" width="8.0" height="151" fill="#000" fill-opacity="0.076"/><rect x="507.0" y="130" width="4.0" height="151" fill="#fff" fill-opacity="0.003"/><rect x="511.0" y="130" width="4.0" height="151" fill="#fff" fill-opacity="0.039"/><rect x="541.0" y="130" width="2.0" height="151" fill="#fff" fill-opacity="0.015"/><rect x="557.0" y="130" width="4.0" height="151" fill="#000" fill-opacity="0.048"/><rect x="567.0" y="130" width="4.0" height="151" fill="#fff" fill-opacity="0.002"/><rect x="575.0" y="130" width="8.0" height="151" fill="#000" fill-opacity="0.018"/><rect x="583.0" y="130" width="8.0" height="151" fill="#fff" fill-opacity="0.048"/><rect x="591.0" y="130" width="4.0" height="151" fill="#fff" fill-opacity="0.063"/><rect x="609.0" y="130" width="4.0" height="151" fill="#000" fill-opacity="0.008"/><rect x="623.0" y="130" width="4.0" height="151" fill="#000" fill-opacity="0.040"/><rect x="627.0" y="130" width="4.0" height="151" fill="#000" fill-opacity="0.051"/><rect x="633.0" y="130" width="8.0" height="151" fill="#000" fill-opacity="0.024"/><rect x="643.0" y="130" width="2.0" height="151" fill="#fff" fill-opacity="0.027"/><rect x="649.0" y="130" width="4.0" height="151" fill="#fff" fill-opacity="0.052"/><rect x="653.0" y="130" width="4.0" height="151" fill="#fff" fill-opacity="0.028"/><rect x="663.0" y="130" width="4.0" height="151" fill="#000" fill-opacity="0.076"/><rect x="671.0" y="130" width="2.0" height="151" fill="#000" fill-opacity="0.026"/><rect x="673.0" y="130" width="6.0" height="151" fill="#000" fill-opacity="0.017"/><rect x="679.0" y="130" width="8.0" height="151" fill="#000" fill-opacity="0.023"/><rect x="687.0" y="130" width="8.0" height="151" fill="#000" fill-opacity="0.028"/><rect x="697.0" y="130" width="2.0" height="151" fill="#fff" fill-opacity="0.005"/><rect x="701.0" y="130" width="6.0" height="151" fill="#000" fill-opacity="0.038"/><rect x="707.0" y="130" width="6.0" height="151" fill="#fff" fill-opacity="0.008"/><rect x="713.0" y="130" width="2.0" height="151" fill="#fff" fill-opacity="0.001"/><rect x="741.0" y="130" width="2.0" height="151" fill="#000" fill-opacity="0.001"/><rect x="743.0" y="130" width="6.0" height="151" fill="#000" fill-opacity="0.088"/><rect x="749.0" y="130" width="2.0" height="151" fill="#000" fill-opacity="0.049"/><rect x="771.0" y="130" width="6.0" height="151" fill="#fff" fill-opacity="0.025"/><rect x="777.0" y="130" width="4.0" height="151" fill="#000" fill-opacity="0.053"/><rect x="787.0" y="130" width="6.0" height="151" fill="#000" fill-opacity="0.058"/><rect x="793.0" y="130" width="4.0" height="151" fill="#000" fill-opacity="0.061"/><rect x="803.0" y="130" width="4.0" height="151" fill="#fff" fill-opacity="0.014"/><rect x="807.0" y="130" width="6.0" height="151" fill="#000" fill-opacity="0.019"/><rect x="817.0" y="130" width="4.0" height="151" fill="#fff" fill-opacity="0.032"/><rect x="821.0" y="130" width="4.0" height="151" fill="#000" fill-opacity="0.012"/><rect x="825.0" y="130" width="2.0" height="151" fill="#000" fill-opacity="0.031"/><rect x="827.0" y="130" width="4.0" height="151" fill="#000" fill-opacity="0.030"/><rect x="835.0" y="130" width="6.0" height="151" fill="#fff" fill-opacity="0.064"/><rect x="845.0" y="130" width="4.0" height="151" fill="#000" fill-opacity="0.028"/><rect x="867.0" y="130" width="2.0" height="151" fill="#fff" fill-opacity="0.023"/><rect x="869.0" y="130" width="8.0" height="151" fill="#fff" fill-opacity="0.023"/><rect x="887.0" y="130" width="6.0" height="151" fill="#fff" fill-opacity="0.051"/></g>
<g filter="url(#hm)"><rect x="909" y="130" width="455" height="2" fill="rgb(243,243,243)"/><rect x="909" y="132" width="455" height="2" fill="rgb(250,250,250)"/><rect x="909" y="134" width="455" height="2" fill="rgb(218,218,218)"/><rect x="909" y="136" width="455" height="2" fill="rgb(177,177,177)"/><rect x="909" y="138" width="455" height="2" fill="rgb(192,192,192)"/><rect x="909" y="140" width="455" height="2" fill="rgb(179,179,179)"/><rect x="909" y="142" width="455" height="2" fill="rgb(166,166,166)"/><rect x="909" y="144" width="455" height="2" fill="rgb(155,155,155)"/><rect x="909" y="146" width="455" height="2" fill="rgb(191,191,191)"/><rect x="909" y="148" width="455" height="2" fill="rgb(183,183,183)"/><rect x="909" y="150" width="455" height="2" fill="rgb(210,210,210)"/><rect x="909" y="152" width="455" height="2" fill="rgb(204,204,204)"/><rect x="909" y="154" width="455" height="2" fill="rgb(180,180,180)"/><rect x="909" y="156" width="455" height="2" fill="rgb(168,168,168)"/><rect x="909" y="158" width="455" height="2" fill="rgb(195,195,195)"/><rect x="909" y="160" width="455" height="2" fill="rgb(190,190,190)"/><rect x="909" y="162" width="455" height="2" fill="rgb(172,172,172)"/><rect x="909" y="164" width="455" height="2" fill="rgb(158,158,158)"/><rect x="909" y="166" width="455" height="2" fill="rgb(152,152,152)"/><rect x="909" y="168" width="455" height="2" fill="rgb(163,163,163)"/><rect x="909" y="170" width="455" height="2" fill="rgb(195,195,195)"/><rect x="909" y="172" width="455" height="2" fill="rgb(181,181,181)"/><rect x="909" y="174" width="455" height="2" fill="rgb(175,175,175)"/><rect x="909" y="176" width="455" height="2" fill="rgb(165,165,165)"/><rect x="909" y="178" width="455" height="2" fill="rgb(190,190,190)"/><rect x="909" y="180" width="455" height="2" fill="rgb(179,179,179)"/><rect x="909" y="182" width="455" height="2" fill="rgb(196,196,196)"/><rect x="909" y="184" width="455" height="2" fill="rgb(204,204,204)"/><rect x="909" y="186" width="455" height="2" fill="rgb(205,205,205)"/><rect x="909" y="188" width="455" height="2" fill="rgb(189,189,189)"/><rect x="909" y="190" width="455" height="2" fill="rgb(178,178,178)"/><rect x="909" y="192" width="455" height="2" fill="rgb(184,184,184)"/><rect x="909" y="194" width="455" height="2" fill="rgb(203,203,203)"/><rect x="909" y="196" width="455" height="2" fill="rgb(180,180,180)"/><rect x="909" y="198" width="455" height="2" fill="rgb(152,152,152)"/><rect x="909" y="200" width="455" height="2" fill="rgb(192,192,192)"/><rect x="909" y="202" width="455" height="2" fill="rgb(170,170,170)"/><rect x="909" y="204" width="455" height="2" fill="rgb(213,213,213)"/><rect x="909" y="206" width="455" height="2" fill="rgb(154,154,154)"/><rect x="909" y="208" width="455" height="2" fill="rgb(157,157,157)"/><rect x="909" y="210" width="455" height="2" fill="rgb(151,151,151)"/><rect x="909" y="212" width="455" height="2" fill="rgb(158,158,158)"/><rect x="909" y="214" width="455" height="2" fill="rgb(142,142,142)"/><rect x="909" y="216" width="455" height="2" fill="rgb(126,126,126)"/><rect x="909" y="218" width="455" height="2" fill="rgb(117,117,117)"/><rect x="909" y="220" width="455" height="2" fill="rgb(139,139,139)"/><rect x="909" y="222" width="455" height="2" fill="rgb(130,130,130)"/><rect x="909" y="224" width="455" height="2" fill="rgb(126,126,126)"/><rect x="909" y="226" width="455" height="2" fill="rgb(161,161,161)"/><rect x="909" y="228" width="455" height="2" fill="rgb(139,139,139)"/><rect x="909" y="230" width="455" height="2" fill="rgb(145,145,145)"/><rect x="909" y="232" width="455" height="2" fill="rgb(123,123,123)"/><rect x="909" y="234" width="455" height="2" fill="rgb(136,136,136)"/><rect x="909" y="236" width="455" height="2" fill="rgb(130,130,130)"/><rect x="909" y="238" width="455" height="2" fill="rgb(132,132,132)"/><rect x="909" y="240" width="455" height="2" fill="rgb(143,143,143)"/><rect x="909" y="242" width="455" height="2" fill="rgb(137,137,137)"/><rect x="909" y="244" width="455" height="2" fill="rgb(128,128,128)"/><rect x="909" y="246" width="455" height="2" fill="rgb(122,122,122)"/><rect x="909" y="248" width="455" height="2" fill="rgb(90,90,90)"/><rect x="909" y="250" width="455" height="2" fill="rgb(91,91,91)"/><rect x="909" y="252" width="455" height="2" fill="rgb(98,98,98)"/><rect x="909" y="254" width="455" height="2" fill="rgb(82,82,82)"/><rect x="909" y="256" width="455" height="2" fill="rgb(70,70,70)"/><rect x="909" y="258" width="455" height="2" fill="rgb(81,81,81)"/><rect x="909" y="260" width="455" height="2" fill="rgb(58,58,58)"/><rect x="909" y="262" width="455" height="2" fill="rgb(59,59,59)"/><rect x="909" y="264" width="455" height="2" fill="rgb(78,78,78)"/><rect x="909" y="266" width="455" height="2" fill="rgb(58,58,58)"/><rect x="909" y="268" width="455" height="2" fill="rgb(80,80,80)"/><rect x="909" y="270" width="455" height="2" fill="rgb(65,65,65)"/><rect x="909" y="272" width="455" height="2" fill="rgb(68,68,68)"/><rect x="909" y="274" width="455" height="2" fill="rgb(70,70,70)"/><rect x="909" y="276" width="455" height="2" fill="rgb(22,22,22)"/><rect x="909" y="278" width="455" height="2" fill="rgb(50,50,50)"/><rect x="909" y="280" width="455" height="1" fill="rgb(31,31,31)"/><rect x="909.0" y="130" width="4.0" height="151" fill="#000" fill-opacity="0.019"/><rect x="913.0" y="130" width="2.0" height="151" fill="#fff" fill-opacity="0.000"/><rect x="921.0" y="130" width="4.0" height="151" fill="#000" fill-opacity="0.048"/><rect x="925.0" y="130" width="8.0" height="151" fill="#000" fill-opacity="0.028"/><rect x="933.0" y="130" width="2.0" height="151" fill="#fff" fill-opacity="0.044"/><rect x="937.0" y="130" width="4.0" height="151" fill="#fff" fill-opacity="0.033"/><rect x="941.0" y="130" width="4.0" height="151" fill="#000" fill-opacity="0.032"/><rect x="945.0" y="130" width="6.0" height="151" fill="#000" fill-opacity="0.002"/><rect x="969.0" y="130" width="2.0" height="151" fill="#000" fill-opacity="0.013"/><rect x="971.0" y="130" width="6.0" height="151" fill="#fff" fill-opacity="0.017"/><rect x="983.0" y="130" width="4.0" height="151" fill="#000" fill-opacity="0.028"/><rect x="995.0" y="130" width="8.0" height="151" fill="#000" fill-opacity="0.069"/><rect x="1015.0" y="130" width="4.0" height="151" fill="#000" fill-opacity="0.075"/><rect x="1019.0" y="130" width="2.0" height="151" fill="#fff" fill-opacity="0.003"/><rect x="1025.0" y="130" width="4.0" height="151" fill="#fff" fill-opacity="0.011"/><rect x="1029.0" y="130" width="4.0" height="151" fill="#fff" fill-opacity="0.083"/><rect x="1037.0" y="130" width="2.0" height="151" fill="#000" fill-opacity="0.036"/><rect x="1039.0" y="130" width="8.0" height="151" fill="#000" fill-opacity="0.028"/><rect x="1047.0" y="130" width="4.0" height="151" fill="#fff" fill-opacity="0.028"/><rect x="1051.0" y="130" width="4.0" height="151" fill="#fff" fill-opacity="0.028"/><rect x="1055.0" y="130" width="8.0" height="151" fill="#000" fill-opacity="0.061"/><rect x="1071.0" y="130" width="4.0" height="151" fill="#fff" fill-opacity="0.008"/><rect x="1079.0" y="130" width="2.0" height="151" fill="#fff" fill-opacity="0.003"/><rect x="1081.0" y="130" width="8.0" height="151" fill="#000" fill-opacity="0.028"/><rect x="1089.0" y="130" width="2.0" height="151" fill="#fff" fill-opacity="0.008"/><rect x="1091.0" y="130" width="8.0" height="151" fill="#fff" fill-opacity="0.002"/><rect x="1103.0" y="130" width="8.0" height="151" fill="#fff" fill-opacity="0.016"/><rect x="1111.0" y="130" width="4.0" height="151" fill="#000" fill-opacity="0.010"/><rect x="1123.0" y="130" width="2.0" height="151" fill="#fff" fill-opacity="0.011"/><rect x="1149.0" y="130" width="4.0" height="151" fill="#fff" fill-opacity="0.074"/><rect x="1163.0" y="130" width="4.0" height="151" fill="#fff" fill-opacity="0.016"/><rect x="1167.0" y="130" width="4.0" height="151" fill="#fff" fill-opacity="0.001"/><rect x="1175.0" y="130" width="2.0" height="151" fill="#fff" fill-opacity="0.013"/><rect x="1177.0" y="130" width="4.0" height="151" fill="#000" fill-opacity="0.052"/><rect x="1181.0" y="130" width="2.0" height="151" fill="#000" fill-opacity="0.063"/><rect x="1193.0" y="130" width="2.0" height="151" fill="#fff" fill-opacity="0.024"/><rect x="1203.0" y="130" width="4.0" height="151" fill="#000" fill-opacity="0.002"/><rect x="1219.0" y="130" width="2.0" height="151" fill="#fff" fill-opacity="0.059"/><rect x="1221.0" y="130" width="4.0" height="151" fill="#fff" fill-opacity="0.036"/><rect x="1227.0" y="130" width="4.0" height="151" fill="#fff" fill-opacity="0.037"/><rect x="1237.0" y="130" width="4.0" height="151" fill="#fff" fill-opacity="0.021"/><rect x="1241.0" y="130" width="8.0" height="151" fill="#000" fill-opacity="0.021"/><rect x="1253.0" y="130" width="2.0" height="151" fill="#000" fill-opacity="0.068"/><rect x="1255.0" y="130" width="4.0" height="151" fill="#fff" fill-opacity="0.000"/><rect x="1265.0" y="130" width="4.0" height="151" fill="#000" fill-opacity="0.000"/><rect x="1279.0" y="130" width="8.0" height="151" fill="#fff" fill-opacity="0.057"/><rect x="1287.0" y="130" width="6.0" height="151" fill="#fff" fill-opacity="0.045"/><rect x="1293.0" y="130" width="2.0" height="151" fill="#fff" fill-opacity="0.031"/><rect x="1295.0" y="130" width="4.0" height="151" fill="#fff" fill-opacity="0.036"/><rect x="1309.0" y="130" width="2.0" height="151" fill="#fff" fill-opacity="0.073"/><rect x="1315.0" y="130" width="6.0" height="151" fill="#000" fill-opacity="0.014"/><rect x="1321.0" y="130" width="6.0" height="151" fill="#000" fill-opacity="0.023"/><rect x="1327.0" y="130" width="2.0" height="151" fill="#fff" fill-opacity="0.027"/><rect x="1349.0" y="130" width="2.0" height="151" fill="#fff" fill-opacity="0.066"/><rect x="1351.0" y="130" width="2.0" height="151" fill="#000" fill-opacity="0.027"/><rect x="1361.0" y="130" width="2.0" height="151" fill="#fff" fill-opacity="0.010"/></g>
<g filter="url(#hm)"><rect x="1369" y="130" width="627" height="2" fill="rgb(198,198,198)"/><rect x="1369" y="132" width="627" height="2" fill="rgb(183,183,183)"/><rect x="1369" y="134" width="627" height="2" fill="rgb(197,197,197)"/><rect x="1369" y="136" width="627" height="2" fill="rgb(183,183,183)"/><rect x="1369" y="138" width="627" height="2" fill="rgb(182,182,182)"/><rect x="1369" y="140" width="627" height="2" fill="rgb(188,188,188)"/><rect x="1369" y="142" width="627" height="2" fill="rgb(167,167,167)"/><rect x="1369" y="144" width="627" height="2" fill="rgb(215,215,215)"/><rect x="1369" y="146" width="627" height="2" fill="rgb(189,189,189)"/><rect x="1369" y="148" width="627" height="2" fill="rgb(192,192,192)"/><rect x="1369" y="150" width="627" height="2" fill="rgb(170,170,170)"/><rect x="1369" y="152" width="627" height="2" fill="rgb(127,127,127)"/><rect x="1369" y="154" width="627" height="2" fill="rgb(148,148,148)"/><rect x="1369" y="156" width="627" height="2" fill="rgb(136,136,136)"/><rect x="1369" y="158" width="627" height="2" fill="rgb(154,154,154)"/><rect x="1369" y="160" width="627" height="2" fill="rgb(152,152,152)"/><rect x="1369" y="162" width="627" height="2" fill="rgb(167,167,167)"/><rect x="1369" y="164" width="627" height="2" fill="rgb(150,150,150)"/><rect x="1369" y="166" width="627" height="2" fill="rgb(161,161,161)"/><rect x="1369" y="168" width="627" height="2" fill="rgb(170,170,170)"/><rect x="1369" y="170" width="627" height="2" fill="rgb(158,158,158)"/><rect x="1369" y="172" width="627" height="2" fill="rgb(159,159,159)"/><rect x="1369" y="174" width="627" height="2" fill="rgb(170,170,170)"/><rect x="1369" y="176" width="627" height="2" fill="rgb(185,185,185)"/><rect x="1369" y="178" width="627" height="2" fill="rgb(148,148,148)"/><rect x="1369" y="180" width="627" height="2" fill="rgb(154,154,154)"/><rect x="1369" y="182" width="627" height="2" fill="rgb(119,119,119)"/><rect x="1369" y="184" width="627" height="2" fill="rgb(122,122,122)"/><rect x="1369" y="186" width="627" height="2" fill="rgb(139,139,139)"/><rect x="1369" y="188" width="627" height="2" fill="rgb(148,148,148)"/><rect x="1369" y="190" width="627" height="2" fill="rgb(132,132,132)"/><rect x="1369" y="192" width="627" height="2" fill="rgb(160,160,160)"/><rect x="1369" y="194" width="627" height="2" fill="rgb(156,156,156)"/><rect x="1369" y="196" width="627" height="2" fill="rgb(175,175,175)"/><rect x="1369" y="198" width="627" height="2" fill="rgb(172,172,172)"/><rect x="1369" y="200" width="627" height="2" fill="rgb(166,166,166)"/><rect x="1369" y="202" width="627" height="2" fill="rgb(147,147,147)"/><rect x="1369" y="204" width="627" height="2" fill="rgb(151,151,151)"/><rect x="1369" y="206" width="627" height="2" fill="rgb(131,131,131)"/><rect x="1369" y="208" width="627" height="2" fill="rgb(127,127,127)"/><rect x="1369" y="210" width="627" height="2" fill="rgb(108,108,108)"/><rect x="1369" y="212" width="627" height="2" fill="rgb(111,111,111)"/><rect x="1369" y="214" width="627" height="2" fill="rgb(101,101,101)"/><rect x="1369" y="216" width="627" height="2" fill="rgb(103,103,103)"/><rect x="1369" y="218" width="627" height="2" fill="rgb(94,94,94)"/><rect x="1369" y="220" width="627" height="2" fill="rgb(65,65,65)"/><rect x="1369" y="222" width="627" height="2" fill="rgb(73,73,73)"/><rect x="1369" y="224" width="627" height="2" fill="rgb(76,76,76)"/><rect x="1369" y="226" width="627" height="2" fill="rgb(86,86,86)"/><rect x="1369" y="228" width="627" height="2" fill="rgb(75,75,75)"/><rect x="1369" y="230" width="627" height="2" fill="rgb(86,86,86)"/><rect x="1369" y="232" width="627" height="2" fill="rgb(90,90,90)"/><rect x="1369" y="234" width="627" height="2" fill="rgb(120,120,120)"/><rect x="1369" y="236" width="627" height="2" fill="rgb(89,89,89)"/><rect x="1369" y="238" width="627" height="2" fill="rgb(117,117,117)"/><rect x="1369" y="240" width="627" height="2" fill="rgb(85,85,85)"/><rect x="1369" y="242" width="627" height="2" fill="rgb(141,141,141)"/><rect x="1369" y="244" width="627" height="2" fill="rgb(123,123,123)"/><rect x="1369" y="246" width="627" height="2" fill="rgb(74,74,74)"/><rect x="1369" y="248" width="627" height="2" fill="rgb(87,87,87)"/><rect x="1369" y="250" width="627" height="2" fill="rgb(62,62,62)"/><rect x="1369" y="252" width="627" height="2" fill="rgb(45,45,45)"/><rect x="1369" y="254" width="627" height="2" fill="rgb(59,59,59)"/><rect x="1369" y="256" width="627" height="2" fill="rgb(47,47,47)"/><rect x="1369" y="258" width="627" height="2" fill="rgb(69,69,69)"/><rect x="1369" y="260" width="627" height="2" fill="rgb(44,44,44)"/><rect x="1369" y="262" width="627" height="2" fill="rgb(40,40,40)"/><rect x="1369" y="264" width="627" height="2" fill="rgb(59,59,59)"/><rect x="1369" y="266" width="627" height="2" fill="rgb(69,69,69)"/><rect x="1369" y="268" width="627" height="2" fill="rgb(69,69,69)"/><rect x="1369" y="270" width="627" height="2" fill="rgb(58,58,58)"/><rect x="1369" y="272" width="627" height="2" fill="rgb(25,25,25)"/><rect x="1369" y="274" width="627" height="2" fill="rgb(33,33,33)"/><rect x="1369" y="276" width="627" height="2" fill="rgb(40,40,40)"/><rect x="1369" y="278" width="627" height="2" fill="rgb(29,29,29)"/><rect x="1369" y="280" width="627" height="1" fill="rgb(49,49,49)"/><rect x="1369.0" y="130" width="8.0" height="151" fill="#000" fill-opacity="0.014"/><rect x="1407.0" y="130" width="6.0" height="151" fill="#000" fill-opacity="0.085"/><rect x="1413.0" y="130" width="2.0" height="151" fill="#000" fill-opacity="0.009"/><rect x="1415.0" y="130" width="6.0" height="151" fill="#fff" fill-opacity="0.059"/><rect x="1421.0" y="130" width="4.0" height="151" fill="#000" fill-opacity="0.012"/><rect x="1435.0" y="130" width="6.0" height="151" fill="#000" fill-opacity="0.035"/><rect x="1447.0" y="130" width="4.0" height="151" fill="#fff" fill-opacity="0.069"/><rect x="1451.0" y="130" width="2.0" height="151" fill="#000" fill-opacity="0.011"/><rect x="1453.0" y="130" width="6.0" height="151" fill="#fff" fill-opacity="0.030"/><rect x="1459.0" y="130" width="2.0" height="151" fill="#000" fill-opacity="0.022"/><rect x="1461.0" y="130" width="8.0" height="151" fill="#fff" fill-opacity="0.013"/><rect x="1483.0" y="130" width="8.0" height="151" fill="#fff" fill-opacity="0.006"/><rect x="1497.0" y="130" width="4.0" height="151" fill="#fff" fill-opacity="0.046"/><rect x="1503.0" y="130" width="4.0" height="151" fill="#fff" fill-opacity="0.019"/><rect x="1513.0" y="130" width="6.0" height="151" fill="#fff" fill-opacity="0.004"/><rect x="1519.0" y="130" width="2.0" height="151" fill="#fff" fill-opacity="0.056"/><rect x="1529.0" y="130" width="2.0" height="151" fill="#fff" fill-opacity="0.042"/><rect x="1547.0" y="130" width="2.0" height="151" fill="#fff" fill-opacity="0.010"/><rect x="1549.0" y="130" width="2.0" height="151" fill="#fff" fill-opacity="0.015"/><rect x="1573.0" y="130" width="2.0" height="151" fill="#fff" fill-opacity="0.010"/><rect x="1575.0" y="130" width="4.0" height="151" fill="#000" fill-opacity="0.024"/><rect x="1591.0" y="130" width="2.0" height="151" fill="#000" fill-opacity="0.037"/><rect x="1595.0" y="130" width="4.0" height="151" fill="#000" fill-opacity="0.010"/><rect x="1615.0" y="130" width="2.0" height="151" fill="#000" fill-opacity="0.037"/><rect x="1617.0" y="130" width="8.0" height="151" fill="#fff" fill-opacity="0.005"/><rect x="1625.0" y="130" width="4.0" height="151" fill="#000" fill-opacity="0.012"/><rect x="1639.0" y="130" width="4.0" height="151" fill="#fff" fill-opacity="0.045"/><rect x="1645.0" y="130" width="2.0" height="151" fill="#fff" fill-opacity="0.032"/><rect x="1647.0" y="130" width="8.0" height="151" fill="#000" fill-opacity="0.003"/><rect x="1671.0" y="130" width="2.0" height="151" fill="#000" fill-opacity="0.045"/><rect x="1675.0" y="130" width="2.0" height="151" fill="#fff" fill-opacity="0.057"/><rect x="1677.0" y="130" width="2.0" height="151" fill="#000" fill-opacity="0.090"/><rect x="1679.0" y="130" width="6.0" height="151" fill="#000" fill-opacity="0.038"/><rect x="1685.0" y="130" width="2.0" height="151" fill="#fff" fill-opacity="0.002"/><rect x="1687.0" y="130" width="6.0" height="151" fill="#000" fill-opacity="0.006"/><rect x="1705.0" y="130" width="2.0" height="151" fill="#000" fill-opacity="0.054"/><rect x="1727.0" y="130" width="2.0" height="151" fill="#fff" fill-opacity="0.043"/><rect x="1729.0" y="130" width="8.0" height="151" fill="#fff" fill-opacity="0.053"/><rect x="1737.0" y="130" width="4.0" height="151" fill="#000" fill-opacity="0.053"/><rect x="1743.0" y="130" width="2.0" height="151" fill="#fff" fill-opacity="0.028"/><rect x="1747.0" y="130" width="2.0" height="151" fill="#fff" fill-opacity="0.071"/><rect x="1749.0" y="130" width="2.0" height="151" fill="#000" fill-opacity="0.032"/><rect x="1761.0" y="130" width="2.0" height="151" fill="#fff" fill-opacity="0.006"/><rect x="1763.0" y="130" width="4.0" height="151" fill="#000" fill-opacity="0.019"/><rect x="1767.0" y="130" width="8.0" height="151" fill="#fff" fill-opacity="0.012"/><rect x="1785.0" y="130" width="4.0" height="151" fill="#fff" fill-opacity="0.083"/><rect x="1789.0" y="130" width="2.0" height="151" fill="#000" fill-opacity="0.045"/><rect x="1791.0" y="130" width="4.0" height="151" fill="#fff" fill-opacity="0.040"/><rect x="1799.0" y="130" width="2.0" height="151" fill="#fff" fill-opacity="0.043"/><rect x="1809.0" y="130" width="4.0" height="151" fill="#000" fill-opacity="0.024"/><rect x="1825.0" y="130" width="2.0" height="151" fill="#000" fill-opacity="0.030"/><rect x="1827.0" y="130" width="6.0" height="151" fill="#000" fill-opacity="0.022"/><rect x="1841.0" y="130" width="2.0" height="151" fill="#fff" fill-opacity="0.019"/><rect x="1843.0" y="130" width="2.0" height="151" fill="#000" fill-opacity="0.055"/><rect x="1845.0" y="130" width="4.0" height="151" fill="#000" fill-opacity="0.001"/><rect x="1849.0" y="130" width="6.0" height="151" fill="#000" fill-opacity="0.029"/><rect x="1861.0" y="130" width="8.0" height="151" fill="#000" fill-opacity="0.078"/><rect x="1883.0" y="130" width="4.0" height="151" fill="#fff" fill-opacity="0.046"/><rect x="1925.0" y="130" width="2.0" height="151" fill="#fff" fill-opacity="0.080"/><rect x="1927.0" y="130" width="2.0" height="151" fill="#000" fill-opacity="0.040"/><rect x="1933.0" y="130" width="8.0" height="151" fill="#fff" fill-opacity="0.062"/><rect x="1945.0" y="130" width="8.0" height="151" fill="#fff" fill-opacity="0.035"/><rect x="1953.0" y="130" width="8.0" height="151" fill="#fff" fill-opacity="0.061"/><rect x="1967.0" y="130" width="6.0" height="151" fill="#000" fill-opacity="0.003"/><rect x="1987.0" y="130" width="8.0" height="151" fill="#000" fill-opacity="0.051"/><rect x="1940" y="136" width="56" height="145" fill="url(#gEdge)"/></g>
<g stroke="#000" stroke-width="5.4" fill="none" stroke-linecap="butt" stroke-linejoin="miter"><path d="M451.3 240V150"/><path d="M442.3 161.8L451.3 148.6L460.3 161.8" stroke-linecap="round"/><path d="M636.8 238.6H727"/><path d="M715.3 230.6L728.6 238.6L715.3 246.6" stroke-linecap="round"/></g>
<text x="462.5" y="188.6" font-size="32.6" textLength="89.5" lengthAdjust="spacingAndGlyphs">genes</text>
<text x="618.5" y="219.4" font-size="32.6" textLength="121.5" lengthAdjust="spacingAndGlyphs">samples</text>
<text x="658.0" y="347.9" font-size="32.7" textLength="136.6" lengthAdjust="spacingAndGlyphs">Heatmap</text>
<text x="658.0" y="387.8" font-size="32.7" textLength="143.6" lengthAdjust="spacingAndGlyphs">color key:</text>
<text x="903.9" y="349" font-size="27" textLength="70.5" lengthAdjust="spacingAndGlyphs">High-</text>
<text x="904.9" y="378.7" font-size="27" textLength="69.0" lengthAdjust="spacingAndGlyphs">IL6/R</text>
<rect x="981" y="355.2" width="18.2" height="20" fill="#CC3333"/><rect x="1001.2" y="355.2" width="18.2" height="20" fill="#7FFFD4"/>
<text x="1022.4" y="349" font-size="27" textLength="63.0" lengthAdjust="spacingAndGlyphs">Low-</text>
<text x="1023.4" y="378.7" font-size="27" textLength="69.5" lengthAdjust="spacingAndGlyphs">IL6/R</text>
<text x="1216.9" y="354.6" font-size="27" textLength="50.5" lengthAdjust="spacingAndGlyphs">age</text>
<text x="1155.9" y="383.3" font-size="27" textLength="46.7" lengthAdjust="spacingAndGlyphs">min</text>
<rect x="1206.9" y="364" width="62" height="24" fill="url(#gAge)"/>
<path d="M1228 364v4M1228 384v4M1247.5 364v4M1247.5 384v4M1267 364v4M1267 384v4" stroke="#fff" stroke-opacity="0.6" stroke-width="0.9"/>
<text x="1275.4" y="383.3" font-size="27" textLength="55.5" lengthAdjust="spacingAndGlyphs">max</text>
<text x="1423.7" y="359.4" font-size="27" textLength="56.7" lengthAdjust="spacingAndGlyphs">EFS</text>
<text x="1373.1" y="383.7" font-size="27" textLength="46.0" lengthAdjust="spacingAndGlyphs">min</text>
<rect x="1420.1" y="363" width="59.6" height="24" fill="url(#gEfs)"/>
<path d="M1421 363v4M1421 383v4M1449.5 363v4M1449.5 383v4M1477.8 363v4M1477.8 383v4" stroke="#fff" stroke-opacity="0.6" stroke-width="0.9"/>
<text x="1483.9" y="383.7" font-size="27" textLength="55.9" lengthAdjust="spacingAndGlyphs">max</text>
<text x="1563.4" y="382" font-size="27" textLength="144.4" lengthAdjust="spacingAndGlyphs">MLL-fusion</text>
<rect x="1712.7" y="363.8" width="18.2" height="20" fill="#000"/>
<text x="1834.4" y="353.6" font-size="27" textLength="58.6" lengthAdjust="spacingAndGlyphs">expr</text>
<text x="1786.4" y="382" font-size="27" textLength="46.7" lengthAdjust="spacingAndGlyphs">min</text>
<rect x="1833.9" y="362.2" width="63.2" height="23.5" fill="url(#gExpr)"/>
<text x="1897.9" y="382" font-size="27" textLength="55.9" lengthAdjust="spacingAndGlyphs">max</text>
</g>
<g id="panel-c">
<text x="28.7" y="555.5" font-size="68" textLength="33.3" lengthAdjust="spacingAndGlyphs" font-weight="bold">c</text>
<text x="289.5" y="506" font-size="28" textLength="105.0" lengthAdjust="spacingAndGlyphs">Group 1</text>
<text x="738.6" y="506" font-size="28" textLength="106.0" lengthAdjust="spacingAndGlyphs">Group 2</text>
<text x="1283.6" y="507.5" font-size="28" textLength="106.7" lengthAdjust="spacingAndGlyphs">Group 3</text>
<text x="1639.3" y="507.5" font-size="28" textLength="105.8" lengthAdjust="spacingAndGlyphs">Group 4</text>
<text x="1843.6" y="507.5" font-size="28" textLength="105.7" lengthAdjust="spacingAndGlyphs">Group 5</text>
<rect x="141.4" y="518" width="479.6" height="12.4" fill="#000"/><rect x="621" y="518.5" width="423" height="12" fill="#808080"/>
<rect x="1081" y="519.5" width="324.4" height="12.5" fill="#A9D18E"/><rect x="1434.4" y="519.5" width="20.1" height="12.5" fill="#A9D18E"/><rect x="1498" y="519.5" width="19.0" height="12.5" fill="#A9D18E"/><rect x="1527" y="519.5" width="21.0" height="12.5" fill="#A9D18E"/><rect x="1558.6" y="519.5" width="10.0" height="12.5" fill="#A9D18E"/><rect x="1579" y="519.5" width="11.6" height="12.5" fill="#A9D18E"/>
<rect x="1600" y="519.5" width="181.8" height="12.5" fill="#0099D8"/><rect x="1784.8" y="519.5" width="215.5" height="12.5" fill="#7030A0"/>
<text x="203.1" y="566.4" font-size="28" textLength="354.3" lengthAdjust="spacingAndGlyphs">MLLT1 / T3 / T4 / T10 / ELL</text>
<text x="646.2" y="566.4" font-size="28" textLength="105.9" lengthAdjust="spacingAndGlyphs" style="fill:#F47A20">MLLT10</text>
<text x="841.0" y="565" font-size="28" textLength="89.4" lengthAdjust="spacingAndGlyphs" style="fill:#A00C0C">MLLT3</text>
<text x="975.8" y="566.5" font-size="28" textLength="89.6" lengthAdjust="spacingAndGlyphs" style="fill:#FF00FF">MLLT4</text>
<rect x="141.4" y="576.4" width="483" height="10" fill="#000"/><rect x="624.4" y="577" width="153.3" height="9" fill="#FF6A0A"/><rect x="777.7" y="577" width="216.3" height="9" fill="#A80000"/><rect x="994" y="577" width="52" height="9" fill="#FF00FF"/>
<path d="M2 637.7H1999M2 673.8H1999M2 709.9H1999" stroke="#e2e2e2" stroke-width="1.6" fill="none"/>
<rect x="141.40" y="601.8" width="934.12" height="35.9" fill="#FCE4EC"/><rect x="1075.52" y="601.8" width="195.04" height="35.9" fill="#92D050"/><rect x="1270.55" y="601.8" width="164.24" height="35.9" fill="#FFEB9C"/><rect x="1434.79" y="601.8" width="61.59" height="35.9" fill="#ADE8FC"/><rect x="1496.38" y="601.8" width="30.80" height="35.9" fill="#F4B183"/><rect x="1527.18" y="601.8" width="30.80" height="35.9" fill="#C39BE1"/><rect x="1557.97" y="601.8" width="20.53" height="35.9" fill="#E1DC00"/><rect x="1578.50" y="601.8" width="20.53" height="35.9" fill="#FFA0FF"/><rect x="1660.62" y="601.8" width="10.27" height="35.9" fill="#BFBFBF"/><rect x="1783.80" y="601.8" width="41.06" height="35.9" fill="#BFBFBF"/>
<rect x="141.40" y="637.7" width="318.22" height="36.1" fill="#FDC5CC"/><rect x="1075.52" y="637.7" width="123.18" height="36.1" fill="#FDC5CC"/><rect x="1393.73" y="637.7" width="10.26" height="36.1" fill="#FDC5CC"/><rect x="1434.79" y="637.7" width="20.53" height="36.1" fill="#FDC5CC"/><rect x="1557.97" y="637.7" width="10.26" height="36.1" fill="#FDC5CC"/><rect x="1578.50" y="637.7" width="10.26" height="36.1" fill="#FDC5CC"/><rect x="1599.03" y="637.7" width="71.86" height="36.1" fill="#FDC5CC"/>
<rect x="254.31" y="673.8" width="10.27" height="36.1" fill="#F28585"/><rect x="439.09" y="673.8" width="10.26" height="36.1" fill="#F28585"/><rect x="449.35" y="673.8" width="20.53" height="36.1" fill="#A60F0F"/><rect x="469.88" y="673.8" width="123.18" height="36.1" fill="#F28585"/><rect x="593.06" y="673.8" width="30.79" height="36.1" fill="#A60F0F"/><rect x="1198.70" y="673.8" width="41.06" height="36.1" fill="#F28585"/><rect x="1362.94" y="673.8" width="10.27" height="36.1" fill="#F28585"/><rect x="1373.20" y="673.8" width="10.26" height="36.1" fill="#A60F0F"/><rect x="1383.47" y="673.8" width="20.53" height="36.1" fill="#F28585"/><rect x="1496.38" y="673.8" width="10.27" height="36.1" fill="#F28585"/><rect x="1506.65" y="673.8" width="10.26" height="36.1" fill="#A60F0F"/><rect x="1599.03" y="673.8" width="10.26" height="36.1" fill="#A60F0F"/><rect x="1670.89" y="673.8" width="61.59" height="36.1" fill="#F28585"/>
<rect x="459.62" y="709.9" width="10.26" height="35.3" fill="#F9A0CF"/><rect x="1270.55" y="709.9" width="112.91" height="35.3" fill="#F9A0CF"/><rect x="1527.18" y="709.9" width="20.53" height="35.3" fill="#F9A0CF"/><rect x="1609.30" y="709.9" width="10.27" height="35.3" fill="#F9A0CF"/><rect x="1670.89" y="709.9" width="10.26" height="35.3" fill="#F9A0CF"/><rect x="1732.48" y="709.9" width="51.33" height="35.3" fill="#F9A0CF"/>
<path d="M141.40 601.8V745.2M151.67 601.8V745.2M161.93 601.8V745.2M172.19 601.8V745.2M182.46 601.8V745.2M192.73 601.8V745.2M202.99 601.8V745.2M213.25 601.8V745.2M223.52 601.8V745.2M233.79 601.8V745.2M244.05 601.8V745.2M254.31 601.8V745.2M264.58 601.8V745.2M274.85 601.8V745.2M285.11 601.8V745.2M295.38 601.8V745.2M305.64 601.8V745.2M315.90 601.8V745.2M326.17 601.8V745.2M336.44 601.8V745.2M346.70 601.8V745.2M356.97 601.8V745.2M367.23 601.8V745.2M377.50 601.8V745.2M387.76 601.8V745.2M398.02 601.8V745.2M408.29 601.8V745.2M418.56 601.8V745.2M428.82 601.8V745.2M439.09 601.8V745.2M449.35 601.8V745.2M459.62 601.8V745.2M469.88 601.8V745.2M480.14 601.8V745.2M490.41 601.8V745.2M500.68 601.8V745.2M510.94 601.8V745.2M521.21 601.8V745.2M531.47 601.8V745.2M541.74 601.8V745.2M552.00 601.8V745.2M562.26 601.8V745.2M572.53 601.8V745.2M582.80 601.8V745.2M593.06 601.8V745.2M603.33 601.8V745.2M613.59 601.8V745.2M623.86 601.8V745.2M634.12 601.8V745.2M644.38 601.8V745.2M654.65 601.8V745.2M664.91 601.8V745.2M675.18 601.8V745.2M685.45 601.8V745.2M695.71 601.8V745.2M705.98 601.8V745.2M716.24 601.8V745.2M726.50 601.8V745.2M736.77 601.8V745.2M747.03 601.8V745.2M757.30 601.8V745.2M767.57 601.8V745.2M777.83 601.8V745.2M788.10 601.8V745.2M798.36 601.8V745.2M808.62 601.8V745.2M818.89 601.8V745.2M829.15 601.8V745.2M839.42 601.8V745.2M849.69 601.8V745.2M859.95 601.8V745.2M870.22 601.8V745.2M880.48 601.8V745.2M890.75 601.8V745.2M901.01 601.8V745.2M911.27 601.8V745.2M921.54 601.8V745.2M931.81 601.8V745.2M942.07 601.8V745.2M952.34 601.8V745.2M962.60 601.8V745.2M972.87 601.8V745.2M983.13 601.8V745.2M993.39 601.8V745.2M1003.66 601.8V745.2M1013.93 601.8V745.2M1024.19 601.8V745.2M1034.46 601.8V745.2M1044.72 601.8V745.2M1054.99 601.8V745.2M1065.25 601.8V745.2M1075.52 601.8V745.2M1085.78 601.8V745.2M1096.05 601.8V745.2M1106.31 601.8V745.2M1116.58 601.8V745.2M1126.84 601.8V745.2M1137.11 601.8V745.2M1147.37 601.8V745.2M1157.63 601.8V745.2M1167.90 601.8V745.2M1178.17 601.8V745.2M1188.43 601.8V745.2M1198.70 601.8V745.2M1208.96 601.8V745.2M1219.23 601.8V745.2M1229.49 601.8V745.2M1239.76 601.8V745.2M1250.02 601.8V745.2M1260.29 601.8V745.2M1270.55 601.8V745.2M1280.82 601.8V745.2M1291.08 601.8V745.2M1301.35 601.8V745.2M1311.61 601.8V745.2M1321.88 601.8V745.2M1332.14 601.8V745.2M1342.41 601.8V745.2M1352.67 601.8V745.2M1362.94 601.8V745.2M1373.20 601.8V745.2M1383.47 601.8V745.2M1393.73 601.8V745.2M1404.00 601.8V745.2M1414.26 601.8V745.2M1424.53 601.8V745.2M1434.79 601.8V745.2M1445.06 601.8V745.2M1455.32 601.8V745.2M1465.59 601.8V745.2M1475.85 601.8V745.2M1486.12 601.8V745.2M1496.38 601.8V745.2M1506.65 601.8V745.2M1516.91 601.8V745.2M1527.18 601.8V745.2M1537.44 601.8V745.2M1547.71 601.8V745.2M1557.97 601.8V745.2M1568.24 601.8V745.2M1578.50 601.8V745.2M1588.77 601.8V745.2M1599.03 601.8V745.2M1609.30 601.8V745.2M1619.56 601.8V745.2M1629.83 601.8V745.2M1640.09 601.8V745.2M1650.36 601.8V745.2M1660.62 601.8V745.2M1670.89 601.8V745.2M1681.15 601.8V745.2M1691.42 601.8V745.2M1701.68 601.8V745.2M1711.95 601.8V745.2M1722.21 601.8V745.2M1732.48 601.8V745.2M1742.74 601.8V745.2M1753.01 601.8V745.2M1763.27 601.8V745.2M1773.54 601.8V745.2M1783.80 601.8V745.2M1794.07 601.8V745.2M1804.33 601.8V745.2M1814.60 601.8V745.2M1824.86 601.8V745.2M1835.13 601.8V745.2M1845.39 601.8V745.2M1855.66 601.8V745.2M1865.92 601.8V745.2M1876.19 601.8V745.2M1886.45 601.8V745.2M1896.72 601.8V745.2M1906.98 601.8V745.2M1917.25 601.8V745.2M1927.51 601.8V745.2M1937.78 601.8V745.2M1948.04 601.8V745.2M1958.31 601.8V745.2M1968.57 601.8V745.2M1978.84 601.8V745.2M1989.10 601.8V745.2M1999.37 601.8V745.2" stroke="#cfcfcf" stroke-width="0.9" fill="none" stroke-opacity="0.85"/>
<rect x="1.5" y="600.7" width="1997.7" height="145.6" fill="none" stroke="#000" stroke-width="2.8"/>
<text x="6.8" y="633" font-size="32" textLength="112.2" lengthAdjust="spacingAndGlyphs">Fusions</text>
<text x="6.8" y="669" font-size="32" textLength="116.3" lengthAdjust="spacingAndGlyphs">RAS.PM</text>
<text x="6.8" y="705.2" font-size="32" textLength="126.3" lengthAdjust="spacingAndGlyphs">FLT3.PM</text>
<text x="6.8" y="741.3" font-size="32" textLength="126.8" lengthAdjust="spacingAndGlyphs">FLT3.ITD</text>
<text x="4.4" y="813.7" font-size="32" textLength="349.6" lengthAdjust="spacingAndGlyphs">Fusion category colors:</text>
<rect x="2" y="830.5" width="221.8" height="40.5" fill="#FCE4EC" stroke="#222" stroke-width="1.3"/><rect x="223.8" y="830.5" width="221.0" height="40.5" fill="#92D050" stroke="#222" stroke-width="1.3"/><rect x="444.8" y="830.5" width="220.9" height="40.5" fill="#FFEB9C" stroke="#222" stroke-width="1.3"/><rect x="665.7" y="830.5" width="221.0" height="40.5" fill="#ADE8FC" stroke="#222" stroke-width="1.3"/><rect x="886.7" y="830.5" width="221.3" height="40.5" fill="#F4B183" stroke="#222" stroke-width="1.3"/><rect x="1108" y="830.5" width="221.3" height="40.5" fill="#C39BE1" stroke="#222" stroke-width="1.3"/><rect x="1329.3" y="830.5" width="230.4" height="40.5" fill="#E1DC00" stroke="#222" stroke-width="1.3"/><rect x="1559.7" y="830.5" width="220.6" height="40.5" fill="#FFA0FF" stroke="#222" stroke-width="1.3"/><rect x="1780.3" y="830.5" width="220.3" height="40.5" fill="#BFBFBF" stroke="#222" stroke-width="1.3"/>
<text x="60.3" y="863.7" font-size="31" textLength="107.3" lengthAdjust="spacingAndGlyphs" style="fill:#C00000">KMT2A</text>
<text x="293.6" y="863.7" font-size="31" textLength="82.0" lengthAdjust="spacingAndGlyphs" style="fill:#000">Inv16</text>
<text x="501.6" y="863.7" font-size="31" textLength="103.0" lengthAdjust="spacingAndGlyphs" style="fill:#A05A00">NUP98</text>
<text x="725.0" y="863.7" font-size="31" textLength="102.4" lengthAdjust="spacingAndGlyphs" style="fill:#000">RUNX1</text>
<text x="949.5" y="863.7" font-size="31" textLength="97.8" lengthAdjust="spacingAndGlyphs" style="fill:#000">KAT6A</text>
<text x="1124.3" y="863.7" font-size="31" textLength="190.5" lengthAdjust="spacingAndGlyphs" style="fill:#000">DEK-NUP214</text>
<text x="1330.9" y="863.7" font-size="31" textLength="227.1" lengthAdjust="spacingAndGlyphs" style="fill:#000">DDX3X-MLLT10</text>
<text x="1568.6" y="863.7" font-size="31" textLength="200.6" lengthAdjust="spacingAndGlyphs" style="fill:#000">RBM15-MKL1</text>
<text x="1816.9" y="863.7" font-size="31" textLength="148.1" lengthAdjust="spacingAndGlyphs" style="fill:#000">singletons</text>
</g>
</svg>
</body></html>
